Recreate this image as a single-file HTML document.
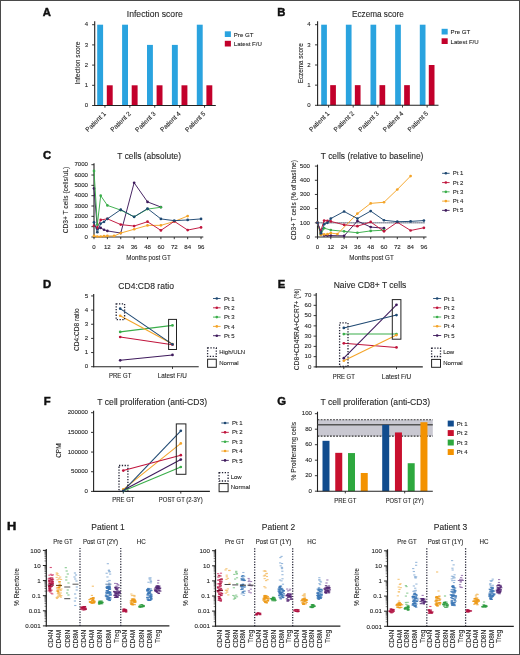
<!DOCTYPE html>
<html><head><meta charset="utf-8"><title>Figure</title>
<style>
html,body{margin:0;padding:0;background:#fff;}
svg{display:block;font-family:"Liberation Sans",sans-serif;will-change:transform;}
text{fill:#262626;stroke:#262626;stroke-width:0.1px;}
</style></head><body>
<svg width="520" height="655" viewBox="0 0 520 655">
<rect x="0" y="0" width="520" height="655" fill="#fff"/>
<text x="42.70" y="15.90" font-size="11.3" font-weight="bold" fill="#111" style="stroke:#111;stroke-width:0.45px;fill:#111">A</text>
<line x1="94.70" y1="21.20" x2="94.70" y2="106.00" stroke="#222" stroke-width="1.1"/>
<line x1="92.10" y1="105.50" x2="94.70" y2="105.50" stroke="#222" stroke-width="0.9"/>
<text x="88.20" y="107.18" font-size="6" text-anchor="end">0</text>
<line x1="92.10" y1="85.30" x2="94.70" y2="85.30" stroke="#222" stroke-width="0.9"/>
<text x="88.20" y="86.98" font-size="6" text-anchor="end">1</text>
<line x1="92.10" y1="65.10" x2="94.70" y2="65.10" stroke="#222" stroke-width="0.9"/>
<text x="88.20" y="66.78" font-size="6" text-anchor="end">2</text>
<line x1="92.10" y1="44.90" x2="94.70" y2="44.90" stroke="#222" stroke-width="0.9"/>
<text x="88.20" y="46.58" font-size="6" text-anchor="end">3</text>
<line x1="92.10" y1="24.70" x2="94.70" y2="24.70" stroke="#222" stroke-width="0.9"/>
<text x="88.20" y="26.38" font-size="6" text-anchor="end">4</text>
<rect x="97.20" y="24.70" width="5.90" height="80.80" fill="#2aa3df"/>
<rect x="106.80" y="85.30" width="5.90" height="20.20" fill="#c2002b"/>
<rect x="122.10" y="24.70" width="5.90" height="80.80" fill="#2aa3df"/>
<rect x="131.70" y="85.30" width="5.90" height="20.20" fill="#c2002b"/>
<rect x="147.00" y="44.90" width="5.90" height="60.60" fill="#2aa3df"/>
<rect x="156.60" y="85.30" width="5.90" height="20.20" fill="#c2002b"/>
<rect x="171.90" y="44.90" width="5.90" height="60.60" fill="#2aa3df"/>
<rect x="181.50" y="85.30" width="5.90" height="20.20" fill="#c2002b"/>
<rect x="196.80" y="24.70" width="5.90" height="80.80" fill="#2aa3df"/>
<rect x="206.40" y="85.30" width="5.90" height="20.20" fill="#c2002b"/>
<line x1="94.20" y1="105.50" x2="215.80" y2="105.50" stroke="#222" stroke-width="1.1"/>
<line x1="104.95" y1="105.50" x2="104.95" y2="107.70" stroke="#222" stroke-width="0.9"/>
<line x1="129.85" y1="105.50" x2="129.85" y2="107.70" stroke="#222" stroke-width="0.9"/>
<line x1="154.75" y1="105.50" x2="154.75" y2="107.70" stroke="#222" stroke-width="0.9"/>
<line x1="179.65" y1="105.50" x2="179.65" y2="107.70" stroke="#222" stroke-width="0.9"/>
<line x1="204.55" y1="105.50" x2="204.55" y2="107.70" stroke="#222" stroke-width="0.9"/>
<text x="106.35" y="114.10" font-size="6.55" text-anchor="end" transform="rotate(-45 106.35 114.10)">Patient 1</text>
<text x="131.25" y="114.10" font-size="6.55" text-anchor="end" transform="rotate(-45 131.25 114.10)">Patient 2</text>
<text x="156.15" y="114.10" font-size="6.55" text-anchor="end" transform="rotate(-45 156.15 114.10)">Patient 3</text>
<text x="181.05" y="114.10" font-size="6.55" text-anchor="end" transform="rotate(-45 181.05 114.10)">Patient 4</text>
<text x="205.95" y="114.10" font-size="6.55" text-anchor="end" transform="rotate(-45 205.95 114.10)">Patient 5</text>
<text x="154.80" y="16.60" font-size="8.2" text-anchor="middle" textLength="56" lengthAdjust="spacingAndGlyphs">Infection score</text>
<text x="79.60" y="63.00" font-size="7.6" text-anchor="middle" transform="rotate(-90 79.60 63.00)" textLength="43" lengthAdjust="spacingAndGlyphs">Infection score</text>
<rect x="224.80" y="31.30" width="6.10" height="5.70" fill="#2aa3df"/>
<rect x="224.80" y="40.80" width="6.10" height="5.70" fill="#c2002b"/>
<text x="233.80" y="36.60" font-size="6.1">Pre GT</text>
<text x="233.80" y="46.10" font-size="6.1">Latest F/U</text>
<text x="277.30" y="16.40" font-size="11.3" font-weight="bold" fill="#111" style="stroke:#111;stroke-width:0.45px;fill:#111">B</text>
<line x1="317.60" y1="21.20" x2="317.60" y2="105.80" stroke="#222" stroke-width="1.1"/>
<line x1="315.00" y1="105.30" x2="317.60" y2="105.30" stroke="#222" stroke-width="0.9"/>
<text x="310.60" y="106.98" font-size="6" text-anchor="end">0</text>
<line x1="315.00" y1="85.15" x2="317.60" y2="85.15" stroke="#222" stroke-width="0.9"/>
<text x="310.60" y="86.83" font-size="6" text-anchor="end">1</text>
<line x1="315.00" y1="65.00" x2="317.60" y2="65.00" stroke="#222" stroke-width="0.9"/>
<text x="310.60" y="66.68" font-size="6" text-anchor="end">2</text>
<line x1="315.00" y1="44.85" x2="317.60" y2="44.85" stroke="#222" stroke-width="0.9"/>
<text x="310.60" y="46.53" font-size="6" text-anchor="end">3</text>
<line x1="315.00" y1="24.70" x2="317.60" y2="24.70" stroke="#222" stroke-width="0.9"/>
<text x="310.60" y="26.38" font-size="6" text-anchor="end">4</text>
<rect x="321.20" y="24.70" width="5.70" height="80.60" fill="#2aa3df"/>
<rect x="330.20" y="85.15" width="5.70" height="20.15" fill="#c2002b"/>
<rect x="345.85" y="24.70" width="5.70" height="80.60" fill="#2aa3df"/>
<rect x="354.85" y="85.15" width="5.70" height="20.15" fill="#c2002b"/>
<rect x="370.50" y="24.70" width="5.70" height="80.60" fill="#2aa3df"/>
<rect x="379.50" y="85.15" width="5.70" height="20.15" fill="#c2002b"/>
<rect x="395.15" y="24.70" width="5.70" height="80.60" fill="#2aa3df"/>
<rect x="404.15" y="85.15" width="5.70" height="20.15" fill="#c2002b"/>
<rect x="419.80" y="24.70" width="5.70" height="80.60" fill="#2aa3df"/>
<rect x="428.80" y="65.00" width="5.70" height="40.30" fill="#c2002b"/>
<line x1="317.10" y1="105.30" x2="438.50" y2="105.30" stroke="#222" stroke-width="1.1"/>
<line x1="328.55" y1="105.30" x2="328.55" y2="107.50" stroke="#222" stroke-width="0.9"/>
<line x1="353.20" y1="105.30" x2="353.20" y2="107.50" stroke="#222" stroke-width="0.9"/>
<line x1="377.85" y1="105.30" x2="377.85" y2="107.50" stroke="#222" stroke-width="0.9"/>
<line x1="402.50" y1="105.30" x2="402.50" y2="107.50" stroke="#222" stroke-width="0.9"/>
<line x1="427.15" y1="105.30" x2="427.15" y2="107.50" stroke="#222" stroke-width="0.9"/>
<text x="329.95" y="113.90" font-size="6.55" text-anchor="end" transform="rotate(-45 329.95 113.90)">Patient 1</text>
<text x="354.60" y="113.90" font-size="6.55" text-anchor="end" transform="rotate(-45 354.60 113.90)">Patient 2</text>
<text x="379.25" y="113.90" font-size="6.55" text-anchor="end" transform="rotate(-45 379.25 113.90)">Patient 3</text>
<text x="403.90" y="113.90" font-size="6.55" text-anchor="end" transform="rotate(-45 403.90 113.90)">Patient 4</text>
<text x="428.55" y="113.90" font-size="6.55" text-anchor="end" transform="rotate(-45 428.55 113.90)">Patient 5</text>
<text x="377.90" y="16.60" font-size="8.2" text-anchor="middle" textLength="51.8" lengthAdjust="spacingAndGlyphs">Eczema score</text>
<text x="302.80" y="63.30" font-size="7.6" text-anchor="middle" transform="rotate(-90 302.80 63.30)" textLength="40" lengthAdjust="spacingAndGlyphs">Eczema score</text>
<rect x="441.60" y="28.80" width="6.10" height="5.70" fill="#2aa3df"/>
<rect x="441.60" y="38.30" width="6.10" height="5.70" fill="#c2002b"/>
<text x="450.60" y="34.10" font-size="6.1">Pre GT</text>
<text x="450.60" y="43.60" font-size="6.1">Latest F/U</text>
<text x="43.10" y="158.60" font-size="11.3" font-weight="bold" fill="#111" style="stroke:#111;stroke-width:0.45px;fill:#111">C</text>
<line x1="94.00" y1="163.19" x2="94.00" y2="237.50" stroke="#222" stroke-width="1.1"/>
<line x1="91.40" y1="237.00" x2="94.00" y2="237.00" stroke="#222" stroke-width="0.9"/>
<text x="88.00" y="238.71" font-size="6.1" text-anchor="end">0</text>
<line x1="91.40" y1="226.67" x2="94.00" y2="226.67" stroke="#222" stroke-width="0.9"/>
<text x="88.00" y="228.38" font-size="6.1" text-anchor="end">1000</text>
<line x1="91.40" y1="216.34" x2="94.00" y2="216.34" stroke="#222" stroke-width="0.9"/>
<text x="88.00" y="218.05" font-size="6.1" text-anchor="end">2000</text>
<line x1="91.40" y1="206.01" x2="94.00" y2="206.01" stroke="#222" stroke-width="0.9"/>
<text x="88.00" y="207.72" font-size="6.1" text-anchor="end">3000</text>
<line x1="91.40" y1="195.68" x2="94.00" y2="195.68" stroke="#222" stroke-width="0.9"/>
<text x="88.00" y="197.39" font-size="6.1" text-anchor="end">4000</text>
<line x1="91.40" y1="185.35" x2="94.00" y2="185.35" stroke="#222" stroke-width="0.9"/>
<text x="88.00" y="187.06" font-size="6.1" text-anchor="end">5000</text>
<line x1="91.40" y1="175.02" x2="94.00" y2="175.02" stroke="#222" stroke-width="0.9"/>
<text x="88.00" y="176.73" font-size="6.1" text-anchor="end">6000</text>
<line x1="91.40" y1="164.69" x2="94.00" y2="164.69" stroke="#222" stroke-width="0.9"/>
<text x="88.00" y="166.40" font-size="6.1" text-anchor="end">7000</text>
<line x1="93.50" y1="237.00" x2="203.30" y2="237.00" stroke="#222" stroke-width="1.1"/>
<line x1="94.00" y1="237.00" x2="94.00" y2="239.20" stroke="#222" stroke-width="0.9"/>
<line x1="107.38" y1="237.00" x2="107.38" y2="239.20" stroke="#222" stroke-width="0.9"/>
<line x1="120.76" y1="237.00" x2="120.76" y2="239.20" stroke="#222" stroke-width="0.9"/>
<line x1="134.14" y1="237.00" x2="134.14" y2="239.20" stroke="#222" stroke-width="0.9"/>
<line x1="147.52" y1="237.00" x2="147.52" y2="239.20" stroke="#222" stroke-width="0.9"/>
<line x1="160.90" y1="237.00" x2="160.90" y2="239.20" stroke="#222" stroke-width="0.9"/>
<line x1="174.28" y1="237.00" x2="174.28" y2="239.20" stroke="#222" stroke-width="0.9"/>
<line x1="187.66" y1="237.00" x2="187.66" y2="239.20" stroke="#222" stroke-width="0.9"/>
<line x1="201.04" y1="237.00" x2="201.04" y2="239.20" stroke="#222" stroke-width="0.9"/>
<text x="94.00" y="248.80" font-size="6.1" text-anchor="middle">0</text>
<text x="107.38" y="248.80" font-size="6.1" text-anchor="middle">12</text>
<text x="120.76" y="248.80" font-size="6.1" text-anchor="middle">24</text>
<text x="134.14" y="248.80" font-size="6.1" text-anchor="middle">36</text>
<text x="147.52" y="248.80" font-size="6.1" text-anchor="middle">48</text>
<text x="160.90" y="248.80" font-size="6.1" text-anchor="middle">60</text>
<text x="174.28" y="248.80" font-size="6.1" text-anchor="middle">72</text>
<text x="187.66" y="248.80" font-size="6.1" text-anchor="middle">84</text>
<text x="201.04" y="248.80" font-size="6.1" text-anchor="middle">96</text>
<polyline points="94.00,188.45 97.34,228.53 100.69,227.91 104.03,229.77 107.38,230.91 120.76,233.07 134.14,182.77 147.52,201.88 160.90,207.04" fill="none" stroke="#3e1a5c" stroke-width="0.95" stroke-linejoin="round"/>
<circle cx="94.00" cy="188.45" r="1.35" fill="#3e1a5c"/>
<circle cx="97.34" cy="228.53" r="1.35" fill="#3e1a5c"/>
<circle cx="100.69" cy="227.91" r="1.35" fill="#3e1a5c"/>
<circle cx="104.03" cy="229.77" r="1.35" fill="#3e1a5c"/>
<circle cx="107.38" cy="230.91" r="1.35" fill="#3e1a5c"/>
<circle cx="120.76" cy="233.07" r="1.35" fill="#3e1a5c"/>
<circle cx="134.14" cy="182.77" r="1.35" fill="#3e1a5c"/>
<circle cx="147.52" cy="201.88" r="1.35" fill="#3e1a5c"/>
<circle cx="160.90" cy="207.04" r="1.35" fill="#3e1a5c"/>
<polyline points="94.00,235.97 97.34,236.48 100.69,236.48 104.03,236.17 107.38,235.97 114.07,235.97 120.76,233.07 134.14,229.25 147.52,225.43 160.90,225.33 174.28,221.50 187.66,216.03" fill="none" stroke="#f4a428" stroke-width="0.95" stroke-linejoin="round"/>
<circle cx="94.00" cy="235.97" r="1.35" fill="#f4a428"/>
<circle cx="97.34" cy="236.48" r="1.35" fill="#f4a428"/>
<circle cx="100.69" cy="236.48" r="1.35" fill="#f4a428"/>
<circle cx="104.03" cy="236.17" r="1.35" fill="#f4a428"/>
<circle cx="107.38" cy="235.97" r="1.35" fill="#f4a428"/>
<circle cx="114.07" cy="235.97" r="1.35" fill="#f4a428"/>
<circle cx="120.76" cy="233.07" r="1.35" fill="#f4a428"/>
<circle cx="134.14" cy="229.25" r="1.35" fill="#f4a428"/>
<circle cx="147.52" cy="225.43" r="1.35" fill="#f4a428"/>
<circle cx="160.90" cy="225.33" r="1.35" fill="#f4a428"/>
<circle cx="174.28" cy="221.50" r="1.35" fill="#f4a428"/>
<circle cx="187.66" cy="216.03" r="1.35" fill="#f4a428"/>
<polyline points="94.00,225.64 97.34,227.70 100.69,219.96 107.38,218.82 120.76,224.60 134.14,226.05 147.52,221.71 160.90,230.39 174.28,221.30 187.66,230.08 201.04,227.39" fill="none" stroke="#c0143c" stroke-width="0.95" stroke-linejoin="round"/>
<circle cx="94.00" cy="225.64" r="1.35" fill="#c0143c"/>
<circle cx="97.34" cy="227.70" r="1.35" fill="#c0143c"/>
<circle cx="100.69" cy="219.96" r="1.35" fill="#c0143c"/>
<circle cx="107.38" cy="218.82" r="1.35" fill="#c0143c"/>
<circle cx="120.76" cy="224.60" r="1.35" fill="#c0143c"/>
<circle cx="134.14" cy="226.05" r="1.35" fill="#c0143c"/>
<circle cx="147.52" cy="221.71" r="1.35" fill="#c0143c"/>
<circle cx="160.90" cy="230.39" r="1.35" fill="#c0143c"/>
<circle cx="174.28" cy="221.30" r="1.35" fill="#c0143c"/>
<circle cx="187.66" cy="230.08" r="1.35" fill="#c0143c"/>
<circle cx="201.04" cy="227.39" r="1.35" fill="#c0143c"/>
<polyline points="94.00,170.89 97.34,224.60 100.69,195.68 107.38,205.39 120.76,210.14 134.14,216.86 147.52,209.11 160.90,207.25" fill="none" stroke="#3aae4a" stroke-width="0.95" stroke-linejoin="round"/>
<circle cx="94.00" cy="170.89" r="1.35" fill="#3aae4a"/>
<circle cx="97.34" cy="224.60" r="1.35" fill="#3aae4a"/>
<circle cx="100.69" cy="195.68" r="1.35" fill="#3aae4a"/>
<circle cx="107.38" cy="205.39" r="1.35" fill="#3aae4a"/>
<circle cx="120.76" cy="210.14" r="1.35" fill="#3aae4a"/>
<circle cx="134.14" cy="216.86" r="1.35" fill="#3aae4a"/>
<circle cx="147.52" cy="209.11" r="1.35" fill="#3aae4a"/>
<circle cx="160.90" cy="207.25" r="1.35" fill="#3aae4a"/>
<polyline points="94.00,222.33 97.34,232.14 100.69,223.57 104.03,221.81 107.38,218.82 120.76,209.63 134.14,216.86 147.52,208.59 160.90,218.92 174.28,220.68 187.66,219.96 201.04,218.92" fill="none" stroke="#1e4872" stroke-width="0.95" stroke-linejoin="round"/>
<circle cx="94.00" cy="222.33" r="1.35" fill="#1e4872"/>
<circle cx="97.34" cy="232.14" r="1.35" fill="#1e4872"/>
<circle cx="100.69" cy="223.57" r="1.35" fill="#1e4872"/>
<circle cx="104.03" cy="221.81" r="1.35" fill="#1e4872"/>
<circle cx="107.38" cy="218.82" r="1.35" fill="#1e4872"/>
<circle cx="120.76" cy="209.63" r="1.35" fill="#1e4872"/>
<circle cx="134.14" cy="216.86" r="1.35" fill="#1e4872"/>
<circle cx="147.52" cy="208.59" r="1.35" fill="#1e4872"/>
<circle cx="160.90" cy="218.92" r="1.35" fill="#1e4872"/>
<circle cx="174.28" cy="220.68" r="1.35" fill="#1e4872"/>
<circle cx="187.66" cy="219.96" r="1.35" fill="#1e4872"/>
<circle cx="201.04" cy="218.92" r="1.35" fill="#1e4872"/>
<text x="149.20" y="158.50" font-size="8.3" text-anchor="middle" textLength="63.7" lengthAdjust="spacingAndGlyphs">T cells (absolute)</text>
<text x="148.50" y="259.70" font-size="8" text-anchor="middle" textLength="44.5" lengthAdjust="spacingAndGlyphs">Months post GT</text>
<text x="68.00" y="200.00" font-size="7.4" text-anchor="middle" transform="rotate(-90 68.00 200.00)" textLength="66.4" lengthAdjust="spacingAndGlyphs">CD3+ T cells (cells/uL)</text>
<line x1="317.50" y1="164.60" x2="317.50" y2="237.50" stroke="#222" stroke-width="1.1"/>
<line x1="314.90" y1="237.00" x2="317.50" y2="237.00" stroke="#222" stroke-width="0.9"/>
<text x="310.00" y="238.71" font-size="6.1" text-anchor="end">0</text>
<line x1="314.90" y1="222.82" x2="317.50" y2="222.82" stroke="#222" stroke-width="0.9"/>
<text x="310.00" y="224.53" font-size="6.1" text-anchor="end">100</text>
<line x1="314.90" y1="208.64" x2="317.50" y2="208.64" stroke="#222" stroke-width="0.9"/>
<text x="310.00" y="210.35" font-size="6.1" text-anchor="end">200</text>
<line x1="314.90" y1="194.46" x2="317.50" y2="194.46" stroke="#222" stroke-width="0.9"/>
<text x="310.00" y="196.17" font-size="6.1" text-anchor="end">300</text>
<line x1="314.90" y1="180.28" x2="317.50" y2="180.28" stroke="#222" stroke-width="0.9"/>
<text x="310.00" y="181.99" font-size="6.1" text-anchor="end">400</text>
<line x1="314.90" y1="166.10" x2="317.50" y2="166.10" stroke="#222" stroke-width="0.9"/>
<text x="310.00" y="167.81" font-size="6.1" text-anchor="end">500</text>
<line x1="317.00" y1="237.00" x2="426.50" y2="237.00" stroke="#222" stroke-width="1.1"/>
<line x1="317.50" y1="237.00" x2="317.50" y2="239.20" stroke="#222" stroke-width="0.9"/>
<line x1="330.80" y1="237.00" x2="330.80" y2="239.20" stroke="#222" stroke-width="0.9"/>
<line x1="344.10" y1="237.00" x2="344.10" y2="239.20" stroke="#222" stroke-width="0.9"/>
<line x1="357.40" y1="237.00" x2="357.40" y2="239.20" stroke="#222" stroke-width="0.9"/>
<line x1="370.70" y1="237.00" x2="370.70" y2="239.20" stroke="#222" stroke-width="0.9"/>
<line x1="384.00" y1="237.00" x2="384.00" y2="239.20" stroke="#222" stroke-width="0.9"/>
<line x1="397.30" y1="237.00" x2="397.30" y2="239.20" stroke="#222" stroke-width="0.9"/>
<line x1="410.60" y1="237.00" x2="410.60" y2="239.20" stroke="#222" stroke-width="0.9"/>
<line x1="423.90" y1="237.00" x2="423.90" y2="239.20" stroke="#222" stroke-width="0.9"/>
<text x="317.50" y="248.80" font-size="6.1" text-anchor="middle">0</text>
<text x="330.80" y="248.80" font-size="6.1" text-anchor="middle">12</text>
<text x="344.10" y="248.80" font-size="6.1" text-anchor="middle">24</text>
<text x="357.40" y="248.80" font-size="6.1" text-anchor="middle">36</text>
<text x="370.70" y="248.80" font-size="6.1" text-anchor="middle">48</text>
<text x="384.00" y="248.80" font-size="6.1" text-anchor="middle">60</text>
<text x="397.30" y="248.80" font-size="6.1" text-anchor="middle">72</text>
<text x="410.60" y="248.80" font-size="6.1" text-anchor="middle">84</text>
<text x="423.90" y="248.80" font-size="6.1" text-anchor="middle">96</text>
<line x1="317.50" y1="222.82" x2="425.50" y2="222.82" stroke="#2a3550" stroke-width="1.5" stroke-dasharray="0.9,1.1"/>
<polyline points="317.50,222.82 320.82,232.46 324.15,235.44 327.48,235.58 330.80,235.58 344.10,235.87 357.40,220.98 370.70,227.07 384.00,228.21" fill="none" stroke="#3e1a5c" stroke-width="0.95" stroke-linejoin="round"/>
<circle cx="317.50" cy="222.82" r="1.35" fill="#3e1a5c"/>
<circle cx="320.82" cy="232.46" r="1.35" fill="#3e1a5c"/>
<circle cx="324.15" cy="235.44" r="1.35" fill="#3e1a5c"/>
<circle cx="327.48" cy="235.58" r="1.35" fill="#3e1a5c"/>
<circle cx="330.80" cy="235.58" r="1.35" fill="#3e1a5c"/>
<circle cx="344.10" cy="235.87" r="1.35" fill="#3e1a5c"/>
<circle cx="357.40" cy="220.98" r="1.35" fill="#3e1a5c"/>
<circle cx="370.70" cy="227.07" r="1.35" fill="#3e1a5c"/>
<circle cx="384.00" cy="228.21" r="1.35" fill="#3e1a5c"/>
<polyline points="317.50,222.82 320.82,234.45 324.15,228.21 330.80,230.05 344.10,231.33 357.40,232.75 370.70,230.90 384.00,230.19" fill="none" stroke="#3aae4a" stroke-width="0.95" stroke-linejoin="round"/>
<circle cx="317.50" cy="222.82" r="1.35" fill="#3aae4a"/>
<circle cx="320.82" cy="234.45" r="1.35" fill="#3aae4a"/>
<circle cx="324.15" cy="228.21" r="1.35" fill="#3aae4a"/>
<circle cx="330.80" cy="230.05" r="1.35" fill="#3aae4a"/>
<circle cx="344.10" cy="231.33" r="1.35" fill="#3aae4a"/>
<circle cx="357.40" cy="232.75" r="1.35" fill="#3aae4a"/>
<circle cx="370.70" cy="230.90" r="1.35" fill="#3aae4a"/>
<circle cx="384.00" cy="230.19" r="1.35" fill="#3aae4a"/>
<polyline points="317.50,222.82 320.82,234.87 324.15,234.45 327.48,234.16 330.80,233.03 337.45,234.02 357.40,213.60 370.70,203.39 384.00,202.26 397.30,189.50 410.60,176.03" fill="none" stroke="#f4a428" stroke-width="0.95" stroke-linejoin="round"/>
<circle cx="317.50" cy="222.82" r="1.35" fill="#f4a428"/>
<circle cx="320.82" cy="234.87" r="1.35" fill="#f4a428"/>
<circle cx="324.15" cy="234.45" r="1.35" fill="#f4a428"/>
<circle cx="327.48" cy="234.16" r="1.35" fill="#f4a428"/>
<circle cx="330.80" cy="233.03" r="1.35" fill="#f4a428"/>
<circle cx="337.45" cy="234.02" r="1.35" fill="#f4a428"/>
<circle cx="357.40" cy="213.60" r="1.35" fill="#f4a428"/>
<circle cx="370.70" cy="203.39" r="1.35" fill="#f4a428"/>
<circle cx="384.00" cy="202.26" r="1.35" fill="#f4a428"/>
<circle cx="397.30" cy="189.50" r="1.35" fill="#f4a428"/>
<circle cx="410.60" cy="176.03" r="1.35" fill="#f4a428"/>
<polyline points="317.50,222.82 320.82,230.62 324.15,220.55 327.48,220.83 330.80,221.40 344.10,224.81 357.40,226.22 370.70,221.97 384.00,231.33 397.30,222.25 410.60,230.48 423.90,227.78" fill="none" stroke="#c0143c" stroke-width="0.95" stroke-linejoin="round"/>
<circle cx="317.50" cy="222.82" r="1.35" fill="#c0143c"/>
<circle cx="320.82" cy="230.62" r="1.35" fill="#c0143c"/>
<circle cx="324.15" cy="220.55" r="1.35" fill="#c0143c"/>
<circle cx="327.48" cy="220.83" r="1.35" fill="#c0143c"/>
<circle cx="330.80" cy="221.40" r="1.35" fill="#c0143c"/>
<circle cx="344.10" cy="224.81" r="1.35" fill="#c0143c"/>
<circle cx="357.40" cy="226.22" r="1.35" fill="#c0143c"/>
<circle cx="370.70" cy="221.97" r="1.35" fill="#c0143c"/>
<circle cx="384.00" cy="231.33" r="1.35" fill="#c0143c"/>
<circle cx="397.30" cy="222.25" r="1.35" fill="#c0143c"/>
<circle cx="410.60" cy="230.48" r="1.35" fill="#c0143c"/>
<circle cx="423.90" cy="227.78" r="1.35" fill="#c0143c"/>
<polyline points="317.50,222.82 320.82,233.46 324.15,224.24 327.48,222.82 330.80,218.57 344.10,211.48 357.40,218.57 370.70,211.05 384.00,220.27 397.30,221.69 410.60,221.40 423.90,220.55" fill="none" stroke="#1e4872" stroke-width="0.95" stroke-linejoin="round"/>
<circle cx="317.50" cy="222.82" r="1.35" fill="#1e4872"/>
<circle cx="320.82" cy="233.46" r="1.35" fill="#1e4872"/>
<circle cx="324.15" cy="224.24" r="1.35" fill="#1e4872"/>
<circle cx="327.48" cy="222.82" r="1.35" fill="#1e4872"/>
<circle cx="330.80" cy="218.57" r="1.35" fill="#1e4872"/>
<circle cx="344.10" cy="211.48" r="1.35" fill="#1e4872"/>
<circle cx="357.40" cy="218.57" r="1.35" fill="#1e4872"/>
<circle cx="370.70" cy="211.05" r="1.35" fill="#1e4872"/>
<circle cx="384.00" cy="220.27" r="1.35" fill="#1e4872"/>
<circle cx="397.30" cy="221.69" r="1.35" fill="#1e4872"/>
<circle cx="410.60" cy="221.40" r="1.35" fill="#1e4872"/>
<circle cx="423.90" cy="220.55" r="1.35" fill="#1e4872"/>
<text x="372.10" y="158.50" font-size="8.3" text-anchor="middle" textLength="102.6" lengthAdjust="spacingAndGlyphs">T cells (relative to baseline)</text>
<text x="371.50" y="259.70" font-size="8" text-anchor="middle" textLength="44.5" lengthAdjust="spacingAndGlyphs">Months post GT</text>
<text x="295.80" y="200.00" font-size="7.4" text-anchor="middle" transform="rotate(-90 295.80 200.00)" textLength="80" lengthAdjust="spacingAndGlyphs">CD3+ T cells (% of basline)</text>
<line x1="442.10" y1="173.30" x2="449.60" y2="173.30" stroke="#1e4872" stroke-width="0.9"/>
<circle cx="445.85" cy="173.30" r="1.3" fill="#1e4872"/>
<text x="452.70" y="175.40" font-size="6.0">Pt 1</text>
<line x1="442.10" y1="182.57" x2="449.60" y2="182.57" stroke="#c0143c" stroke-width="0.9"/>
<circle cx="445.85" cy="182.57" r="1.3" fill="#c0143c"/>
<text x="452.70" y="184.67" font-size="6.0">Pt 2</text>
<line x1="442.10" y1="191.84" x2="449.60" y2="191.84" stroke="#3aae4a" stroke-width="0.9"/>
<circle cx="445.85" cy="191.84" r="1.3" fill="#3aae4a"/>
<text x="452.70" y="193.94" font-size="6.0">Pt 3</text>
<line x1="442.10" y1="201.11" x2="449.60" y2="201.11" stroke="#f4a428" stroke-width="0.9"/>
<circle cx="445.85" cy="201.11" r="1.3" fill="#f4a428"/>
<text x="452.70" y="203.21" font-size="6.0">Pt 4</text>
<line x1="442.10" y1="210.38" x2="449.60" y2="210.38" stroke="#3e1a5c" stroke-width="0.9"/>
<circle cx="445.85" cy="210.38" r="1.3" fill="#3e1a5c"/>
<text x="452.70" y="212.48" font-size="6.0">Pt 5</text>
<text x="43.10" y="287.50" font-size="11.3" font-weight="bold" fill="#111" style="stroke:#111;stroke-width:0.45px;fill:#111">D</text>
<line x1="93.70" y1="293.95" x2="93.70" y2="367.20" stroke="#222" stroke-width="1.1"/>
<line x1="91.10" y1="366.70" x2="93.70" y2="366.70" stroke="#222" stroke-width="0.9"/>
<text x="88.20" y="368.41" font-size="6.1" text-anchor="end">0</text>
<line x1="91.10" y1="352.55" x2="93.70" y2="352.55" stroke="#222" stroke-width="0.9"/>
<text x="88.20" y="354.26" font-size="6.1" text-anchor="end">1</text>
<line x1="91.10" y1="338.40" x2="93.70" y2="338.40" stroke="#222" stroke-width="0.9"/>
<text x="88.20" y="340.11" font-size="6.1" text-anchor="end">2</text>
<line x1="91.10" y1="324.25" x2="93.70" y2="324.25" stroke="#222" stroke-width="0.9"/>
<text x="88.20" y="325.96" font-size="6.1" text-anchor="end">3</text>
<line x1="91.10" y1="310.10" x2="93.70" y2="310.10" stroke="#222" stroke-width="0.9"/>
<text x="88.20" y="311.81" font-size="6.1" text-anchor="end">4</text>
<line x1="91.10" y1="295.95" x2="93.70" y2="295.95" stroke="#222" stroke-width="0.9"/>
<text x="88.20" y="297.66" font-size="6.1" text-anchor="end">5</text>
<line x1="93.20" y1="366.70" x2="198.70" y2="366.70" stroke="#222" stroke-width="1.1"/>
<line x1="120.20" y1="366.70" x2="120.20" y2="368.90" stroke="#222" stroke-width="0.9"/>
<line x1="172.50" y1="366.70" x2="172.50" y2="368.90" stroke="#222" stroke-width="0.9"/>
<polyline points="120.20,360.33 172.50,354.96" fill="none" stroke="#3e1a5c" stroke-width="1.05" stroke-linejoin="round"/>
<circle cx="120.20" cy="360.33" r="1.35" fill="#3e1a5c"/>
<circle cx="172.50" cy="354.96" r="1.35" fill="#3e1a5c"/>
<polyline points="120.20,336.99 172.50,344.77" fill="none" stroke="#c0143c" stroke-width="1.05" stroke-linejoin="round"/>
<circle cx="120.20" cy="336.99" r="1.35" fill="#c0143c"/>
<circle cx="172.50" cy="344.77" r="1.35" fill="#c0143c"/>
<polyline points="120.20,331.89 172.50,325.38" fill="none" stroke="#3aae4a" stroke-width="1.05" stroke-linejoin="round"/>
<circle cx="120.20" cy="331.89" r="1.35" fill="#3aae4a"/>
<circle cx="172.50" cy="325.38" r="1.35" fill="#3aae4a"/>
<polyline points="120.20,315.76 172.50,344.06" fill="none" stroke="#f4a428" stroke-width="1.05" stroke-linejoin="round"/>
<circle cx="120.20" cy="315.76" r="1.35" fill="#f4a428"/>
<circle cx="172.50" cy="344.06" r="1.35" fill="#f4a428"/>
<polyline points="120.20,308.69 172.50,344.34" fill="none" stroke="#1e4872" stroke-width="1.05" stroke-linejoin="round"/>
<circle cx="120.20" cy="308.69" r="1.35" fill="#1e4872"/>
<circle cx="172.50" cy="344.34" r="1.35" fill="#1e4872"/>
<rect x="116.20" y="303.90" width="8.40" height="15.80" fill="none" stroke="#222233" stroke-width="1.3" stroke-dasharray="1.3,1.5"/>
<rect x="168.60" y="319.40" width="7.90" height="30.10" fill="none" stroke="#222" stroke-width="1.0"/>
<text x="146.20" y="289.00" font-size="8.2" text-anchor="middle" textLength="55.7" lengthAdjust="spacingAndGlyphs">CD4:CD8 ratio</text>
<text x="79.20" y="329.60" font-size="7.4" text-anchor="middle" transform="rotate(-90 79.20 329.60)" textLength="42.7" lengthAdjust="spacingAndGlyphs">CD4:CD8 ratio</text>
<text x="120.20" y="378.30" font-size="6.3" text-anchor="middle" textLength="22.2" lengthAdjust="spacingAndGlyphs">PRE GT</text>
<text x="172.30" y="378.30" font-size="6.3" text-anchor="middle" textLength="29.3" lengthAdjust="spacingAndGlyphs">Latest F/U</text>
<line x1="213.00" y1="298.50" x2="220.60" y2="298.50" stroke="#1e4872" stroke-width="0.9"/>
<circle cx="216.80" cy="298.50" r="1.3" fill="#1e4872"/>
<text x="224.00" y="300.60" font-size="6.0">Pt 1</text>
<line x1="213.00" y1="307.80" x2="220.60" y2="307.80" stroke="#c0143c" stroke-width="0.9"/>
<circle cx="216.80" cy="307.80" r="1.3" fill="#c0143c"/>
<text x="224.00" y="309.90" font-size="6.0">Pt 2</text>
<line x1="213.00" y1="317.10" x2="220.60" y2="317.10" stroke="#3aae4a" stroke-width="0.9"/>
<circle cx="216.80" cy="317.10" r="1.3" fill="#3aae4a"/>
<text x="224.00" y="319.20" font-size="6.0">Pt 3</text>
<line x1="213.00" y1="326.40" x2="220.60" y2="326.40" stroke="#f4a428" stroke-width="0.9"/>
<circle cx="216.80" cy="326.40" r="1.3" fill="#f4a428"/>
<text x="224.00" y="328.50" font-size="6.0">Pt 4</text>
<line x1="213.00" y1="335.70" x2="220.60" y2="335.70" stroke="#3e1a5c" stroke-width="0.9"/>
<circle cx="216.80" cy="335.70" r="1.3" fill="#3e1a5c"/>
<text x="224.00" y="337.80" font-size="6.0">Pt 5</text>
<rect x="207.60" y="347.90" width="8.70" height="8.50" fill="none" stroke="#222233" stroke-width="1.3" stroke-dasharray="1.3,1.5"/>
<rect x="207.60" y="359.20" width="8.70" height="8.10" fill="none" stroke="#222" stroke-width="1.0"/>
<text x="219.20" y="354.30" font-size="6.0" textLength="26" lengthAdjust="spacingAndGlyphs">High/ULN</text>
<text x="219.20" y="364.60" font-size="6.0" textLength="19.4" lengthAdjust="spacingAndGlyphs">Normal</text>
<text x="277.80" y="287.50" font-size="11.3" font-weight="bold" fill="#111" style="stroke:#111;stroke-width:0.45px;fill:#111">E</text>
<line x1="316.20" y1="293.08" x2="316.20" y2="367.40" stroke="#222" stroke-width="1.1"/>
<line x1="313.60" y1="366.90" x2="316.20" y2="366.90" stroke="#222" stroke-width="0.9"/>
<text x="311.30" y="368.61" font-size="6.1" text-anchor="end">0</text>
<line x1="313.60" y1="356.64" x2="316.20" y2="356.64" stroke="#222" stroke-width="0.9"/>
<text x="311.30" y="358.35" font-size="6.1" text-anchor="end">10</text>
<line x1="313.60" y1="346.38" x2="316.20" y2="346.38" stroke="#222" stroke-width="0.9"/>
<text x="311.30" y="348.09" font-size="6.1" text-anchor="end">20</text>
<line x1="313.60" y1="336.12" x2="316.20" y2="336.12" stroke="#222" stroke-width="0.9"/>
<text x="311.30" y="337.83" font-size="6.1" text-anchor="end">30</text>
<line x1="313.60" y1="325.86" x2="316.20" y2="325.86" stroke="#222" stroke-width="0.9"/>
<text x="311.30" y="327.57" font-size="6.1" text-anchor="end">40</text>
<line x1="313.60" y1="315.60" x2="316.20" y2="315.60" stroke="#222" stroke-width="0.9"/>
<text x="311.30" y="317.31" font-size="6.1" text-anchor="end">50</text>
<line x1="313.60" y1="305.34" x2="316.20" y2="305.34" stroke="#222" stroke-width="0.9"/>
<text x="311.30" y="307.05" font-size="6.1" text-anchor="end">60</text>
<line x1="313.60" y1="295.08" x2="316.20" y2="295.08" stroke="#222" stroke-width="0.9"/>
<text x="311.30" y="296.79" font-size="6.1" text-anchor="end">70</text>
<line x1="315.70" y1="366.90" x2="422.80" y2="366.90" stroke="#222" stroke-width="1.1"/>
<line x1="343.80" y1="366.90" x2="343.80" y2="369.10" stroke="#222" stroke-width="0.9"/>
<line x1="396.50" y1="366.90" x2="396.50" y2="369.10" stroke="#222" stroke-width="0.9"/>
<polyline points="343.80,343.30 396.50,347.41" fill="none" stroke="#c0143c" stroke-width="1.05" stroke-linejoin="round"/>
<circle cx="343.80" cy="343.30" r="1.35" fill="#c0143c"/>
<circle cx="396.50" cy="347.41" r="1.35" fill="#c0143c"/>
<polyline points="343.80,334.07 396.50,334.07" fill="none" stroke="#3aae4a" stroke-width="1.05" stroke-linejoin="round"/>
<circle cx="343.80" cy="334.07" r="1.35" fill="#3aae4a"/>
<circle cx="396.50" cy="334.07" r="1.35" fill="#3aae4a"/>
<polyline points="343.80,360.74 396.50,335.09" fill="none" stroke="#f4a428" stroke-width="1.05" stroke-linejoin="round"/>
<circle cx="343.80" cy="360.74" r="1.35" fill="#f4a428"/>
<circle cx="396.50" cy="335.09" r="1.35" fill="#f4a428"/>
<polyline points="343.80,358.18 396.50,304.83" fill="none" stroke="#3e1a5c" stroke-width="1.05" stroke-linejoin="round"/>
<circle cx="343.80" cy="358.18" r="1.35" fill="#3e1a5c"/>
<circle cx="396.50" cy="304.83" r="1.35" fill="#3e1a5c"/>
<polyline points="343.80,327.91 396.50,315.09" fill="none" stroke="#1e4872" stroke-width="1.05" stroke-linejoin="round"/>
<circle cx="343.80" cy="327.91" r="1.35" fill="#1e4872"/>
<circle cx="396.50" cy="315.09" r="1.35" fill="#1e4872"/>
<rect x="339.60" y="322.90" width="8.40" height="43.40" fill="none" stroke="#222233" stroke-width="1.3" stroke-dasharray="1.3,1.5"/>
<rect x="392.30" y="299.60" width="8.60" height="39.60" fill="none" stroke="#222" stroke-width="1.0"/>
<text x="370.00" y="287.70" font-size="8.2" text-anchor="middle" textLength="72.7" lengthAdjust="spacingAndGlyphs">Naive CD8+ T cells</text>
<text x="299.50" y="329.30" font-size="7.2" text-anchor="middle" transform="rotate(-90 299.50 329.30)" textLength="81.8" lengthAdjust="spacingAndGlyphs">CD8+CD45RA+CCR7+ (%)</text>
<text x="343.80" y="378.50" font-size="6.3" text-anchor="middle" textLength="22.2" lengthAdjust="spacingAndGlyphs">PRE GT</text>
<text x="396.50" y="378.50" font-size="6.3" text-anchor="middle" textLength="29.3" lengthAdjust="spacingAndGlyphs">Latest F/U</text>
<line x1="433.10" y1="298.50" x2="441.20" y2="298.50" stroke="#1e4872" stroke-width="0.9"/>
<circle cx="437.15" cy="298.50" r="1.3" fill="#1e4872"/>
<text x="443.80" y="300.60" font-size="6.0">Pt 1</text>
<line x1="433.10" y1="307.75" x2="441.20" y2="307.75" stroke="#c0143c" stroke-width="0.9"/>
<circle cx="437.15" cy="307.75" r="1.3" fill="#c0143c"/>
<text x="443.80" y="309.85" font-size="6.0">Pt 2</text>
<line x1="433.10" y1="317.00" x2="441.20" y2="317.00" stroke="#3aae4a" stroke-width="0.9"/>
<circle cx="437.15" cy="317.00" r="1.3" fill="#3aae4a"/>
<text x="443.80" y="319.10" font-size="6.0">Pt 3</text>
<line x1="433.10" y1="326.25" x2="441.20" y2="326.25" stroke="#f4a428" stroke-width="0.9"/>
<circle cx="437.15" cy="326.25" r="1.3" fill="#f4a428"/>
<text x="443.80" y="328.35" font-size="6.0">Pt 4</text>
<line x1="433.10" y1="335.50" x2="441.20" y2="335.50" stroke="#3e1a5c" stroke-width="0.9"/>
<circle cx="437.15" cy="335.50" r="1.3" fill="#3e1a5c"/>
<text x="443.80" y="337.60" font-size="6.0">Pt 5</text>
<rect x="431.60" y="348.20" width="8.90" height="8.30" fill="none" stroke="#222233" stroke-width="1.3" stroke-dasharray="1.3,1.5"/>
<rect x="431.60" y="359.40" width="8.90" height="7.90" fill="none" stroke="#222" stroke-width="1.0"/>
<text x="443.20" y="354.00" font-size="6.0">Low</text>
<text x="443.20" y="364.70" font-size="6.0" textLength="19.4" lengthAdjust="spacingAndGlyphs">Normal</text>
<text x="43.80" y="405.00" font-size="11.3" font-weight="bold" fill="#111" style="stroke:#111;stroke-width:0.45px;fill:#111">F</text>
<line x1="93.60" y1="410.72" x2="93.60" y2="491.90" stroke="#222" stroke-width="1.1"/>
<line x1="91.00" y1="491.40" x2="93.60" y2="491.40" stroke="#222" stroke-width="0.9"/>
<text x="88.00" y="493.11" font-size="6.1" text-anchor="end">0</text>
<line x1="91.00" y1="471.73" x2="93.60" y2="471.73" stroke="#222" stroke-width="0.9"/>
<text x="88.00" y="473.44" font-size="6.1" text-anchor="end">50000</text>
<line x1="91.00" y1="452.06" x2="93.60" y2="452.06" stroke="#222" stroke-width="0.9"/>
<text x="88.00" y="453.77" font-size="6.1" text-anchor="end">100000</text>
<line x1="91.00" y1="432.39" x2="93.60" y2="432.39" stroke="#222" stroke-width="0.9"/>
<text x="88.00" y="434.10" font-size="6.1" text-anchor="end">150000</text>
<line x1="91.00" y1="412.72" x2="93.60" y2="412.72" stroke="#222" stroke-width="0.9"/>
<text x="88.00" y="414.43" font-size="6.1" text-anchor="end">200000</text>
<line x1="93.10" y1="491.40" x2="209.90" y2="491.40" stroke="#222" stroke-width="1.1"/>
<line x1="123.30" y1="491.40" x2="123.30" y2="493.60" stroke="#222" stroke-width="0.9"/>
<line x1="180.80" y1="491.40" x2="180.80" y2="493.60" stroke="#222" stroke-width="0.9"/>
<polyline points="123.30,491.01 180.80,467.01" fill="none" stroke="#3aae4a" stroke-width="1.05" stroke-linejoin="round"/>
<circle cx="123.30" cy="491.01" r="1.35" fill="#3aae4a"/>
<circle cx="180.80" cy="467.01" r="1.35" fill="#3aae4a"/>
<polyline points="123.30,490.22 180.80,459.53" fill="none" stroke="#3e1a5c" stroke-width="1.05" stroke-linejoin="round"/>
<circle cx="123.30" cy="490.22" r="1.35" fill="#3e1a5c"/>
<circle cx="180.80" cy="459.53" r="1.35" fill="#3e1a5c"/>
<polyline points="123.30,489.43 180.80,443.41" fill="none" stroke="#f4a428" stroke-width="1.05" stroke-linejoin="round"/>
<circle cx="123.30" cy="489.43" r="1.35" fill="#f4a428"/>
<circle cx="180.80" cy="443.41" r="1.35" fill="#f4a428"/>
<polyline points="123.30,490.81 180.80,430.82" fill="none" stroke="#1e4872" stroke-width="1.05" stroke-linejoin="round"/>
<circle cx="123.30" cy="490.81" r="1.35" fill="#1e4872"/>
<circle cx="180.80" cy="430.82" r="1.35" fill="#1e4872"/>
<polyline points="123.30,470.55 180.80,455.21" fill="none" stroke="#c0143c" stroke-width="1.05" stroke-linejoin="round"/>
<circle cx="123.30" cy="470.55" r="1.35" fill="#c0143c"/>
<circle cx="180.80" cy="455.21" r="1.35" fill="#c0143c"/>
<rect x="119.00" y="465.50" width="8.90" height="25.90" fill="none" stroke="#222233" stroke-width="1.3" stroke-dasharray="1.3,1.5"/>
<rect x="176.30" y="423.90" width="9.60" height="50.40" fill="none" stroke="#222" stroke-width="1.0"/>
<text x="152.20" y="404.80" font-size="8.2" text-anchor="middle" textLength="109.7" lengthAdjust="spacingAndGlyphs">T cell proliferation (anti-CD3)</text>
<text x="61.00" y="450.60" font-size="7.4" text-anchor="middle" transform="rotate(-90 61.00 450.60)" textLength="14.5" lengthAdjust="spacingAndGlyphs">CPM</text>
<text x="123.40" y="502.30" font-size="6.3" text-anchor="middle" textLength="22.2" lengthAdjust="spacingAndGlyphs">PRE GT</text>
<text x="180.80" y="502.30" font-size="6.3" text-anchor="middle" textLength="44" lengthAdjust="spacingAndGlyphs">POST GT (2-3Y)</text>
<line x1="221.30" y1="423.00" x2="228.80" y2="423.00" stroke="#1e4872" stroke-width="0.9"/>
<circle cx="225.05" cy="423.00" r="1.3" fill="#1e4872"/>
<text x="231.90" y="425.10" font-size="6.0">Pt 1</text>
<line x1="221.30" y1="432.35" x2="228.80" y2="432.35" stroke="#c0143c" stroke-width="0.9"/>
<circle cx="225.05" cy="432.35" r="1.3" fill="#c0143c"/>
<text x="231.90" y="434.45" font-size="6.0">Pt 2</text>
<line x1="221.30" y1="441.70" x2="228.80" y2="441.70" stroke="#3aae4a" stroke-width="0.9"/>
<circle cx="225.05" cy="441.70" r="1.3" fill="#3aae4a"/>
<text x="231.90" y="443.80" font-size="6.0">Pt 3</text>
<line x1="221.30" y1="451.05" x2="228.80" y2="451.05" stroke="#f4a428" stroke-width="0.9"/>
<circle cx="225.05" cy="451.05" r="1.3" fill="#f4a428"/>
<text x="231.90" y="453.15" font-size="6.0">Pt 4</text>
<line x1="221.30" y1="460.40" x2="228.80" y2="460.40" stroke="#3e1a5c" stroke-width="0.9"/>
<circle cx="225.05" cy="460.40" r="1.3" fill="#3e1a5c"/>
<text x="231.90" y="462.50" font-size="6.0">Pt 5</text>
<rect x="219.10" y="472.60" width="9.00" height="8.40" fill="none" stroke="#222233" stroke-width="1.3" stroke-dasharray="1.3,1.5"/>
<rect x="219.10" y="483.60" width="9.00" height="8.10" fill="none" stroke="#222" stroke-width="1.0"/>
<text x="230.70" y="478.50" font-size="6.0">Low</text>
<text x="230.70" y="489.10" font-size="6.0" textLength="19.4" lengthAdjust="spacingAndGlyphs">Normal</text>
<text x="277.30" y="405.00" font-size="11.3" font-weight="bold" fill="#111" style="stroke:#111;stroke-width:0.45px;fill:#111">G</text>
<rect x="317.60" y="419.75" width="115.20" height="16.43" fill="#c9c8d1"/>
<line x1="317.50" y1="411.70" x2="317.50" y2="491.70" stroke="#222" stroke-width="1.1"/>
<line x1="314.90" y1="491.20" x2="317.50" y2="491.20" stroke="#222" stroke-width="0.9"/>
<text x="312.00" y="492.91" font-size="6.1" text-anchor="end">0</text>
<line x1="314.90" y1="475.70" x2="317.50" y2="475.70" stroke="#222" stroke-width="0.9"/>
<text x="312.00" y="477.41" font-size="6.1" text-anchor="end">20</text>
<line x1="314.90" y1="460.20" x2="317.50" y2="460.20" stroke="#222" stroke-width="0.9"/>
<text x="312.00" y="461.91" font-size="6.1" text-anchor="end">40</text>
<line x1="314.90" y1="444.70" x2="317.50" y2="444.70" stroke="#222" stroke-width="0.9"/>
<text x="312.00" y="446.41" font-size="6.1" text-anchor="end">60</text>
<line x1="314.90" y1="429.20" x2="317.50" y2="429.20" stroke="#222" stroke-width="0.9"/>
<text x="312.00" y="430.91" font-size="6.1" text-anchor="end">80</text>
<line x1="314.90" y1="413.70" x2="317.50" y2="413.70" stroke="#222" stroke-width="0.9"/>
<text x="312.00" y="415.41" font-size="6.1" text-anchor="end">100</text>
<line x1="317.60" y1="419.75" x2="432.80" y2="419.75" stroke="#333" stroke-width="1.2" stroke-dasharray="1.8,1.3"/>
<line x1="317.60" y1="436.18" x2="432.80" y2="436.18" stroke="#333" stroke-width="1.2" stroke-dasharray="1.8,1.3"/>
<line x1="317.60" y1="424.78" x2="432.80" y2="424.78" stroke="#555" stroke-width="1.4"/>
<rect x="322.50" y="440.82" width="7.00" height="50.38" fill="#114c8e"/>
<rect x="382.20" y="424.86" width="7.00" height="66.34" fill="#114c8e"/>
<rect x="335.25" y="452.84" width="7.00" height="38.36" fill="#c8102e"/>
<rect x="394.95" y="432.45" width="7.00" height="58.74" fill="#c8102e"/>
<rect x="348.00" y="453.07" width="7.00" height="38.13" fill="#2ea83e"/>
<rect x="407.70" y="463.22" width="7.00" height="27.98" fill="#2ea83e"/>
<rect x="360.75" y="472.99" width="7.00" height="18.21" fill="#f39200"/>
<rect x="420.45" y="422.22" width="7.00" height="68.98" fill="#f39200"/>
<line x1="317.00" y1="491.20" x2="432.80" y2="491.20" stroke="#222" stroke-width="1.1"/>
<line x1="345.30" y1="491.20" x2="345.30" y2="493.40" stroke="#222" stroke-width="0.9"/>
<line x1="404.70" y1="491.20" x2="404.70" y2="493.40" stroke="#222" stroke-width="0.9"/>
<text x="345.30" y="502.60" font-size="6.3" text-anchor="middle" textLength="22.2" lengthAdjust="spacingAndGlyphs">PRE GT</text>
<text x="404.70" y="502.60" font-size="6.3" text-anchor="middle" textLength="38" lengthAdjust="spacingAndGlyphs">POST GT (2Y)</text>
<text x="375.30" y="404.80" font-size="8.2" text-anchor="middle" textLength="109.7" lengthAdjust="spacingAndGlyphs">T cell proliferation (anti-CD3)</text>
<text x="295.60" y="451.20" font-size="7.4" text-anchor="middle" transform="rotate(-90 295.60 451.20)" textLength="58.8" lengthAdjust="spacingAndGlyphs">% Proliferating cells</text>
<rect x="447.70" y="420.60" width="6.10" height="5.90" fill="#114c8e"/>
<text x="456.80" y="425.80" font-size="6.0">Pt 1</text>
<rect x="447.70" y="430.10" width="6.10" height="5.90" fill="#c8102e"/>
<text x="456.80" y="435.30" font-size="6.0">Pt 2</text>
<rect x="447.70" y="439.60" width="6.10" height="5.90" fill="#2ea83e"/>
<text x="456.80" y="444.80" font-size="6.0">Pt 3</text>
<rect x="447.70" y="449.10" width="6.10" height="5.90" fill="#f39200"/>
<text x="456.80" y="454.30" font-size="6.0">Pt 4</text>
<text x="6.90" y="529.50" font-size="11.3" font-weight="bold" textLength="9.3" lengthAdjust="spacingAndGlyphs" style="stroke:#111;stroke-width:0.45px;fill:#111">H</text>
<line x1="46.30" y1="548.90" x2="46.30" y2="626.40" stroke="#222" stroke-width="1.2"/>
<line x1="42.90" y1="625.90" x2="46.30" y2="625.90" stroke="#222" stroke-width="1.0"/>
<text x="40.70" y="628.10" font-size="6.2" text-anchor="end">0.001</text>
<line x1="44.50" y1="621.35" x2="46.30" y2="621.35" stroke="#222" stroke-width="0.6"/>
<line x1="44.50" y1="618.70" x2="46.30" y2="618.70" stroke="#222" stroke-width="0.6"/>
<line x1="44.50" y1="616.81" x2="46.30" y2="616.81" stroke="#222" stroke-width="0.6"/>
<line x1="44.50" y1="615.35" x2="46.30" y2="615.35" stroke="#222" stroke-width="0.6"/>
<line x1="44.50" y1="614.15" x2="46.30" y2="614.15" stroke="#222" stroke-width="0.6"/>
<line x1="44.50" y1="613.14" x2="46.30" y2="613.14" stroke="#222" stroke-width="0.6"/>
<line x1="44.50" y1="612.26" x2="46.30" y2="612.26" stroke="#222" stroke-width="0.6"/>
<line x1="44.50" y1="611.49" x2="46.30" y2="611.49" stroke="#222" stroke-width="0.6"/>
<line x1="42.90" y1="610.80" x2="46.30" y2="610.80" stroke="#222" stroke-width="1.0"/>
<text x="40.70" y="613.00" font-size="6.2" text-anchor="end">0.01</text>
<line x1="44.50" y1="606.25" x2="46.30" y2="606.25" stroke="#222" stroke-width="0.6"/>
<line x1="44.50" y1="603.60" x2="46.30" y2="603.60" stroke="#222" stroke-width="0.6"/>
<line x1="44.50" y1="601.71" x2="46.30" y2="601.71" stroke="#222" stroke-width="0.6"/>
<line x1="44.50" y1="600.25" x2="46.30" y2="600.25" stroke="#222" stroke-width="0.6"/>
<line x1="44.50" y1="599.05" x2="46.30" y2="599.05" stroke="#222" stroke-width="0.6"/>
<line x1="44.50" y1="598.04" x2="46.30" y2="598.04" stroke="#222" stroke-width="0.6"/>
<line x1="44.50" y1="597.16" x2="46.30" y2="597.16" stroke="#222" stroke-width="0.6"/>
<line x1="44.50" y1="596.39" x2="46.30" y2="596.39" stroke="#222" stroke-width="0.6"/>
<line x1="42.90" y1="595.70" x2="46.30" y2="595.70" stroke="#222" stroke-width="1.0"/>
<text x="40.70" y="597.90" font-size="6.2" text-anchor="end">0.1</text>
<line x1="44.50" y1="591.15" x2="46.30" y2="591.15" stroke="#222" stroke-width="0.6"/>
<line x1="44.50" y1="588.50" x2="46.30" y2="588.50" stroke="#222" stroke-width="0.6"/>
<line x1="44.50" y1="586.61" x2="46.30" y2="586.61" stroke="#222" stroke-width="0.6"/>
<line x1="44.50" y1="585.15" x2="46.30" y2="585.15" stroke="#222" stroke-width="0.6"/>
<line x1="44.50" y1="583.95" x2="46.30" y2="583.95" stroke="#222" stroke-width="0.6"/>
<line x1="44.50" y1="582.94" x2="46.30" y2="582.94" stroke="#222" stroke-width="0.6"/>
<line x1="44.50" y1="582.06" x2="46.30" y2="582.06" stroke="#222" stroke-width="0.6"/>
<line x1="44.50" y1="581.29" x2="46.30" y2="581.29" stroke="#222" stroke-width="0.6"/>
<line x1="42.90" y1="580.60" x2="46.30" y2="580.60" stroke="#222" stroke-width="1.0"/>
<text x="40.70" y="582.80" font-size="6.2" text-anchor="end">1</text>
<line x1="44.50" y1="576.05" x2="46.30" y2="576.05" stroke="#222" stroke-width="0.6"/>
<line x1="44.50" y1="573.40" x2="46.30" y2="573.40" stroke="#222" stroke-width="0.6"/>
<line x1="44.50" y1="571.51" x2="46.30" y2="571.51" stroke="#222" stroke-width="0.6"/>
<line x1="44.50" y1="570.05" x2="46.30" y2="570.05" stroke="#222" stroke-width="0.6"/>
<line x1="44.50" y1="568.85" x2="46.30" y2="568.85" stroke="#222" stroke-width="0.6"/>
<line x1="44.50" y1="567.84" x2="46.30" y2="567.84" stroke="#222" stroke-width="0.6"/>
<line x1="44.50" y1="566.96" x2="46.30" y2="566.96" stroke="#222" stroke-width="0.6"/>
<line x1="44.50" y1="566.19" x2="46.30" y2="566.19" stroke="#222" stroke-width="0.6"/>
<line x1="42.90" y1="565.50" x2="46.30" y2="565.50" stroke="#222" stroke-width="1.0"/>
<text x="40.70" y="567.70" font-size="6.2" text-anchor="end">10</text>
<line x1="44.50" y1="560.95" x2="46.30" y2="560.95" stroke="#222" stroke-width="0.6"/>
<line x1="44.50" y1="558.30" x2="46.30" y2="558.30" stroke="#222" stroke-width="0.6"/>
<line x1="44.50" y1="556.41" x2="46.30" y2="556.41" stroke="#222" stroke-width="0.6"/>
<line x1="44.50" y1="554.95" x2="46.30" y2="554.95" stroke="#222" stroke-width="0.6"/>
<line x1="44.50" y1="553.75" x2="46.30" y2="553.75" stroke="#222" stroke-width="0.6"/>
<line x1="44.50" y1="552.74" x2="46.30" y2="552.74" stroke="#222" stroke-width="0.6"/>
<line x1="44.50" y1="551.86" x2="46.30" y2="551.86" stroke="#222" stroke-width="0.6"/>
<line x1="44.50" y1="551.09" x2="46.30" y2="551.09" stroke="#222" stroke-width="0.6"/>
<line x1="42.90" y1="550.40" x2="46.30" y2="550.40" stroke="#222" stroke-width="1.0"/>
<text x="40.70" y="552.60" font-size="6.2" text-anchor="end">100</text>
<line x1="45.80" y1="625.90" x2="169.40" y2="625.90" stroke="#222" stroke-width="1.2"/>
<line x1="80.00" y1="547.90" x2="80.00" y2="625.90" stroke="#222233" stroke-width="1.25" stroke-dasharray="1.2,1.45"/>
<line x1="120.75" y1="547.90" x2="120.75" y2="625.90" stroke="#222233" stroke-width="1.25" stroke-dasharray="1.2,1.45"/>
<rect x="49.65" y="566.95" width="2.2" height="1.1" fill="#d8507a"/>
<rect x="51.57" y="584.65" width="2.2" height="1.1" fill="#d8507a" opacity="0.9"/>
<rect x="49.73" y="582.76" width="2.2" height="1.1" fill="#d8507a" opacity="0.9"/>
<rect x="48.31" y="585.20" width="2.2" height="1.1" fill="#d8507a" opacity="0.9"/>
<rect x="50.27" y="583.69" width="2.2" height="1.1" fill="#d8507a" opacity="0.9"/>
<rect x="47.91" y="589.31" width="2.2" height="1.1" fill="#d8507a" opacity="0.9"/>
<rect x="47.90" y="579.52" width="2.2" height="1.1" fill="#d8507a" opacity="0.9"/>
<rect x="50.55" y="589.64" width="2.2" height="1.1" fill="#d8507a" opacity="0.9"/>
<rect x="51.82" y="574.29" width="2.2" height="1.1" fill="#d8507a" opacity="0.9"/>
<rect x="50.38" y="592.75" width="2.2" height="1.1" fill="#d8507a" opacity="0.9"/>
<rect x="48.19" y="585.76" width="2.2" height="1.1" fill="#d8507a" opacity="0.9"/>
<rect x="49.82" y="573.75" width="2.2" height="1.1" fill="#d8507a" opacity="0.9"/>
<rect x="48.34" y="574.64" width="2.2" height="1.1" fill="#d8507a" opacity="0.9"/>
<rect x="47.63" y="578.29" width="2.2" height="1.1" fill="#d8507a" opacity="0.9"/>
<rect x="49.44" y="582.73" width="2.2" height="1.1" fill="#d8507a" opacity="0.9"/>
<rect x="49.78" y="590.30" width="2.2" height="1.1" fill="#d8507a" opacity="0.9"/>
<rect x="49.70" y="586.26" width="2.2" height="1.1" fill="#d8507a" opacity="0.9"/>
<rect x="49.51" y="586.70" width="2.2" height="1.1" fill="#d8507a" opacity="0.9"/>
<rect x="51.89" y="579.01" width="2.2" height="1.1" fill="#d8507a" opacity="0.9"/>
<rect x="51.20" y="593.36" width="2.2" height="1.1" fill="#d8507a" opacity="0.9"/>
<rect x="48.89" y="587.61" width="2.2" height="1.1" fill="#d8507a" opacity="0.9"/>
<rect x="48.77" y="578.04" width="2.2" height="1.1" fill="#d8507a" opacity="0.9"/>
<rect x="50.87" y="574.85" width="2.2" height="1.1" fill="#d8507a" opacity="0.9"/>
<rect x="51.22" y="581.46" width="2.2" height="1.1" fill="#d8507a" opacity="0.9"/>
<rect x="51.72" y="581.18" width="2.2" height="1.1" fill="#d8507a" opacity="0.9"/>
<rect x="47.50" y="590.40" width="2.2" height="1.1" fill="#d8507a" opacity="0.9"/>
<rect x="51.51" y="577.64" width="2.2" height="1.1" fill="#d8507a" opacity="0.9"/>
<rect x="51.81" y="582.85" width="2.2" height="1.1" fill="#d8507a" opacity="0.9"/>
<rect x="47.82" y="581.40" width="2.2" height="1.1" fill="#d8507a" opacity="0.9"/>
<rect x="50.62" y="585.84" width="2.4" height="1.2" fill="#b01040" opacity="0.8"/>
<rect x="48.21" y="580.45" width="2.4" height="1.2" fill="#b01040" opacity="0.8"/>
<rect x="51.26" y="581.39" width="2.4" height="1.2" fill="#b01040" opacity="0.8"/>
<rect x="48.35" y="587.77" width="2.4" height="1.2" fill="#b01040" opacity="0.8"/>
<rect x="48.29" y="580.10" width="2.4" height="1.2" fill="#b01040" opacity="0.8"/>
<rect x="50.32" y="577.30" width="2.4" height="1.2" fill="#b01040" opacity="0.8"/>
<rect x="49.78" y="579.07" width="2.4" height="1.2" fill="#b01040" opacity="0.8"/>
<rect x="48.43" y="583.11" width="2.4" height="1.2" fill="#b01040" opacity="0.8"/>
<rect x="48.36" y="587.38" width="2.4" height="1.2" fill="#b01040" opacity="0.8"/>
<rect x="48.21" y="586.06" width="2.4" height="1.2" fill="#b01040" opacity="0.8"/>
<rect x="48.52" y="582.71" width="2.4" height="1.2" fill="#b01040" opacity="0.8"/>
<rect x="51.19" y="580.45" width="2.4" height="1.2" fill="#b01040" opacity="0.8"/>
<rect x="49.00" y="588.45" width="2.4" height="1.2" fill="#b01040" opacity="0.8"/>
<rect x="48.82" y="589.67" width="2.4" height="1.2" fill="#b01040" opacity="0.8"/>
<rect x="50.91" y="582.31" width="2.4" height="1.2" fill="#b01040" opacity="0.8"/>
<rect x="48.15" y="586.03" width="2.4" height="1.2" fill="#b01040" opacity="0.8"/>
<rect x="48.98" y="591.24" width="2.4" height="1.2" fill="#b01040" opacity="0.8"/>
<rect x="50.51" y="580.27" width="2.4" height="1.2" fill="#b01040" opacity="0.8"/>
<rect x="48.88" y="581.33" width="2.4" height="1.2" fill="#b01040" opacity="0.8"/>
<rect x="48.58" y="577.50" width="2.4" height="1.2" fill="#b01040" opacity="0.8"/>
<rect x="48.64" y="585.14" width="2.4" height="1.2" fill="#b01040" opacity="0.8"/>
<rect x="49.12" y="585.42" width="2.4" height="1.2" fill="#b01040" opacity="0.8"/>
<rect x="51.34" y="583.20" width="2.4" height="1.2" fill="#b01040" opacity="0.8"/>
<rect x="49.88" y="583.66" width="2.4" height="1.2" fill="#b01040" opacity="0.8"/>
<rect x="48.72" y="589.40" width="2.4" height="1.2" fill="#b01040" opacity="0.8"/>
<rect x="50.78" y="578.71" width="2.4" height="1.2" fill="#b01040" opacity="0.8"/>
<line x1="47.80" y1="585.00" x2="53.80" y2="585.00" stroke="#5a0820" stroke-width="1.0"/>
<rect x="56.73" y="593.12" width="2.2" height="1.1" fill="#f5c270" opacity="0.9"/>
<rect x="59.08" y="576.48" width="2.2" height="1.1" fill="#f5c270" opacity="0.9"/>
<rect x="56.47" y="596.37" width="2.2" height="1.1" fill="#f5c270" opacity="0.9"/>
<rect x="59.76" y="596.63" width="2.2" height="1.1" fill="#f5c270" opacity="0.9"/>
<rect x="57.55" y="587.44" width="2.2" height="1.1" fill="#f5c270" opacity="0.9"/>
<rect x="55.72" y="574.20" width="2.2" height="1.1" fill="#f5c270" opacity="0.9"/>
<rect x="56.67" y="596.96" width="2.2" height="1.1" fill="#f5c270" opacity="0.9"/>
<rect x="56.76" y="590.12" width="2.2" height="1.1" fill="#f5c270" opacity="0.9"/>
<rect x="58.39" y="593.28" width="2.2" height="1.1" fill="#f5c270" opacity="0.9"/>
<rect x="56.37" y="579.23" width="2.2" height="1.1" fill="#f5c270" opacity="0.9"/>
<rect x="55.86" y="590.54" width="2.2" height="1.1" fill="#f5c270" opacity="0.9"/>
<rect x="58.21" y="577.50" width="2.2" height="1.1" fill="#f5c270" opacity="0.9"/>
<rect x="58.48" y="594.04" width="2.2" height="1.1" fill="#f5c270" opacity="0.9"/>
<rect x="59.93" y="578.88" width="2.2" height="1.1" fill="#f5c270" opacity="0.9"/>
<rect x="55.61" y="576.86" width="2.2" height="1.1" fill="#f5c270" opacity="0.9"/>
<rect x="57.67" y="578.58" width="2.2" height="1.1" fill="#f5c270" opacity="0.9"/>
<rect x="56.38" y="573.05" width="2.2" height="1.1" fill="#f5c270" opacity="0.9"/>
<rect x="58.28" y="581.22" width="2.2" height="1.1" fill="#f5c270" opacity="0.9"/>
<rect x="57.27" y="574.94" width="2.2" height="1.1" fill="#f5c270" opacity="0.9"/>
<rect x="60.24" y="595.06" width="2.2" height="1.1" fill="#f5c270" opacity="0.9"/>
<rect x="58.85" y="588.86" width="2.2" height="1.1" fill="#f5c270" opacity="0.9"/>
<rect x="56.20" y="586.94" width="2.2" height="1.1" fill="#f5c270" opacity="0.9"/>
<rect x="55.62" y="572.38" width="2.2" height="1.1" fill="#f5c270" opacity="0.9"/>
<rect x="58.89" y="595.57" width="2.2" height="1.1" fill="#f5c270" opacity="0.9"/>
<rect x="55.63" y="596.96" width="2.2" height="1.1" fill="#f5c270" opacity="0.9"/>
<rect x="57.84" y="588.31" width="2.2" height="1.1" fill="#f5c270" opacity="0.9"/>
<rect x="57.06" y="590.81" width="2.2" height="1.1" fill="#f5c270" opacity="0.9"/>
<rect x="55.89" y="597.93" width="2.2" height="1.1" fill="#f5c270" opacity="0.9"/>
<rect x="59.07" y="585.92" width="2.2" height="1.1" fill="#f5c270" opacity="0.9"/>
<rect x="59.07" y="595.31" width="2.2" height="1.1" fill="#f5c270" opacity="0.9"/>
<rect x="59.34" y="590.10" width="2.2" height="1.1" fill="#f5c270" opacity="0.9"/>
<rect x="57.22" y="595.70" width="2.2" height="1.1" fill="#f5c270" opacity="0.9"/>
<rect x="59.85" y="589.61" width="2.2" height="1.1" fill="#f5c270" opacity="0.9"/>
<rect x="57.53" y="594.53" width="2.2" height="1.1" fill="#f5c270" opacity="0.9"/>
<rect x="59.67" y="592.40" width="2.2" height="1.1" fill="#f5c270" opacity="0.9"/>
<rect x="58.53" y="586.63" width="2.2" height="1.1" fill="#f5c270" opacity="0.9"/>
<rect x="58.33" y="581.58" width="2.2" height="1.1" fill="#f5c270" opacity="0.9"/>
<rect x="55.91" y="587.58" width="2.2" height="1.1" fill="#f5c270" opacity="0.9"/>
<rect x="60.30" y="588.39" width="2.2" height="1.1" fill="#f5c270" opacity="0.9"/>
<rect x="59.03" y="594.76" width="2.2" height="1.1" fill="#f5c270" opacity="0.9"/>
<rect x="58.56" y="583.61" width="2.4" height="1.2" fill="#ee9a18" opacity="0.8"/>
<rect x="57.64" y="586.70" width="2.4" height="1.2" fill="#ee9a18" opacity="0.8"/>
<rect x="56.81" y="590.81" width="2.4" height="1.2" fill="#ee9a18" opacity="0.8"/>
<rect x="56.52" y="589.40" width="2.4" height="1.2" fill="#ee9a18" opacity="0.8"/>
<rect x="57.77" y="587.02" width="2.4" height="1.2" fill="#ee9a18" opacity="0.8"/>
<rect x="58.37" y="581.08" width="2.4" height="1.2" fill="#ee9a18" opacity="0.8"/>
<rect x="58.20" y="585.36" width="2.4" height="1.2" fill="#ee9a18" opacity="0.8"/>
<rect x="57.31" y="592.13" width="2.4" height="1.2" fill="#ee9a18" opacity="0.8"/>
<line x1="56.03" y1="585.40" x2="62.03" y2="585.40" stroke="#6a4000" stroke-width="1.0"/>
<rect x="64.69" y="567.15" width="2.2" height="1.1" fill="#86c98e"/>
<rect x="65.56" y="570.45" width="2.2" height="1.1" fill="#86c98e"/>
<rect x="66.69" y="573.45" width="2.2" height="1.1" fill="#86c98e"/>
<rect x="65.27" y="576.45" width="2.2" height="1.1" fill="#86c98e"/>
<rect x="65.17" y="579.45" width="2.2" height="1.1" fill="#86c98e"/>
<rect x="67.38" y="582.45" width="2.2" height="1.1" fill="#86c98e"/>
<rect x="66.64" y="589.45" width="2.2" height="1.1" fill="#86c98e"/>
<rect x="65.99" y="592.45" width="2.2" height="1.1" fill="#86c98e"/>
<rect x="67.34" y="594.45" width="2.2" height="1.1" fill="#86c98e"/>
<line x1="64.26" y1="587.00" x2="70.26" y2="587.00" stroke="#555" stroke-width="1.0"/>
<line x1="64.26" y1="598.70" x2="70.26" y2="598.70" stroke="#444" stroke-width="1.0"/>
<rect x="73.84" y="572.45" width="2.2" height="1.1" fill="#8fb3d8"/>
<rect x="74.92" y="574.45" width="2.2" height="1.1" fill="#8fb3d8"/>
<rect x="73.43" y="576.45" width="2.2" height="1.1" fill="#8fb3d8"/>
<rect x="74.17" y="578.45" width="2.2" height="1.1" fill="#8fb3d8"/>
<rect x="75.37" y="580.45" width="2.2" height="1.1" fill="#8fb3d8"/>
<rect x="75.72" y="586.45" width="2.2" height="1.1" fill="#8fb3d8"/>
<rect x="75.61" y="589.45" width="2.2" height="1.1" fill="#8fb3d8"/>
<rect x="74.02" y="593.45" width="2.2" height="1.1" fill="#8fb3d8"/>
<rect x="74.66" y="597.45" width="2.2" height="1.1" fill="#8fb3d8"/>
<rect x="73.80" y="600.45" width="2.2" height="1.1" fill="#8fb3d8"/>
<line x1="72.49" y1="584.20" x2="78.49" y2="584.20" stroke="#555" stroke-width="1.0"/>
<rect x="74.17" y="604.95" width="2.2" height="1.1" fill="#8fb3d8"/>
<rect x="84.41" y="607.64" width="2.4" height="1.2" fill="#b01040" opacity="0.8"/>
<rect x="83.41" y="608.87" width="2.4" height="1.2" fill="#b01040" opacity="0.8"/>
<rect x="81.74" y="609.23" width="2.4" height="1.2" fill="#b01040" opacity="0.8"/>
<rect x="82.30" y="606.49" width="2.4" height="1.2" fill="#b01040" opacity="0.8"/>
<rect x="81.09" y="606.86" width="2.4" height="1.2" fill="#b01040" opacity="0.8"/>
<rect x="83.21" y="607.35" width="2.4" height="1.2" fill="#b01040" opacity="0.8"/>
<rect x="81.49" y="607.63" width="2.4" height="1.2" fill="#b01040" opacity="0.8"/>
<rect x="84.59" y="608.84" width="2.4" height="1.2" fill="#b01040" opacity="0.8"/>
<rect x="80.15" y="607.48" width="2.4" height="1.2" fill="#b01040" opacity="0.8"/>
<rect x="83.76" y="606.01" width="2.4" height="1.2" fill="#b01040" opacity="0.8"/>
<rect x="83.23" y="606.05" width="2.4" height="1.2" fill="#b01040" opacity="0.8"/>
<rect x="81.46" y="607.90" width="2.4" height="1.2" fill="#b01040" opacity="0.8"/>
<rect x="80.30" y="608.67" width="2.4" height="1.2" fill="#b01040" opacity="0.8"/>
<rect x="82.33" y="606.38" width="2.4" height="1.2" fill="#b01040" opacity="0.8"/>
<rect x="83.60" y="605.99" width="2.4" height="1.2" fill="#b01040" opacity="0.8"/>
<rect x="80.80" y="606.73" width="2.4" height="1.2" fill="#b01040" opacity="0.8"/>
<rect x="82.97" y="606.06" width="2.4" height="1.2" fill="#b01040" opacity="0.8"/>
<rect x="83.24" y="607.46" width="2.4" height="1.2" fill="#b01040" opacity="0.8"/>
<rect x="84.15" y="608.19" width="2.4" height="1.2" fill="#b01040" opacity="0.8"/>
<rect x="83.15" y="609.25" width="2.4" height="1.2" fill="#b01040" opacity="0.8"/>
<rect x="82.41" y="606.60" width="2.4" height="1.2" fill="#b01040" opacity="0.8"/>
<rect x="80.36" y="606.53" width="2.4" height="1.2" fill="#b01040" opacity="0.8"/>
<rect x="92.03" y="599.73" width="2.4" height="1.2" fill="#ee9a18" opacity="0.8"/>
<rect x="89.67" y="597.97" width="2.4" height="1.2" fill="#ee9a18" opacity="0.8"/>
<rect x="91.87" y="598.97" width="2.4" height="1.2" fill="#ee9a18" opacity="0.8"/>
<rect x="91.44" y="600.02" width="2.4" height="1.2" fill="#ee9a18" opacity="0.8"/>
<rect x="90.20" y="601.44" width="2.4" height="1.2" fill="#ee9a18" opacity="0.8"/>
<rect x="92.76" y="601.65" width="2.4" height="1.2" fill="#ee9a18" opacity="0.8"/>
<rect x="92.49" y="597.42" width="2.4" height="1.2" fill="#ee9a18" opacity="0.8"/>
<rect x="88.76" y="601.23" width="2.4" height="1.2" fill="#ee9a18" opacity="0.8"/>
<rect x="91.50" y="599.62" width="2.4" height="1.2" fill="#ee9a18" opacity="0.8"/>
<rect x="90.25" y="602.36" width="2.4" height="1.2" fill="#ee9a18" opacity="0.8"/>
<rect x="93.00" y="600.31" width="2.4" height="1.2" fill="#ee9a18" opacity="0.8"/>
<rect x="92.93" y="601.68" width="2.4" height="1.2" fill="#ee9a18" opacity="0.8"/>
<rect x="91.66" y="599.68" width="2.4" height="1.2" fill="#ee9a18" opacity="0.8"/>
<rect x="91.84" y="598.13" width="2.4" height="1.2" fill="#ee9a18" opacity="0.8"/>
<rect x="91.42" y="601.81" width="2.4" height="1.2" fill="#ee9a18" opacity="0.8"/>
<rect x="89.20" y="601.21" width="2.4" height="1.2" fill="#ee9a18" opacity="0.8"/>
<rect x="92.74" y="602.30" width="2.4" height="1.2" fill="#ee9a18" opacity="0.8"/>
<rect x="90.88" y="602.76" width="2.4" height="1.2" fill="#ee9a18" opacity="0.8"/>
<rect x="89.86" y="601.64" width="2.4" height="1.2" fill="#ee9a18" opacity="0.8"/>
<rect x="92.19" y="602.36" width="2.4" height="1.2" fill="#ee9a18" opacity="0.8"/>
<rect x="88.37" y="598.99" width="2.4" height="1.2" fill="#ee9a18" opacity="0.8"/>
<rect x="91.05" y="599.55" width="2.4" height="1.2" fill="#ee9a18" opacity="0.8"/>
<rect x="90.69" y="601.51" width="2.4" height="1.2" fill="#ee9a18" opacity="0.8"/>
<rect x="91.84" y="597.07" width="2.4" height="1.2" fill="#ee9a18" opacity="0.8"/>
<rect x="91.90" y="597.28" width="2.4" height="1.2" fill="#ee9a18" opacity="0.8"/>
<rect x="89.98" y="597.94" width="2.4" height="1.2" fill="#ee9a18" opacity="0.8"/>
<rect x="88.96" y="601.63" width="2.4" height="1.2" fill="#ee9a18" opacity="0.8"/>
<rect x="90.82" y="597.79" width="2.4" height="1.2" fill="#ee9a18" opacity="0.8"/>
<rect x="92.57" y="601.24" width="2.4" height="1.2" fill="#ee9a18" opacity="0.8"/>
<rect x="93.22" y="601.04" width="2.4" height="1.2" fill="#ee9a18" opacity="0.8"/>
<rect x="90.84" y="594.85" width="2.2" height="1.1" fill="#f5c270"/>
<rect x="91.75" y="585.65" width="2.2" height="1.1" fill="#f5c270"/>
<rect x="98.01" y="600.68" width="2.4" height="1.2" fill="#2e9c40" opacity="0.8"/>
<rect x="97.89" y="602.09" width="2.4" height="1.2" fill="#2e9c40" opacity="0.8"/>
<rect x="99.62" y="602.73" width="2.4" height="1.2" fill="#2e9c40" opacity="0.8"/>
<rect x="100.76" y="602.07" width="2.4" height="1.2" fill="#2e9c40" opacity="0.8"/>
<rect x="98.01" y="602.19" width="2.4" height="1.2" fill="#2e9c40" opacity="0.8"/>
<rect x="100.72" y="601.62" width="2.4" height="1.2" fill="#2e9c40" opacity="0.8"/>
<rect x="97.94" y="603.28" width="2.4" height="1.2" fill="#2e9c40" opacity="0.8"/>
<rect x="100.82" y="603.12" width="2.4" height="1.2" fill="#2e9c40" opacity="0.8"/>
<rect x="99.36" y="602.08" width="2.4" height="1.2" fill="#2e9c40" opacity="0.8"/>
<rect x="99.13" y="601.04" width="2.4" height="1.2" fill="#2e9c40" opacity="0.8"/>
<rect x="99.53" y="602.01" width="2.4" height="1.2" fill="#2e9c40" opacity="0.8"/>
<rect x="100.42" y="600.49" width="2.4" height="1.2" fill="#2e9c40" opacity="0.8"/>
<rect x="98.46" y="602.05" width="2.4" height="1.2" fill="#2e9c40" opacity="0.8"/>
<rect x="99.25" y="602.96" width="2.4" height="1.2" fill="#2e9c40" opacity="0.8"/>
<rect x="99.97" y="601.97" width="2.4" height="1.2" fill="#2e9c40" opacity="0.8"/>
<rect x="99.11" y="600.61" width="2.4" height="1.2" fill="#2e9c40" opacity="0.8"/>
<rect x="101.32" y="601.72" width="2.4" height="1.2" fill="#2e9c40" opacity="0.8"/>
<rect x="98.19" y="603.35" width="2.4" height="1.2" fill="#2e9c40" opacity="0.8"/>
<rect x="105.12" y="592.26" width="2.4" height="1.2" fill="#3a76b5" opacity="0.8"/>
<rect x="108.96" y="591.69" width="2.4" height="1.2" fill="#3a76b5" opacity="0.8"/>
<rect x="107.12" y="598.46" width="2.4" height="1.2" fill="#3a76b5" opacity="0.8"/>
<rect x="105.61" y="590.00" width="2.4" height="1.2" fill="#3a76b5" opacity="0.8"/>
<rect x="109.52" y="594.36" width="2.4" height="1.2" fill="#3a76b5" opacity="0.8"/>
<rect x="108.35" y="587.28" width="2.4" height="1.2" fill="#3a76b5" opacity="0.8"/>
<rect x="106.21" y="585.73" width="2.4" height="1.2" fill="#3a76b5" opacity="0.8"/>
<rect x="108.09" y="588.70" width="2.4" height="1.2" fill="#3a76b5" opacity="0.8"/>
<rect x="106.46" y="590.07" width="2.4" height="1.2" fill="#3a76b5" opacity="0.8"/>
<rect x="105.07" y="594.39" width="2.4" height="1.2" fill="#3a76b5" opacity="0.8"/>
<rect x="105.34" y="596.00" width="2.4" height="1.2" fill="#3a76b5" opacity="0.8"/>
<rect x="105.81" y="592.80" width="2.4" height="1.2" fill="#3a76b5" opacity="0.8"/>
<rect x="107.35" y="588.27" width="2.4" height="1.2" fill="#3a76b5" opacity="0.8"/>
<rect x="106.52" y="591.73" width="2.4" height="1.2" fill="#3a76b5" opacity="0.8"/>
<rect x="107.37" y="591.39" width="2.4" height="1.2" fill="#3a76b5" opacity="0.8"/>
<rect x="105.94" y="587.72" width="2.4" height="1.2" fill="#3a76b5" opacity="0.8"/>
<rect x="107.96" y="594.55" width="2.4" height="1.2" fill="#3a76b5" opacity="0.8"/>
<rect x="109.17" y="593.08" width="2.4" height="1.2" fill="#3a76b5" opacity="0.8"/>
<rect x="109.15" y="594.27" width="2.4" height="1.2" fill="#3a76b5" opacity="0.8"/>
<rect x="108.36" y="588.77" width="2.4" height="1.2" fill="#3a76b5" opacity="0.8"/>
<rect x="109.02" y="597.15" width="2.4" height="1.2" fill="#3a76b5" opacity="0.8"/>
<rect x="106.25" y="589.98" width="2.4" height="1.2" fill="#3a76b5" opacity="0.8"/>
<rect x="106.17" y="598.78" width="2.4" height="1.2" fill="#3a76b5" opacity="0.8"/>
<rect x="108.41" y="599.88" width="2.4" height="1.2" fill="#3a76b5" opacity="0.8"/>
<rect x="106.14" y="587.34" width="2.4" height="1.2" fill="#3a76b5" opacity="0.8"/>
<rect x="106.01" y="595.94" width="2.4" height="1.2" fill="#3a76b5" opacity="0.8"/>
<rect x="108.48" y="586.81" width="2.4" height="1.2" fill="#3a76b5" opacity="0.8"/>
<rect x="108.81" y="591.51" width="2.4" height="1.2" fill="#3a76b5" opacity="0.8"/>
<rect x="106.82" y="587.23" width="2.4" height="1.2" fill="#3a76b5" opacity="0.8"/>
<rect x="104.71" y="595.34" width="2.4" height="1.2" fill="#3a76b5" opacity="0.8"/>
<rect x="108.04" y="588.31" width="2.4" height="1.2" fill="#3a76b5" opacity="0.8"/>
<rect x="108.98" y="598.61" width="2.4" height="1.2" fill="#3a76b5" opacity="0.8"/>
<rect x="107.23" y="587.07" width="2.4" height="1.2" fill="#3a76b5" opacity="0.8"/>
<rect x="107.22" y="596.39" width="2.4" height="1.2" fill="#3a76b5" opacity="0.8"/>
<rect x="105.60" y="595.34" width="2.4" height="1.2" fill="#3a76b5" opacity="0.8"/>
<rect x="105.78" y="586.42" width="2.4" height="1.2" fill="#3a76b5" opacity="0.8"/>
<rect x="107.38" y="585.94" width="2.4" height="1.2" fill="#3a76b5" opacity="0.8"/>
<rect x="107.59" y="592.86" width="2.4" height="1.2" fill="#3a76b5" opacity="0.8"/>
<rect x="105.89" y="587.53" width="2.4" height="1.2" fill="#3a76b5" opacity="0.8"/>
<rect x="108.77" y="588.36" width="2.4" height="1.2" fill="#3a76b5" opacity="0.8"/>
<rect x="108.56" y="599.76" width="2.4" height="1.2" fill="#3a76b5" opacity="0.8"/>
<rect x="105.54" y="586.78" width="2.4" height="1.2" fill="#3a76b5" opacity="0.8"/>
<rect x="107.08" y="599.20" width="2.4" height="1.2" fill="#3a76b5" opacity="0.8"/>
<rect x="106.38" y="596.49" width="2.4" height="1.2" fill="#3a76b5" opacity="0.8"/>
<rect x="107.30" y="592.17" width="2.4" height="1.2" fill="#3a76b5" opacity="0.8"/>
<rect x="107.77" y="591.64" width="2.4" height="1.2" fill="#3a76b5" opacity="0.8"/>
<rect x="107.85" y="585.59" width="2.4" height="1.2" fill="#3a76b5" opacity="0.8"/>
<rect x="105.85" y="597.64" width="2.4" height="1.2" fill="#3a76b5" opacity="0.8"/>
<rect x="108.54" y="591.98" width="2.4" height="1.2" fill="#3a76b5" opacity="0.8"/>
<rect x="105.54" y="591.28" width="2.4" height="1.2" fill="#3a76b5" opacity="0.8"/>
<rect x="107.26" y="587.79" width="2.4" height="1.2" fill="#3a76b5" opacity="0.8"/>
<rect x="108.47" y="585.62" width="2.4" height="1.2" fill="#3a76b5" opacity="0.8"/>
<rect x="108.14" y="597.02" width="2.4" height="1.2" fill="#3a76b5" opacity="0.8"/>
<rect x="107.75" y="597.88" width="2.4" height="1.2" fill="#3a76b5" opacity="0.8"/>
<rect x="107.76" y="591.27" width="2.4" height="1.2" fill="#3a76b5" opacity="0.8"/>
<rect x="109.05" y="573.55" width="2.2" height="1.1" fill="#8fb3d8" opacity="0.9"/>
<rect x="106.44" y="580.77" width="2.2" height="1.1" fill="#8fb3d8" opacity="0.9"/>
<rect x="108.19" y="583.32" width="2.2" height="1.1" fill="#8fb3d8" opacity="0.9"/>
<rect x="108.44" y="580.12" width="2.2" height="1.1" fill="#8fb3d8" opacity="0.9"/>
<rect x="108.74" y="571.19" width="2.2" height="1.1" fill="#8fb3d8" opacity="0.9"/>
<rect x="108.01" y="582.57" width="2.2" height="1.1" fill="#8fb3d8" opacity="0.9"/>
<rect x="108.26" y="579.86" width="2.2" height="1.1" fill="#8fb3d8" opacity="0.9"/>
<rect x="108.11" y="571.19" width="2.2" height="1.1" fill="#8fb3d8" opacity="0.9"/>
<rect x="106.74" y="563.14" width="2.2" height="1.1" fill="#8fb3d8" opacity="0.9"/>
<rect x="105.55" y="572.70" width="2.2" height="1.1" fill="#8fb3d8" opacity="0.9"/>
<rect x="107.81" y="569.99" width="2.2" height="1.1" fill="#8fb3d8" opacity="0.9"/>
<rect x="106.35" y="576.43" width="2.2" height="1.1" fill="#8fb3d8" opacity="0.9"/>
<rect x="107.91" y="584.12" width="2.2" height="1.1" fill="#8fb3d8" opacity="0.9"/>
<rect x="107.89" y="569.56" width="2.2" height="1.1" fill="#8fb3d8" opacity="0.9"/>
<line x1="105.41" y1="584.20" x2="111.41" y2="584.20" stroke="#5a7fa8" stroke-width="1.0"/>
<rect x="115.62" y="592.67" width="2.4" height="1.2" fill="#532673" opacity="0.8"/>
<rect x="118.16" y="590.69" width="2.4" height="1.2" fill="#532673" opacity="0.8"/>
<rect x="116.52" y="593.46" width="2.4" height="1.2" fill="#532673" opacity="0.8"/>
<rect x="117.74" y="594.78" width="2.4" height="1.2" fill="#532673" opacity="0.8"/>
<rect x="115.82" y="586.65" width="2.4" height="1.2" fill="#532673" opacity="0.8"/>
<rect x="114.24" y="594.53" width="2.4" height="1.2" fill="#532673" opacity="0.8"/>
<rect x="112.98" y="590.82" width="2.4" height="1.2" fill="#532673" opacity="0.8"/>
<rect x="114.88" y="588.55" width="2.4" height="1.2" fill="#532673" opacity="0.8"/>
<rect x="114.48" y="587.48" width="2.4" height="1.2" fill="#532673" opacity="0.8"/>
<rect x="115.63" y="596.36" width="2.4" height="1.2" fill="#532673" opacity="0.8"/>
<rect x="118.06" y="591.99" width="2.4" height="1.2" fill="#532673" opacity="0.8"/>
<rect x="118.18" y="592.65" width="2.4" height="1.2" fill="#532673" opacity="0.8"/>
<rect x="117.10" y="593.42" width="2.4" height="1.2" fill="#532673" opacity="0.8"/>
<rect x="115.80" y="587.24" width="2.4" height="1.2" fill="#532673" opacity="0.8"/>
<rect x="113.25" y="594.75" width="2.4" height="1.2" fill="#532673" opacity="0.8"/>
<rect x="114.21" y="596.63" width="2.4" height="1.2" fill="#532673" opacity="0.8"/>
<rect x="113.59" y="591.59" width="2.4" height="1.2" fill="#532673" opacity="0.8"/>
<rect x="116.06" y="591.85" width="2.4" height="1.2" fill="#532673" opacity="0.8"/>
<rect x="117.02" y="587.04" width="2.4" height="1.2" fill="#532673" opacity="0.8"/>
<rect x="115.59" y="591.03" width="2.4" height="1.2" fill="#532673" opacity="0.8"/>
<rect x="114.70" y="592.98" width="2.4" height="1.2" fill="#532673" opacity="0.8"/>
<rect x="116.22" y="589.54" width="2.4" height="1.2" fill="#532673" opacity="0.8"/>
<rect x="114.24" y="592.57" width="2.4" height="1.2" fill="#532673" opacity="0.8"/>
<rect x="114.41" y="594.28" width="2.4" height="1.2" fill="#532673" opacity="0.8"/>
<rect x="114.63" y="586.55" width="2.4" height="1.2" fill="#532673" opacity="0.8"/>
<rect x="114.27" y="586.87" width="2.4" height="1.2" fill="#532673" opacity="0.8"/>
<rect x="114.91" y="594.70" width="2.4" height="1.2" fill="#532673" opacity="0.8"/>
<rect x="116.40" y="596.27" width="2.4" height="1.2" fill="#532673" opacity="0.8"/>
<rect x="117.14" y="586.95" width="2.4" height="1.2" fill="#532673" opacity="0.8"/>
<rect x="113.94" y="596.79" width="2.4" height="1.2" fill="#532673" opacity="0.8"/>
<rect x="115.17" y="596.36" width="2.4" height="1.2" fill="#532673" opacity="0.8"/>
<rect x="118.09" y="591.65" width="2.4" height="1.2" fill="#532673" opacity="0.8"/>
<rect x="115.55" y="589.08" width="2.4" height="1.2" fill="#532673" opacity="0.8"/>
<rect x="116.24" y="596.71" width="2.4" height="1.2" fill="#532673" opacity="0.8"/>
<rect x="118.12" y="591.55" width="2.4" height="1.2" fill="#532673" opacity="0.8"/>
<rect x="115.90" y="595.38" width="2.4" height="1.2" fill="#532673" opacity="0.8"/>
<rect x="115.93" y="587.67" width="2.4" height="1.2" fill="#532673" opacity="0.8"/>
<rect x="113.79" y="591.41" width="2.4" height="1.2" fill="#532673" opacity="0.8"/>
<rect x="115.54" y="586.97" width="2.4" height="1.2" fill="#532673" opacity="0.8"/>
<rect x="115.21" y="587.77" width="2.4" height="1.2" fill="#532673" opacity="0.8"/>
<rect x="115.36" y="585.46" width="2.2" height="1.1" fill="#9b7bb3" opacity="0.9"/>
<rect x="115.87" y="583.02" width="2.2" height="1.1" fill="#9b7bb3" opacity="0.9"/>
<rect x="116.65" y="583.97" width="2.2" height="1.1" fill="#9b7bb3" opacity="0.9"/>
<rect x="117.53" y="584.63" width="2.2" height="1.1" fill="#9b7bb3" opacity="0.9"/>
<rect x="116.48" y="587.17" width="2.2" height="1.1" fill="#9b7bb3" opacity="0.9"/>
<rect x="114.00" y="582.88" width="2.2" height="1.1" fill="#9b7bb3" opacity="0.9"/>
<rect x="124.70" y="611.08" width="2.4" height="1.2" fill="#b01040" opacity="0.8"/>
<rect x="122.96" y="610.27" width="2.4" height="1.2" fill="#b01040" opacity="0.8"/>
<rect x="124.53" y="609.21" width="2.4" height="1.2" fill="#b01040" opacity="0.8"/>
<rect x="124.14" y="610.09" width="2.4" height="1.2" fill="#b01040" opacity="0.8"/>
<rect x="124.94" y="610.30" width="2.4" height="1.2" fill="#b01040" opacity="0.8"/>
<rect x="122.62" y="608.97" width="2.4" height="1.2" fill="#b01040" opacity="0.8"/>
<rect x="124.92" y="611.34" width="2.4" height="1.2" fill="#b01040" opacity="0.8"/>
<rect x="121.95" y="611.04" width="2.4" height="1.2" fill="#b01040" opacity="0.8"/>
<rect x="122.91" y="608.58" width="2.4" height="1.2" fill="#b01040" opacity="0.8"/>
<rect x="124.30" y="609.68" width="2.4" height="1.2" fill="#b01040" opacity="0.8"/>
<rect x="123.82" y="608.71" width="2.4" height="1.2" fill="#b01040" opacity="0.8"/>
<rect x="122.27" y="608.62" width="2.4" height="1.2" fill="#b01040" opacity="0.8"/>
<rect x="123.92" y="610.43" width="2.4" height="1.2" fill="#b01040" opacity="0.8"/>
<rect x="123.04" y="610.29" width="2.4" height="1.2" fill="#b01040" opacity="0.8"/>
<rect x="122.17" y="609.84" width="2.4" height="1.2" fill="#b01040" opacity="0.8"/>
<rect x="124.88" y="609.43" width="2.4" height="1.2" fill="#b01040" opacity="0.8"/>
<rect x="130.07" y="603.35" width="2.4" height="1.2" fill="#ee9a18" opacity="0.8"/>
<rect x="133.14" y="598.68" width="2.4" height="1.2" fill="#ee9a18" opacity="0.8"/>
<rect x="133.35" y="601.95" width="2.4" height="1.2" fill="#ee9a18" opacity="0.8"/>
<rect x="131.55" y="599.29" width="2.4" height="1.2" fill="#ee9a18" opacity="0.8"/>
<rect x="133.42" y="599.58" width="2.4" height="1.2" fill="#ee9a18" opacity="0.8"/>
<rect x="132.73" y="600.30" width="2.4" height="1.2" fill="#ee9a18" opacity="0.8"/>
<rect x="131.35" y="604.33" width="2.4" height="1.2" fill="#ee9a18" opacity="0.8"/>
<rect x="133.27" y="601.47" width="2.4" height="1.2" fill="#ee9a18" opacity="0.8"/>
<rect x="131.63" y="603.89" width="2.4" height="1.2" fill="#ee9a18" opacity="0.8"/>
<rect x="129.73" y="600.30" width="2.4" height="1.2" fill="#ee9a18" opacity="0.8"/>
<rect x="130.20" y="603.59" width="2.4" height="1.2" fill="#ee9a18" opacity="0.8"/>
<rect x="132.14" y="598.44" width="2.4" height="1.2" fill="#ee9a18" opacity="0.8"/>
<rect x="132.94" y="601.05" width="2.4" height="1.2" fill="#ee9a18" opacity="0.8"/>
<rect x="133.31" y="599.84" width="2.4" height="1.2" fill="#ee9a18" opacity="0.8"/>
<rect x="130.85" y="598.39" width="2.4" height="1.2" fill="#ee9a18" opacity="0.8"/>
<rect x="129.69" y="602.20" width="2.4" height="1.2" fill="#ee9a18" opacity="0.8"/>
<rect x="133.06" y="599.87" width="2.4" height="1.2" fill="#ee9a18" opacity="0.8"/>
<rect x="130.78" y="602.41" width="2.4" height="1.2" fill="#ee9a18" opacity="0.8"/>
<rect x="131.31" y="598.83" width="2.4" height="1.2" fill="#ee9a18" opacity="0.8"/>
<rect x="131.23" y="602.62" width="2.4" height="1.2" fill="#ee9a18" opacity="0.8"/>
<rect x="132.73" y="598.66" width="2.4" height="1.2" fill="#ee9a18" opacity="0.8"/>
<rect x="134.22" y="601.60" width="2.4" height="1.2" fill="#ee9a18" opacity="0.8"/>
<rect x="133.37" y="604.01" width="2.4" height="1.2" fill="#ee9a18" opacity="0.8"/>
<rect x="133.58" y="600.75" width="2.4" height="1.2" fill="#ee9a18" opacity="0.8"/>
<rect x="130.96" y="599.88" width="2.4" height="1.2" fill="#ee9a18" opacity="0.8"/>
<rect x="134.28" y="600.50" width="2.4" height="1.2" fill="#ee9a18" opacity="0.8"/>
<rect x="130.92" y="603.72" width="2.4" height="1.2" fill="#ee9a18" opacity="0.8"/>
<rect x="131.18" y="600.25" width="2.4" height="1.2" fill="#ee9a18" opacity="0.8"/>
<rect x="131.34" y="600.26" width="2.4" height="1.2" fill="#ee9a18" opacity="0.8"/>
<rect x="130.24" y="600.42" width="2.4" height="1.2" fill="#ee9a18" opacity="0.8"/>
<rect x="133.07" y="595.05" width="2.2" height="1.1" fill="#f5c270" opacity="0.9"/>
<rect x="133.21" y="594.92" width="2.2" height="1.1" fill="#f5c270" opacity="0.9"/>
<rect x="130.84" y="595.05" width="2.2" height="1.1" fill="#f5c270" opacity="0.9"/>
<rect x="133.37" y="596.12" width="2.2" height="1.1" fill="#f5c270" opacity="0.9"/>
<rect x="130.28" y="593.50" width="2.2" height="1.1" fill="#f5c270" opacity="0.9"/>
<rect x="132.16" y="594.79" width="2.2" height="1.1" fill="#f5c270" opacity="0.9"/>
<rect x="142.53" y="605.60" width="2.4" height="1.2" fill="#2e9c40" opacity="0.8"/>
<rect x="141.63" y="605.85" width="2.4" height="1.2" fill="#2e9c40" opacity="0.8"/>
<rect x="140.29" y="604.09" width="2.4" height="1.2" fill="#2e9c40" opacity="0.8"/>
<rect x="138.34" y="606.26" width="2.4" height="1.2" fill="#2e9c40" opacity="0.8"/>
<rect x="140.95" y="604.15" width="2.4" height="1.2" fill="#2e9c40" opacity="0.8"/>
<rect x="138.64" y="606.60" width="2.4" height="1.2" fill="#2e9c40" opacity="0.8"/>
<rect x="138.35" y="605.80" width="2.4" height="1.2" fill="#2e9c40" opacity="0.8"/>
<rect x="140.81" y="606.14" width="2.4" height="1.2" fill="#2e9c40" opacity="0.8"/>
<rect x="138.87" y="604.64" width="2.4" height="1.2" fill="#2e9c40" opacity="0.8"/>
<rect x="140.23" y="606.20" width="2.4" height="1.2" fill="#2e9c40" opacity="0.8"/>
<rect x="139.66" y="606.19" width="2.4" height="1.2" fill="#2e9c40" opacity="0.8"/>
<rect x="142.43" y="604.91" width="2.4" height="1.2" fill="#2e9c40" opacity="0.8"/>
<rect x="140.10" y="605.92" width="2.4" height="1.2" fill="#2e9c40" opacity="0.8"/>
<rect x="141.28" y="605.51" width="2.4" height="1.2" fill="#2e9c40" opacity="0.8"/>
<rect x="142.09" y="606.02" width="2.4" height="1.2" fill="#2e9c40" opacity="0.8"/>
<rect x="141.80" y="605.13" width="2.4" height="1.2" fill="#2e9c40" opacity="0.8"/>
<rect x="150.22" y="595.40" width="2.4" height="1.2" fill="#3a76b5" opacity="0.8"/>
<rect x="149.87" y="597.28" width="2.4" height="1.2" fill="#3a76b5" opacity="0.8"/>
<rect x="150.17" y="598.40" width="2.4" height="1.2" fill="#3a76b5" opacity="0.8"/>
<rect x="148.49" y="595.04" width="2.4" height="1.2" fill="#3a76b5" opacity="0.8"/>
<rect x="149.89" y="595.99" width="2.4" height="1.2" fill="#3a76b5" opacity="0.8"/>
<rect x="147.92" y="592.09" width="2.4" height="1.2" fill="#3a76b5" opacity="0.8"/>
<rect x="149.37" y="588.37" width="2.4" height="1.2" fill="#3a76b5" opacity="0.8"/>
<rect x="147.97" y="599.78" width="2.4" height="1.2" fill="#3a76b5" opacity="0.8"/>
<rect x="147.07" y="588.66" width="2.4" height="1.2" fill="#3a76b5" opacity="0.8"/>
<rect x="147.21" y="592.14" width="2.4" height="1.2" fill="#3a76b5" opacity="0.8"/>
<rect x="146.90" y="599.49" width="2.4" height="1.2" fill="#3a76b5" opacity="0.8"/>
<rect x="146.37" y="590.56" width="2.4" height="1.2" fill="#3a76b5" opacity="0.8"/>
<rect x="149.83" y="595.15" width="2.4" height="1.2" fill="#3a76b5" opacity="0.8"/>
<rect x="146.42" y="588.82" width="2.4" height="1.2" fill="#3a76b5" opacity="0.8"/>
<rect x="148.83" y="592.59" width="2.4" height="1.2" fill="#3a76b5" opacity="0.8"/>
<rect x="146.60" y="598.68" width="2.4" height="1.2" fill="#3a76b5" opacity="0.8"/>
<rect x="147.12" y="587.87" width="2.4" height="1.2" fill="#3a76b5" opacity="0.8"/>
<rect x="147.12" y="589.33" width="2.4" height="1.2" fill="#3a76b5" opacity="0.8"/>
<rect x="148.84" y="596.08" width="2.4" height="1.2" fill="#3a76b5" opacity="0.8"/>
<rect x="146.88" y="589.42" width="2.4" height="1.2" fill="#3a76b5" opacity="0.8"/>
<rect x="146.71" y="590.19" width="2.4" height="1.2" fill="#3a76b5" opacity="0.8"/>
<rect x="147.45" y="596.63" width="2.4" height="1.2" fill="#3a76b5" opacity="0.8"/>
<rect x="150.13" y="593.80" width="2.4" height="1.2" fill="#3a76b5" opacity="0.8"/>
<rect x="147.02" y="592.87" width="2.4" height="1.2" fill="#3a76b5" opacity="0.8"/>
<rect x="150.00" y="598.38" width="2.4" height="1.2" fill="#3a76b5" opacity="0.8"/>
<rect x="148.61" y="591.02" width="2.4" height="1.2" fill="#3a76b5" opacity="0.8"/>
<rect x="148.30" y="599.32" width="2.4" height="1.2" fill="#3a76b5" opacity="0.8"/>
<rect x="146.25" y="589.38" width="2.4" height="1.2" fill="#3a76b5" opacity="0.8"/>
<rect x="149.41" y="599.19" width="2.4" height="1.2" fill="#3a76b5" opacity="0.8"/>
<rect x="148.51" y="591.60" width="2.4" height="1.2" fill="#3a76b5" opacity="0.8"/>
<rect x="147.10" y="593.36" width="2.4" height="1.2" fill="#3a76b5" opacity="0.8"/>
<rect x="148.86" y="599.77" width="2.4" height="1.2" fill="#3a76b5" opacity="0.8"/>
<rect x="146.02" y="589.61" width="2.4" height="1.2" fill="#3a76b5" opacity="0.8"/>
<rect x="147.64" y="592.78" width="2.4" height="1.2" fill="#3a76b5" opacity="0.8"/>
<rect x="149.34" y="597.16" width="2.4" height="1.2" fill="#3a76b5" opacity="0.8"/>
<rect x="146.49" y="594.58" width="2.4" height="1.2" fill="#3a76b5" opacity="0.8"/>
<rect x="147.60" y="588.52" width="2.4" height="1.2" fill="#3a76b5" opacity="0.8"/>
<rect x="150.17" y="589.90" width="2.4" height="1.2" fill="#3a76b5" opacity="0.8"/>
<rect x="149.13" y="593.37" width="2.4" height="1.2" fill="#3a76b5" opacity="0.8"/>
<rect x="147.63" y="599.81" width="2.4" height="1.2" fill="#3a76b5" opacity="0.8"/>
<rect x="146.41" y="593.62" width="2.4" height="1.2" fill="#3a76b5" opacity="0.8"/>
<rect x="145.99" y="596.80" width="2.4" height="1.2" fill="#3a76b5" opacity="0.8"/>
<rect x="149.89" y="597.49" width="2.4" height="1.2" fill="#3a76b5" opacity="0.8"/>
<rect x="146.52" y="597.50" width="2.4" height="1.2" fill="#3a76b5" opacity="0.8"/>
<rect x="149.44" y="590.04" width="2.4" height="1.2" fill="#3a76b5" opacity="0.8"/>
<rect x="148.40" y="577.42" width="2.2" height="1.1" fill="#8fb3d8" opacity="0.9"/>
<rect x="149.92" y="581.14" width="2.2" height="1.1" fill="#8fb3d8" opacity="0.9"/>
<rect x="149.60" y="582.32" width="2.2" height="1.1" fill="#8fb3d8" opacity="0.9"/>
<rect x="149.39" y="579.49" width="2.2" height="1.1" fill="#8fb3d8" opacity="0.9"/>
<rect x="149.79" y="580.62" width="2.2" height="1.1" fill="#8fb3d8" opacity="0.9"/>
<rect x="149.50" y="577.36" width="2.2" height="1.1" fill="#8fb3d8" opacity="0.9"/>
<rect x="148.60" y="578.53" width="2.2" height="1.1" fill="#8fb3d8" opacity="0.9"/>
<rect x="147.36" y="581.71" width="2.2" height="1.1" fill="#8fb3d8" opacity="0.9"/>
<rect x="155.77" y="591.56" width="2.4" height="1.2" fill="#532673" opacity="0.8"/>
<rect x="154.40" y="587.39" width="2.4" height="1.2" fill="#532673" opacity="0.8"/>
<rect x="156.42" y="587.35" width="2.4" height="1.2" fill="#532673" opacity="0.8"/>
<rect x="155.88" y="590.62" width="2.4" height="1.2" fill="#532673" opacity="0.8"/>
<rect x="154.55" y="590.40" width="2.4" height="1.2" fill="#532673" opacity="0.8"/>
<rect x="156.38" y="588.05" width="2.4" height="1.2" fill="#532673" opacity="0.8"/>
<rect x="157.69" y="592.64" width="2.4" height="1.2" fill="#532673" opacity="0.8"/>
<rect x="154.00" y="590.13" width="2.4" height="1.2" fill="#532673" opacity="0.8"/>
<rect x="157.73" y="587.92" width="2.4" height="1.2" fill="#532673" opacity="0.8"/>
<rect x="156.90" y="586.80" width="2.4" height="1.2" fill="#532673" opacity="0.8"/>
<rect x="153.86" y="588.56" width="2.4" height="1.2" fill="#532673" opacity="0.8"/>
<rect x="157.53" y="592.83" width="2.4" height="1.2" fill="#532673" opacity="0.8"/>
<rect x="157.12" y="586.55" width="2.4" height="1.2" fill="#532673" opacity="0.8"/>
<rect x="155.96" y="587.22" width="2.4" height="1.2" fill="#532673" opacity="0.8"/>
<rect x="155.46" y="589.22" width="2.4" height="1.2" fill="#532673" opacity="0.8"/>
<rect x="156.02" y="587.60" width="2.4" height="1.2" fill="#532673" opacity="0.8"/>
<rect x="155.31" y="590.23" width="2.4" height="1.2" fill="#532673" opacity="0.8"/>
<rect x="157.65" y="586.50" width="2.4" height="1.2" fill="#532673" opacity="0.8"/>
<rect x="158.92" y="587.54" width="2.4" height="1.2" fill="#532673" opacity="0.8"/>
<rect x="157.83" y="589.40" width="2.4" height="1.2" fill="#532673" opacity="0.8"/>
<rect x="158.31" y="587.55" width="2.4" height="1.2" fill="#532673" opacity="0.8"/>
<rect x="155.23" y="585.64" width="2.4" height="1.2" fill="#532673" opacity="0.8"/>
<rect x="157.27" y="585.66" width="2.4" height="1.2" fill="#532673" opacity="0.8"/>
<rect x="154.96" y="590.57" width="2.4" height="1.2" fill="#532673" opacity="0.8"/>
<rect x="158.44" y="588.12" width="2.4" height="1.2" fill="#532673" opacity="0.8"/>
<rect x="154.34" y="589.64" width="2.4" height="1.2" fill="#532673" opacity="0.8"/>
<rect x="154.97" y="586.71" width="2.4" height="1.2" fill="#532673" opacity="0.8"/>
<rect x="156.21" y="585.89" width="2.4" height="1.2" fill="#532673" opacity="0.8"/>
<rect x="158.13" y="585.48" width="2.4" height="1.2" fill="#532673" opacity="0.8"/>
<rect x="156.65" y="588.32" width="2.4" height="1.2" fill="#532673" opacity="0.8"/>
<rect x="158.01" y="590.08" width="2.4" height="1.2" fill="#532673" opacity="0.8"/>
<rect x="156.09" y="591.47" width="2.4" height="1.2" fill="#532673" opacity="0.8"/>
<rect x="156.13" y="587.55" width="2.4" height="1.2" fill="#532673" opacity="0.8"/>
<rect x="156.27" y="585.02" width="2.4" height="1.2" fill="#532673" opacity="0.8"/>
<rect x="159.06" y="590.50" width="2.4" height="1.2" fill="#532673" opacity="0.8"/>
<rect x="157.27" y="579.85" width="2.2" height="1.1" fill="#9b7bb3"/>
<rect x="157.01" y="582.45" width="2.2" height="1.1" fill="#9b7bb3"/>
<text x="53.10" y="629.80" font-size="6.5" text-anchor="end" transform="rotate(-90 53.10 629.80)">CD4N</text>
<text x="61.33" y="629.80" font-size="6.5" text-anchor="end" transform="rotate(-90 61.33 629.80)">CD4M</text>
<text x="69.56" y="629.80" font-size="6.5" text-anchor="end" transform="rotate(-90 69.56 629.80)">CD8N</text>
<text x="77.79" y="629.80" font-size="6.5" text-anchor="end" transform="rotate(-90 77.79 629.80)">CD8M</text>
<text x="86.02" y="629.80" font-size="6.5" text-anchor="end" transform="rotate(-90 86.02 629.80)">CD4N</text>
<text x="94.25" y="629.80" font-size="6.5" text-anchor="end" transform="rotate(-90 94.25 629.80)">CD4M</text>
<text x="102.48" y="629.80" font-size="6.5" text-anchor="end" transform="rotate(-90 102.48 629.80)">CD8N</text>
<text x="110.71" y="629.80" font-size="6.5" text-anchor="end" transform="rotate(-90 110.71 629.80)">CD8M</text>
<text x="118.94" y="629.80" font-size="6.5" text-anchor="end" transform="rotate(-90 118.94 629.80)">Treg</text>
<text x="127.17" y="629.80" font-size="6.5" text-anchor="end" transform="rotate(-90 127.17 629.80)">CD4N</text>
<text x="135.40" y="629.80" font-size="6.5" text-anchor="end" transform="rotate(-90 135.40 629.80)">CD4M</text>
<text x="143.63" y="629.80" font-size="6.5" text-anchor="end" transform="rotate(-90 143.63 629.80)">CD8N</text>
<text x="151.86" y="629.80" font-size="6.5" text-anchor="end" transform="rotate(-90 151.86 629.80)">CD8M</text>
<text x="160.09" y="629.80" font-size="6.5" text-anchor="end" transform="rotate(-90 160.09 629.80)">Treg</text>
<text x="63.00" y="544.20" font-size="6.5" text-anchor="middle" textLength="19.4" lengthAdjust="spacingAndGlyphs">Pre GT</text>
<text x="100.50" y="544.20" font-size="6.5" text-anchor="middle" textLength="35.2" lengthAdjust="spacingAndGlyphs">Post GT (2Y)</text>
<text x="141.20" y="544.20" font-size="6.5" text-anchor="middle" textLength="9" lengthAdjust="spacingAndGlyphs">HC</text>
<text x="108.00" y="530.30" font-size="8.4" text-anchor="middle" textLength="33.4" lengthAdjust="spacingAndGlyphs">Patient 1</text>
<text x="19.20" y="587.00" font-size="7.4" text-anchor="middle" transform="rotate(-90 19.20 587.00)" textLength="37.8" lengthAdjust="spacingAndGlyphs">% Repertoire</text>
<line x1="215.50" y1="549.20" x2="215.50" y2="626.70" stroke="#222" stroke-width="1.2"/>
<line x1="212.10" y1="626.20" x2="215.50" y2="626.20" stroke="#222" stroke-width="1.0"/>
<text x="209.90" y="628.40" font-size="6.2" text-anchor="end">0.001</text>
<line x1="213.70" y1="621.65" x2="215.50" y2="621.65" stroke="#222" stroke-width="0.6"/>
<line x1="213.70" y1="619.00" x2="215.50" y2="619.00" stroke="#222" stroke-width="0.6"/>
<line x1="213.70" y1="617.11" x2="215.50" y2="617.11" stroke="#222" stroke-width="0.6"/>
<line x1="213.70" y1="615.65" x2="215.50" y2="615.65" stroke="#222" stroke-width="0.6"/>
<line x1="213.70" y1="614.45" x2="215.50" y2="614.45" stroke="#222" stroke-width="0.6"/>
<line x1="213.70" y1="613.44" x2="215.50" y2="613.44" stroke="#222" stroke-width="0.6"/>
<line x1="213.70" y1="612.56" x2="215.50" y2="612.56" stroke="#222" stroke-width="0.6"/>
<line x1="213.70" y1="611.79" x2="215.50" y2="611.79" stroke="#222" stroke-width="0.6"/>
<line x1="212.10" y1="611.10" x2="215.50" y2="611.10" stroke="#222" stroke-width="1.0"/>
<text x="209.90" y="613.30" font-size="6.2" text-anchor="end">0.01</text>
<line x1="213.70" y1="606.55" x2="215.50" y2="606.55" stroke="#222" stroke-width="0.6"/>
<line x1="213.70" y1="603.90" x2="215.50" y2="603.90" stroke="#222" stroke-width="0.6"/>
<line x1="213.70" y1="602.01" x2="215.50" y2="602.01" stroke="#222" stroke-width="0.6"/>
<line x1="213.70" y1="600.55" x2="215.50" y2="600.55" stroke="#222" stroke-width="0.6"/>
<line x1="213.70" y1="599.35" x2="215.50" y2="599.35" stroke="#222" stroke-width="0.6"/>
<line x1="213.70" y1="598.34" x2="215.50" y2="598.34" stroke="#222" stroke-width="0.6"/>
<line x1="213.70" y1="597.46" x2="215.50" y2="597.46" stroke="#222" stroke-width="0.6"/>
<line x1="213.70" y1="596.69" x2="215.50" y2="596.69" stroke="#222" stroke-width="0.6"/>
<line x1="212.10" y1="596.00" x2="215.50" y2="596.00" stroke="#222" stroke-width="1.0"/>
<text x="209.90" y="598.20" font-size="6.2" text-anchor="end">0.1</text>
<line x1="213.70" y1="591.45" x2="215.50" y2="591.45" stroke="#222" stroke-width="0.6"/>
<line x1="213.70" y1="588.80" x2="215.50" y2="588.80" stroke="#222" stroke-width="0.6"/>
<line x1="213.70" y1="586.91" x2="215.50" y2="586.91" stroke="#222" stroke-width="0.6"/>
<line x1="213.70" y1="585.45" x2="215.50" y2="585.45" stroke="#222" stroke-width="0.6"/>
<line x1="213.70" y1="584.25" x2="215.50" y2="584.25" stroke="#222" stroke-width="0.6"/>
<line x1="213.70" y1="583.24" x2="215.50" y2="583.24" stroke="#222" stroke-width="0.6"/>
<line x1="213.70" y1="582.36" x2="215.50" y2="582.36" stroke="#222" stroke-width="0.6"/>
<line x1="213.70" y1="581.59" x2="215.50" y2="581.59" stroke="#222" stroke-width="0.6"/>
<line x1="212.10" y1="580.90" x2="215.50" y2="580.90" stroke="#222" stroke-width="1.0"/>
<text x="209.90" y="583.10" font-size="6.2" text-anchor="end">1</text>
<line x1="213.70" y1="576.35" x2="215.50" y2="576.35" stroke="#222" stroke-width="0.6"/>
<line x1="213.70" y1="573.70" x2="215.50" y2="573.70" stroke="#222" stroke-width="0.6"/>
<line x1="213.70" y1="571.81" x2="215.50" y2="571.81" stroke="#222" stroke-width="0.6"/>
<line x1="213.70" y1="570.35" x2="215.50" y2="570.35" stroke="#222" stroke-width="0.6"/>
<line x1="213.70" y1="569.15" x2="215.50" y2="569.15" stroke="#222" stroke-width="0.6"/>
<line x1="213.70" y1="568.14" x2="215.50" y2="568.14" stroke="#222" stroke-width="0.6"/>
<line x1="213.70" y1="567.26" x2="215.50" y2="567.26" stroke="#222" stroke-width="0.6"/>
<line x1="213.70" y1="566.49" x2="215.50" y2="566.49" stroke="#222" stroke-width="0.6"/>
<line x1="212.10" y1="565.80" x2="215.50" y2="565.80" stroke="#222" stroke-width="1.0"/>
<text x="209.90" y="568.00" font-size="6.2" text-anchor="end">10</text>
<line x1="213.70" y1="561.25" x2="215.50" y2="561.25" stroke="#222" stroke-width="0.6"/>
<line x1="213.70" y1="558.60" x2="215.50" y2="558.60" stroke="#222" stroke-width="0.6"/>
<line x1="213.70" y1="556.71" x2="215.50" y2="556.71" stroke="#222" stroke-width="0.6"/>
<line x1="213.70" y1="555.25" x2="215.50" y2="555.25" stroke="#222" stroke-width="0.6"/>
<line x1="213.70" y1="554.05" x2="215.50" y2="554.05" stroke="#222" stroke-width="0.6"/>
<line x1="213.70" y1="553.04" x2="215.50" y2="553.04" stroke="#222" stroke-width="0.6"/>
<line x1="213.70" y1="552.16" x2="215.50" y2="552.16" stroke="#222" stroke-width="0.6"/>
<line x1="213.70" y1="551.39" x2="215.50" y2="551.39" stroke="#222" stroke-width="0.6"/>
<line x1="212.10" y1="550.70" x2="215.50" y2="550.70" stroke="#222" stroke-width="1.0"/>
<text x="209.90" y="552.90" font-size="6.2" text-anchor="end">100</text>
<line x1="215.00" y1="626.20" x2="340.40" y2="626.20" stroke="#222" stroke-width="1.2"/>
<line x1="254.70" y1="548.20" x2="254.70" y2="626.20" stroke="#222233" stroke-width="1.25" stroke-dasharray="1.2,1.45"/>
<line x1="292.70" y1="548.20" x2="292.70" y2="626.20" stroke="#222233" stroke-width="1.25" stroke-dasharray="1.2,1.45"/>
<rect x="216.45" y="590.22" width="2.4" height="1.2" fill="#b01040" opacity="0.8"/>
<rect x="217.99" y="583.01" width="2.4" height="1.2" fill="#b01040" opacity="0.8"/>
<rect x="216.90" y="591.32" width="2.4" height="1.2" fill="#b01040" opacity="0.8"/>
<rect x="218.74" y="584.22" width="2.4" height="1.2" fill="#b01040" opacity="0.8"/>
<rect x="219.99" y="594.90" width="2.4" height="1.2" fill="#b01040" opacity="0.8"/>
<rect x="217.10" y="590.30" width="2.4" height="1.2" fill="#b01040" opacity="0.8"/>
<rect x="220.35" y="594.33" width="2.4" height="1.2" fill="#b01040" opacity="0.8"/>
<rect x="218.00" y="588.65" width="2.4" height="1.2" fill="#b01040" opacity="0.8"/>
<rect x="216.98" y="587.41" width="2.4" height="1.2" fill="#b01040" opacity="0.8"/>
<rect x="220.81" y="592.95" width="2.4" height="1.2" fill="#b01040" opacity="0.8"/>
<rect x="219.73" y="587.82" width="2.4" height="1.2" fill="#b01040" opacity="0.8"/>
<rect x="217.58" y="596.12" width="2.4" height="1.2" fill="#b01040" opacity="0.8"/>
<rect x="219.08" y="598.97" width="2.4" height="1.2" fill="#b01040" opacity="0.8"/>
<rect x="217.08" y="579.55" width="2.4" height="1.2" fill="#b01040" opacity="0.8"/>
<rect x="219.02" y="580.76" width="2.4" height="1.2" fill="#b01040" opacity="0.8"/>
<rect x="217.95" y="592.52" width="2.4" height="1.2" fill="#b01040" opacity="0.8"/>
<rect x="218.27" y="598.56" width="2.4" height="1.2" fill="#b01040" opacity="0.8"/>
<rect x="216.90" y="586.44" width="2.4" height="1.2" fill="#b01040" opacity="0.8"/>
<rect x="217.67" y="599.71" width="2.4" height="1.2" fill="#b01040" opacity="0.8"/>
<rect x="218.84" y="597.91" width="2.4" height="1.2" fill="#b01040" opacity="0.8"/>
<rect x="218.99" y="588.98" width="2.4" height="1.2" fill="#b01040" opacity="0.8"/>
<rect x="220.43" y="581.27" width="2.4" height="1.2" fill="#b01040" opacity="0.8"/>
<rect x="219.56" y="600.20" width="2.4" height="1.2" fill="#b01040" opacity="0.8"/>
<rect x="216.93" y="590.04" width="2.4" height="1.2" fill="#b01040" opacity="0.8"/>
<rect x="217.90" y="595.84" width="2.4" height="1.2" fill="#b01040" opacity="0.8"/>
<rect x="217.84" y="597.72" width="2.4" height="1.2" fill="#b01040" opacity="0.8"/>
<rect x="220.27" y="589.31" width="2.4" height="1.2" fill="#b01040" opacity="0.8"/>
<rect x="218.88" y="579.22" width="2.4" height="1.2" fill="#b01040" opacity="0.8"/>
<rect x="217.22" y="576.38" width="2.4" height="1.2" fill="#b01040" opacity="0.8"/>
<rect x="220.55" y="579.08" width="2.4" height="1.2" fill="#b01040" opacity="0.8"/>
<rect x="219.18" y="598.83" width="2.4" height="1.2" fill="#b01040" opacity="0.8"/>
<rect x="219.46" y="582.40" width="2.4" height="1.2" fill="#b01040" opacity="0.8"/>
<rect x="218.20" y="593.58" width="2.4" height="1.2" fill="#b01040" opacity="0.8"/>
<rect x="220.13" y="589.79" width="2.4" height="1.2" fill="#b01040" opacity="0.8"/>
<rect x="217.87" y="574.83" width="2.4" height="1.2" fill="#b01040" opacity="0.8"/>
<rect x="216.99" y="586.57" width="2.4" height="1.2" fill="#b01040" opacity="0.8"/>
<rect x="219.02" y="584.45" width="2.4" height="1.2" fill="#b01040" opacity="0.8"/>
<rect x="218.77" y="578.92" width="2.4" height="1.2" fill="#b01040" opacity="0.8"/>
<rect x="218.99" y="581.26" width="2.4" height="1.2" fill="#b01040" opacity="0.8"/>
<rect x="219.34" y="583.03" width="2.4" height="1.2" fill="#b01040" opacity="0.8"/>
<rect x="219.20" y="575.38" width="2.4" height="1.2" fill="#b01040" opacity="0.8"/>
<rect x="220.35" y="578.16" width="2.4" height="1.2" fill="#b01040" opacity="0.8"/>
<rect x="218.56" y="590.00" width="2.4" height="1.2" fill="#b01040" opacity="0.8"/>
<rect x="219.28" y="585.10" width="2.4" height="1.2" fill="#b01040" opacity="0.8"/>
<rect x="219.84" y="592.32" width="2.4" height="1.2" fill="#b01040" opacity="0.8"/>
<rect x="218.64" y="593.94" width="2.4" height="1.2" fill="#b01040" opacity="0.8"/>
<rect x="219.61" y="600.26" width="2.4" height="1.2" fill="#b01040" opacity="0.8"/>
<rect x="218.37" y="596.63" width="2.4" height="1.2" fill="#b01040" opacity="0.8"/>
<rect x="219.01" y="585.68" width="2.4" height="1.2" fill="#b01040" opacity="0.8"/>
<rect x="218.79" y="597.94" width="2.4" height="1.2" fill="#b01040" opacity="0.8"/>
<rect x="218.47" y="587.33" width="2.2" height="1.1" fill="#d8507a" opacity="0.9"/>
<rect x="217.94" y="599.16" width="2.2" height="1.1" fill="#d8507a" opacity="0.9"/>
<rect x="219.88" y="572.66" width="2.2" height="1.1" fill="#d8507a" opacity="0.9"/>
<rect x="219.91" y="599.03" width="2.2" height="1.1" fill="#d8507a" opacity="0.9"/>
<rect x="220.01" y="589.59" width="2.2" height="1.1" fill="#d8507a" opacity="0.9"/>
<rect x="219.25" y="580.46" width="2.2" height="1.1" fill="#d8507a" opacity="0.9"/>
<rect x="217.00" y="573.13" width="2.2" height="1.1" fill="#d8507a" opacity="0.9"/>
<rect x="218.81" y="584.90" width="2.2" height="1.1" fill="#d8507a" opacity="0.9"/>
<rect x="216.65" y="583.33" width="2.2" height="1.1" fill="#d8507a" opacity="0.9"/>
<rect x="218.93" y="592.63" width="2.2" height="1.1" fill="#d8507a" opacity="0.9"/>
<line x1="216.90" y1="590.60" x2="222.90" y2="590.60" stroke="#6a0a25" stroke-width="1.0"/>
<rect x="225.62" y="574.63" width="2.2" height="1.1" fill="#f5c270" opacity="0.9"/>
<rect x="225.31" y="578.87" width="2.2" height="1.1" fill="#f5c270" opacity="0.9"/>
<rect x="228.28" y="570.00" width="2.2" height="1.1" fill="#f5c270" opacity="0.9"/>
<rect x="227.20" y="594.34" width="2.2" height="1.1" fill="#f5c270" opacity="0.9"/>
<rect x="226.12" y="591.63" width="2.2" height="1.1" fill="#f5c270" opacity="0.9"/>
<rect x="225.25" y="589.97" width="2.2" height="1.1" fill="#f5c270" opacity="0.9"/>
<rect x="226.76" y="588.38" width="2.2" height="1.1" fill="#f5c270" opacity="0.9"/>
<rect x="224.70" y="592.63" width="2.2" height="1.1" fill="#f5c270" opacity="0.9"/>
<rect x="224.81" y="589.62" width="2.2" height="1.1" fill="#f5c270" opacity="0.9"/>
<rect x="228.45" y="582.72" width="2.2" height="1.1" fill="#f5c270" opacity="0.9"/>
<rect x="225.34" y="568.17" width="2.2" height="1.1" fill="#f5c270" opacity="0.9"/>
<rect x="225.70" y="576.26" width="2.2" height="1.1" fill="#f5c270" opacity="0.9"/>
<rect x="228.21" y="569.85" width="2.2" height="1.1" fill="#f5c270" opacity="0.9"/>
<rect x="226.02" y="590.25" width="2.2" height="1.1" fill="#f5c270" opacity="0.9"/>
<rect x="226.85" y="577.81" width="2.2" height="1.1" fill="#f5c270" opacity="0.9"/>
<rect x="224.41" y="569.39" width="2.2" height="1.1" fill="#f5c270" opacity="0.9"/>
<line x1="224.57" y1="584.50" x2="230.57" y2="584.50" stroke="#444" stroke-width="1.0"/>
<rect x="233.29" y="595.48" width="2.2" height="1.1" fill="#86c98e" opacity="0.9"/>
<rect x="236.05" y="583.00" width="2.2" height="1.1" fill="#86c98e" opacity="0.9"/>
<rect x="234.02" y="597.94" width="2.2" height="1.1" fill="#86c98e" opacity="0.9"/>
<rect x="233.24" y="573.89" width="2.2" height="1.1" fill="#86c98e" opacity="0.9"/>
<rect x="235.89" y="596.24" width="2.2" height="1.1" fill="#86c98e" opacity="0.9"/>
<rect x="235.63" y="573.55" width="2.2" height="1.1" fill="#86c98e" opacity="0.9"/>
<rect x="234.02" y="578.50" width="2.2" height="1.1" fill="#86c98e" opacity="0.9"/>
<rect x="235.81" y="572.81" width="2.2" height="1.1" fill="#86c98e" opacity="0.9"/>
<rect x="232.83" y="598.51" width="2.2" height="1.1" fill="#86c98e" opacity="0.9"/>
<rect x="232.78" y="587.18" width="2.2" height="1.1" fill="#86c98e" opacity="0.9"/>
<rect x="232.16" y="594.91" width="2.2" height="1.1" fill="#86c98e" opacity="0.9"/>
<rect x="235.13" y="570.76" width="2.2" height="1.1" fill="#86c98e" opacity="0.9"/>
<rect x="235.90" y="577.22" width="2.2" height="1.1" fill="#86c98e" opacity="0.9"/>
<rect x="235.08" y="594.58" width="2.2" height="1.1" fill="#86c98e" opacity="0.9"/>
<rect x="235.00" y="571.66" width="2.2" height="1.1" fill="#86c98e" opacity="0.9"/>
<rect x="233.90" y="596.71" width="2.2" height="1.1" fill="#86c98e" opacity="0.9"/>
<line x1="232.24" y1="584.90" x2="238.24" y2="584.90" stroke="#444" stroke-width="1.0"/>
<rect x="240.87" y="575.82" width="2.4" height="1.2" fill="#3a76b5" opacity="0.8"/>
<rect x="242.60" y="579.93" width="2.4" height="1.2" fill="#3a76b5" opacity="0.8"/>
<rect x="240.52" y="577.94" width="2.4" height="1.2" fill="#3a76b5" opacity="0.8"/>
<rect x="242.36" y="578.64" width="2.4" height="1.2" fill="#3a76b5" opacity="0.8"/>
<rect x="241.23" y="588.63" width="2.4" height="1.2" fill="#3a76b5" opacity="0.8"/>
<rect x="243.38" y="586.32" width="2.4" height="1.2" fill="#3a76b5" opacity="0.8"/>
<rect x="240.49" y="585.02" width="2.4" height="1.2" fill="#3a76b5" opacity="0.8"/>
<rect x="243.51" y="579.82" width="2.4" height="1.2" fill="#3a76b5" opacity="0.8"/>
<rect x="240.75" y="586.41" width="2.4" height="1.2" fill="#3a76b5" opacity="0.8"/>
<rect x="239.90" y="585.92" width="2.4" height="1.2" fill="#3a76b5" opacity="0.8"/>
<rect x="241.55" y="592.09" width="2.4" height="1.2" fill="#3a76b5" opacity="0.8"/>
<rect x="241.85" y="583.91" width="2.4" height="1.2" fill="#3a76b5" opacity="0.8"/>
<rect x="241.99" y="575.22" width="2.4" height="1.2" fill="#3a76b5" opacity="0.8"/>
<rect x="240.68" y="579.52" width="2.4" height="1.2" fill="#3a76b5" opacity="0.8"/>
<rect x="240.17" y="588.86" width="2.4" height="1.2" fill="#3a76b5" opacity="0.8"/>
<rect x="242.77" y="579.53" width="2.4" height="1.2" fill="#3a76b5" opacity="0.8"/>
<rect x="240.83" y="578.83" width="2.4" height="1.2" fill="#3a76b5" opacity="0.8"/>
<rect x="240.27" y="584.27" width="2.4" height="1.2" fill="#3a76b5" opacity="0.8"/>
<rect x="243.26" y="590.55" width="2.4" height="1.2" fill="#3a76b5" opacity="0.8"/>
<rect x="241.60" y="575.01" width="2.4" height="1.2" fill="#3a76b5" opacity="0.8"/>
<rect x="241.25" y="587.91" width="2.4" height="1.2" fill="#3a76b5" opacity="0.8"/>
<rect x="241.71" y="591.13" width="2.4" height="1.2" fill="#3a76b5" opacity="0.8"/>
<rect x="241.91" y="577.64" width="2.4" height="1.2" fill="#3a76b5" opacity="0.8"/>
<rect x="241.09" y="586.01" width="2.4" height="1.2" fill="#3a76b5" opacity="0.8"/>
<rect x="242.94" y="586.25" width="2.4" height="1.2" fill="#3a76b5" opacity="0.8"/>
<rect x="241.74" y="583.70" width="2.4" height="1.2" fill="#3a76b5" opacity="0.8"/>
<rect x="242.66" y="594.87" width="2.2" height="1.1" fill="#8fb3d8" opacity="0.9"/>
<rect x="243.89" y="585.68" width="2.2" height="1.1" fill="#8fb3d8" opacity="0.9"/>
<rect x="243.10" y="575.87" width="2.2" height="1.1" fill="#8fb3d8" opacity="0.9"/>
<rect x="242.31" y="575.62" width="2.2" height="1.1" fill="#8fb3d8" opacity="0.9"/>
<rect x="241.54" y="577.61" width="2.2" height="1.1" fill="#8fb3d8" opacity="0.9"/>
<rect x="243.13" y="592.83" width="2.2" height="1.1" fill="#8fb3d8" opacity="0.9"/>
<rect x="240.60" y="593.34" width="2.2" height="1.1" fill="#8fb3d8" opacity="0.9"/>
<rect x="240.53" y="584.79" width="2.2" height="1.1" fill="#8fb3d8" opacity="0.9"/>
<rect x="241.81" y="587.37" width="2.2" height="1.1" fill="#8fb3d8" opacity="0.9"/>
<rect x="242.26" y="571.95" width="2.2" height="1.1" fill="#8fb3d8" opacity="0.9"/>
<line x1="239.91" y1="585.20" x2="245.91" y2="585.20" stroke="#333" stroke-width="1.0"/>
<rect x="249.77" y="588.63" width="2.2" height="1.1" fill="#9b7bb3" opacity="0.9"/>
<rect x="248.20" y="591.63" width="2.2" height="1.1" fill="#9b7bb3" opacity="0.9"/>
<rect x="247.55" y="577.93" width="2.2" height="1.1" fill="#9b7bb3" opacity="0.9"/>
<rect x="249.22" y="584.48" width="2.2" height="1.1" fill="#9b7bb3" opacity="0.9"/>
<rect x="248.53" y="583.44" width="2.2" height="1.1" fill="#9b7bb3" opacity="0.9"/>
<rect x="247.77" y="590.22" width="2.2" height="1.1" fill="#9b7bb3" opacity="0.9"/>
<rect x="249.76" y="592.29" width="2.2" height="1.1" fill="#9b7bb3" opacity="0.9"/>
<rect x="250.65" y="585.37" width="2.2" height="1.1" fill="#9b7bb3" opacity="0.9"/>
<rect x="248.06" y="579.57" width="2.2" height="1.1" fill="#9b7bb3" opacity="0.9"/>
<rect x="247.65" y="580.96" width="2.2" height="1.1" fill="#9b7bb3" opacity="0.9"/>
<rect x="249.96" y="581.02" width="2.2" height="1.1" fill="#9b7bb3" opacity="0.9"/>
<rect x="248.54" y="585.03" width="2.2" height="1.1" fill="#9b7bb3" opacity="0.9"/>
<line x1="247.58" y1="585.20" x2="253.58" y2="585.20" stroke="#333" stroke-width="1.0"/>
<rect x="255.11" y="613.61" width="2.4" height="1.2" fill="#b01040" opacity="0.8"/>
<rect x="255.80" y="614.17" width="2.4" height="1.2" fill="#b01040" opacity="0.8"/>
<rect x="255.62" y="612.81" width="2.4" height="1.2" fill="#b01040" opacity="0.8"/>
<rect x="258.51" y="613.86" width="2.4" height="1.2" fill="#b01040" opacity="0.8"/>
<rect x="255.30" y="614.09" width="2.4" height="1.2" fill="#b01040" opacity="0.8"/>
<rect x="256.41" y="613.19" width="2.4" height="1.2" fill="#b01040" opacity="0.8"/>
<rect x="258.93" y="612.72" width="2.4" height="1.2" fill="#b01040" opacity="0.8"/>
<rect x="257.02" y="612.30" width="2.4" height="1.2" fill="#b01040" opacity="0.8"/>
<rect x="259.05" y="614.03" width="2.4" height="1.2" fill="#b01040" opacity="0.8"/>
<rect x="256.89" y="612.55" width="2.4" height="1.2" fill="#b01040" opacity="0.8"/>
<rect x="255.12" y="613.99" width="2.4" height="1.2" fill="#b01040" opacity="0.8"/>
<rect x="258.66" y="612.78" width="2.4" height="1.2" fill="#b01040" opacity="0.8"/>
<rect x="256.67" y="612.54" width="2.4" height="1.2" fill="#b01040" opacity="0.8"/>
<rect x="256.72" y="612.92" width="2.4" height="1.2" fill="#b01040" opacity="0.8"/>
<rect x="263.01" y="595.38" width="2.4" height="1.2" fill="#ee9a18" opacity="0.8"/>
<rect x="265.54" y="602.37" width="2.4" height="1.2" fill="#ee9a18" opacity="0.8"/>
<rect x="263.38" y="600.38" width="2.4" height="1.2" fill="#ee9a18" opacity="0.8"/>
<rect x="264.97" y="596.72" width="2.4" height="1.2" fill="#ee9a18" opacity="0.8"/>
<rect x="264.53" y="596.64" width="2.4" height="1.2" fill="#ee9a18" opacity="0.8"/>
<rect x="264.23" y="601.89" width="2.4" height="1.2" fill="#ee9a18" opacity="0.8"/>
<rect x="267.26" y="597.36" width="2.4" height="1.2" fill="#ee9a18" opacity="0.8"/>
<rect x="262.21" y="599.44" width="2.4" height="1.2" fill="#ee9a18" opacity="0.8"/>
<rect x="265.54" y="597.86" width="2.4" height="1.2" fill="#ee9a18" opacity="0.8"/>
<rect x="264.16" y="595.24" width="2.4" height="1.2" fill="#ee9a18" opacity="0.8"/>
<rect x="266.59" y="600.08" width="2.4" height="1.2" fill="#ee9a18" opacity="0.8"/>
<rect x="266.84" y="599.29" width="2.4" height="1.2" fill="#ee9a18" opacity="0.8"/>
<rect x="264.12" y="598.32" width="2.4" height="1.2" fill="#ee9a18" opacity="0.8"/>
<rect x="264.21" y="601.21" width="2.4" height="1.2" fill="#ee9a18" opacity="0.8"/>
<rect x="263.39" y="600.74" width="2.4" height="1.2" fill="#ee9a18" opacity="0.8"/>
<rect x="263.04" y="597.44" width="2.4" height="1.2" fill="#ee9a18" opacity="0.8"/>
<rect x="262.85" y="598.98" width="2.4" height="1.2" fill="#ee9a18" opacity="0.8"/>
<rect x="263.41" y="596.35" width="2.4" height="1.2" fill="#ee9a18" opacity="0.8"/>
<rect x="263.65" y="598.35" width="2.4" height="1.2" fill="#ee9a18" opacity="0.8"/>
<rect x="267.47" y="598.20" width="2.4" height="1.2" fill="#ee9a18" opacity="0.8"/>
<rect x="266.61" y="599.96" width="2.4" height="1.2" fill="#ee9a18" opacity="0.8"/>
<rect x="264.18" y="596.35" width="2.4" height="1.2" fill="#ee9a18" opacity="0.8"/>
<rect x="265.42" y="595.35" width="2.4" height="1.2" fill="#ee9a18" opacity="0.8"/>
<rect x="263.51" y="597.56" width="2.4" height="1.2" fill="#ee9a18" opacity="0.8"/>
<rect x="263.69" y="594.94" width="2.4" height="1.2" fill="#ee9a18" opacity="0.8"/>
<rect x="264.19" y="596.79" width="2.4" height="1.2" fill="#ee9a18" opacity="0.8"/>
<rect x="265.51" y="601.82" width="2.4" height="1.2" fill="#ee9a18" opacity="0.8"/>
<rect x="264.03" y="596.84" width="2.4" height="1.2" fill="#ee9a18" opacity="0.8"/>
<rect x="266.58" y="595.97" width="2.4" height="1.2" fill="#ee9a18" opacity="0.8"/>
<rect x="266.14" y="597.53" width="2.4" height="1.2" fill="#ee9a18" opacity="0.8"/>
<rect x="266.76" y="600.30" width="2.4" height="1.2" fill="#ee9a18" opacity="0.8"/>
<rect x="264.14" y="594.96" width="2.4" height="1.2" fill="#ee9a18" opacity="0.8"/>
<rect x="262.45" y="597.72" width="2.4" height="1.2" fill="#ee9a18" opacity="0.8"/>
<rect x="264.02" y="601.51" width="2.4" height="1.2" fill="#ee9a18" opacity="0.8"/>
<rect x="264.81" y="600.66" width="2.4" height="1.2" fill="#ee9a18" opacity="0.8"/>
<rect x="264.35" y="570.82" width="2.2" height="1.1" fill="#f5c270" opacity="0.9"/>
<rect x="262.80" y="575.41" width="2.2" height="1.1" fill="#f5c270" opacity="0.9"/>
<rect x="265.24" y="573.22" width="2.2" height="1.1" fill="#f5c270" opacity="0.9"/>
<rect x="263.99" y="570.24" width="2.2" height="1.1" fill="#f5c270" opacity="0.9"/>
<rect x="265.01" y="580.05" width="2.2" height="1.1" fill="#f5c270" opacity="0.9"/>
<rect x="265.73" y="572.85" width="2.2" height="1.1" fill="#f5c270" opacity="0.9"/>
<rect x="265.81" y="575.96" width="2.2" height="1.1" fill="#f5c270" opacity="0.9"/>
<rect x="263.27" y="586.10" width="2.2" height="1.1" fill="#f5c270" opacity="0.9"/>
<rect x="263.85" y="574.57" width="2.2" height="1.1" fill="#f5c270" opacity="0.9"/>
<rect x="264.40" y="587.27" width="2.2" height="1.1" fill="#f5c270" opacity="0.9"/>
<rect x="266.43" y="579.11" width="2.2" height="1.1" fill="#f5c270" opacity="0.9"/>
<rect x="263.91" y="575.10" width="2.2" height="1.1" fill="#f5c270" opacity="0.9"/>
<rect x="263.57" y="578.07" width="2.2" height="1.1" fill="#f5c270" opacity="0.9"/>
<rect x="262.73" y="570.47" width="2.2" height="1.1" fill="#f5c270" opacity="0.9"/>
<rect x="272.72" y="598.92" width="2.4" height="1.2" fill="#2e9c40" opacity="0.8"/>
<rect x="274.38" y="599.64" width="2.4" height="1.2" fill="#2e9c40" opacity="0.8"/>
<rect x="273.20" y="597.59" width="2.4" height="1.2" fill="#2e9c40" opacity="0.8"/>
<rect x="271.41" y="600.08" width="2.4" height="1.2" fill="#2e9c40" opacity="0.8"/>
<rect x="273.19" y="599.16" width="2.4" height="1.2" fill="#2e9c40" opacity="0.8"/>
<rect x="273.56" y="600.22" width="2.4" height="1.2" fill="#2e9c40" opacity="0.8"/>
<rect x="272.98" y="597.34" width="2.4" height="1.2" fill="#2e9c40" opacity="0.8"/>
<rect x="272.14" y="596.76" width="2.4" height="1.2" fill="#2e9c40" opacity="0.8"/>
<rect x="270.16" y="597.97" width="2.4" height="1.2" fill="#2e9c40" opacity="0.8"/>
<rect x="271.52" y="597.93" width="2.4" height="1.2" fill="#2e9c40" opacity="0.8"/>
<rect x="271.25" y="598.39" width="2.4" height="1.2" fill="#2e9c40" opacity="0.8"/>
<rect x="272.00" y="597.03" width="2.4" height="1.2" fill="#2e9c40" opacity="0.8"/>
<rect x="270.66" y="598.30" width="2.4" height="1.2" fill="#2e9c40" opacity="0.8"/>
<rect x="271.12" y="599.06" width="2.4" height="1.2" fill="#2e9c40" opacity="0.8"/>
<rect x="271.83" y="596.77" width="2.4" height="1.2" fill="#2e9c40" opacity="0.8"/>
<rect x="270.60" y="598.09" width="2.4" height="1.2" fill="#2e9c40" opacity="0.8"/>
<rect x="273.42" y="598.73" width="2.4" height="1.2" fill="#2e9c40" opacity="0.8"/>
<rect x="273.42" y="598.61" width="2.4" height="1.2" fill="#2e9c40" opacity="0.8"/>
<rect x="279.71" y="585.52" width="2.4" height="1.2" fill="#3a76b5" opacity="0.8"/>
<rect x="277.71" y="590.19" width="2.4" height="1.2" fill="#3a76b5" opacity="0.8"/>
<rect x="277.62" y="590.74" width="2.4" height="1.2" fill="#3a76b5" opacity="0.8"/>
<rect x="280.54" y="591.99" width="2.4" height="1.2" fill="#3a76b5" opacity="0.8"/>
<rect x="279.09" y="591.62" width="2.4" height="1.2" fill="#3a76b5" opacity="0.8"/>
<rect x="277.73" y="588.67" width="2.4" height="1.2" fill="#3a76b5" opacity="0.8"/>
<rect x="282.14" y="589.96" width="2.4" height="1.2" fill="#3a76b5" opacity="0.8"/>
<rect x="278.74" y="592.95" width="2.4" height="1.2" fill="#3a76b5" opacity="0.8"/>
<rect x="278.41" y="594.35" width="2.4" height="1.2" fill="#3a76b5" opacity="0.8"/>
<rect x="280.70" y="591.63" width="2.4" height="1.2" fill="#3a76b5" opacity="0.8"/>
<rect x="279.59" y="598.28" width="2.4" height="1.2" fill="#3a76b5" opacity="0.8"/>
<rect x="282.51" y="593.09" width="2.4" height="1.2" fill="#3a76b5" opacity="0.8"/>
<rect x="280.66" y="595.77" width="2.4" height="1.2" fill="#3a76b5" opacity="0.8"/>
<rect x="279.58" y="593.71" width="2.4" height="1.2" fill="#3a76b5" opacity="0.8"/>
<rect x="278.83" y="590.89" width="2.4" height="1.2" fill="#3a76b5" opacity="0.8"/>
<rect x="281.72" y="596.57" width="2.4" height="1.2" fill="#3a76b5" opacity="0.8"/>
<rect x="282.28" y="590.43" width="2.4" height="1.2" fill="#3a76b5" opacity="0.8"/>
<rect x="278.83" y="585.72" width="2.4" height="1.2" fill="#3a76b5" opacity="0.8"/>
<rect x="278.99" y="592.15" width="2.4" height="1.2" fill="#3a76b5" opacity="0.8"/>
<rect x="282.62" y="590.14" width="2.4" height="1.2" fill="#3a76b5" opacity="0.8"/>
<rect x="278.76" y="587.25" width="2.4" height="1.2" fill="#3a76b5" opacity="0.8"/>
<rect x="280.91" y="588.33" width="2.4" height="1.2" fill="#3a76b5" opacity="0.8"/>
<rect x="277.68" y="588.41" width="2.4" height="1.2" fill="#3a76b5" opacity="0.8"/>
<rect x="279.47" y="592.65" width="2.4" height="1.2" fill="#3a76b5" opacity="0.8"/>
<rect x="280.03" y="588.48" width="2.4" height="1.2" fill="#3a76b5" opacity="0.8"/>
<rect x="280.32" y="594.11" width="2.4" height="1.2" fill="#3a76b5" opacity="0.8"/>
<rect x="280.39" y="593.75" width="2.4" height="1.2" fill="#3a76b5" opacity="0.8"/>
<rect x="282.10" y="596.59" width="2.4" height="1.2" fill="#3a76b5" opacity="0.8"/>
<rect x="279.25" y="589.77" width="2.4" height="1.2" fill="#3a76b5" opacity="0.8"/>
<rect x="279.32" y="597.34" width="2.4" height="1.2" fill="#3a76b5" opacity="0.8"/>
<rect x="281.05" y="595.01" width="2.4" height="1.2" fill="#3a76b5" opacity="0.8"/>
<rect x="282.46" y="594.61" width="2.4" height="1.2" fill="#3a76b5" opacity="0.8"/>
<rect x="278.56" y="596.49" width="2.4" height="1.2" fill="#3a76b5" opacity="0.8"/>
<rect x="280.01" y="593.72" width="2.4" height="1.2" fill="#3a76b5" opacity="0.8"/>
<rect x="279.34" y="592.92" width="2.4" height="1.2" fill="#3a76b5" opacity="0.8"/>
<rect x="281.32" y="589.11" width="2.4" height="1.2" fill="#3a76b5" opacity="0.8"/>
<rect x="278.59" y="592.52" width="2.4" height="1.2" fill="#3a76b5" opacity="0.8"/>
<rect x="279.21" y="588.62" width="2.4" height="1.2" fill="#3a76b5" opacity="0.8"/>
<rect x="280.12" y="587.64" width="2.4" height="1.2" fill="#3a76b5" opacity="0.8"/>
<rect x="278.29" y="586.93" width="2.4" height="1.2" fill="#3a76b5" opacity="0.8"/>
<rect x="278.62" y="586.14" width="2.4" height="1.2" fill="#3a76b5" opacity="0.8"/>
<rect x="278.09" y="594.86" width="2.4" height="1.2" fill="#3a76b5" opacity="0.8"/>
<rect x="281.58" y="591.39" width="2.4" height="1.2" fill="#3a76b5" opacity="0.8"/>
<rect x="278.17" y="591.79" width="2.4" height="1.2" fill="#3a76b5" opacity="0.8"/>
<rect x="281.58" y="597.07" width="2.4" height="1.2" fill="#3a76b5" opacity="0.8"/>
<rect x="279.27" y="557.05" width="2.2" height="1.1" fill="#8fb3d8" opacity="0.9"/>
<rect x="281.23" y="570.67" width="2.2" height="1.1" fill="#8fb3d8" opacity="0.9"/>
<rect x="280.94" y="567.22" width="2.2" height="1.1" fill="#8fb3d8" opacity="0.9"/>
<rect x="280.94" y="563.00" width="2.2" height="1.1" fill="#8fb3d8" opacity="0.9"/>
<rect x="279.56" y="565.26" width="2.2" height="1.1" fill="#8fb3d8" opacity="0.9"/>
<rect x="281.39" y="578.23" width="2.2" height="1.1" fill="#8fb3d8" opacity="0.9"/>
<rect x="280.40" y="580.31" width="2.2" height="1.1" fill="#8fb3d8" opacity="0.9"/>
<rect x="280.90" y="568.07" width="2.2" height="1.1" fill="#8fb3d8" opacity="0.9"/>
<rect x="281.35" y="574.14" width="2.2" height="1.1" fill="#8fb3d8" opacity="0.9"/>
<rect x="278.81" y="579.49" width="2.2" height="1.1" fill="#8fb3d8" opacity="0.9"/>
<rect x="280.77" y="566.76" width="2.2" height="1.1" fill="#8fb3d8" opacity="0.9"/>
<rect x="279.02" y="562.38" width="2.2" height="1.1" fill="#8fb3d8" opacity="0.9"/>
<rect x="280.47" y="555.86" width="2.2" height="1.1" fill="#8fb3d8" opacity="0.9"/>
<rect x="281.85" y="583.68" width="2.2" height="1.1" fill="#8fb3d8" opacity="0.9"/>
<rect x="288.50" y="593.90" width="2.4" height="1.2" fill="#532673" opacity="0.8"/>
<rect x="288.46" y="596.04" width="2.4" height="1.2" fill="#532673" opacity="0.8"/>
<rect x="290.10" y="595.88" width="2.4" height="1.2" fill="#532673" opacity="0.8"/>
<rect x="286.30" y="600.32" width="2.4" height="1.2" fill="#532673" opacity="0.8"/>
<rect x="285.80" y="598.25" width="2.4" height="1.2" fill="#532673" opacity="0.8"/>
<rect x="287.00" y="593.22" width="2.4" height="1.2" fill="#532673" opacity="0.8"/>
<rect x="290.18" y="598.38" width="2.4" height="1.2" fill="#532673" opacity="0.8"/>
<rect x="287.05" y="593.80" width="2.4" height="1.2" fill="#532673" opacity="0.8"/>
<rect x="287.87" y="593.10" width="2.4" height="1.2" fill="#532673" opacity="0.8"/>
<rect x="287.02" y="596.52" width="2.4" height="1.2" fill="#532673" opacity="0.8"/>
<rect x="289.28" y="595.22" width="2.4" height="1.2" fill="#532673" opacity="0.8"/>
<rect x="286.80" y="599.19" width="2.4" height="1.2" fill="#532673" opacity="0.8"/>
<rect x="288.37" y="595.84" width="2.4" height="1.2" fill="#532673" opacity="0.8"/>
<rect x="290.03" y="598.64" width="2.4" height="1.2" fill="#532673" opacity="0.8"/>
<rect x="288.79" y="595.82" width="2.4" height="1.2" fill="#532673" opacity="0.8"/>
<rect x="289.40" y="596.99" width="2.4" height="1.2" fill="#532673" opacity="0.8"/>
<rect x="286.36" y="594.00" width="2.4" height="1.2" fill="#532673" opacity="0.8"/>
<rect x="289.43" y="593.70" width="2.4" height="1.2" fill="#532673" opacity="0.8"/>
<rect x="287.67" y="594.79" width="2.4" height="1.2" fill="#532673" opacity="0.8"/>
<rect x="287.02" y="593.80" width="2.4" height="1.2" fill="#532673" opacity="0.8"/>
<rect x="287.94" y="593.04" width="2.4" height="1.2" fill="#532673" opacity="0.8"/>
<rect x="288.25" y="593.98" width="2.4" height="1.2" fill="#532673" opacity="0.8"/>
<rect x="286.37" y="594.96" width="2.4" height="1.2" fill="#532673" opacity="0.8"/>
<rect x="286.98" y="596.52" width="2.4" height="1.2" fill="#532673" opacity="0.8"/>
<rect x="285.52" y="594.85" width="2.4" height="1.2" fill="#532673" opacity="0.8"/>
<rect x="289.14" y="593.38" width="2.4" height="1.2" fill="#532673" opacity="0.8"/>
<rect x="285.55" y="595.22" width="2.4" height="1.2" fill="#532673" opacity="0.8"/>
<rect x="287.66" y="594.27" width="2.4" height="1.2" fill="#532673" opacity="0.8"/>
<rect x="286.81" y="600.38" width="2.4" height="1.2" fill="#532673" opacity="0.8"/>
<rect x="287.67" y="599.40" width="2.4" height="1.2" fill="#532673" opacity="0.8"/>
<rect x="289.06" y="588.65" width="2.2" height="1.1" fill="#9b7bb3" opacity="0.9"/>
<rect x="286.06" y="588.50" width="2.2" height="1.1" fill="#9b7bb3" opacity="0.9"/>
<rect x="288.46" y="589.76" width="2.2" height="1.1" fill="#9b7bb3" opacity="0.9"/>
<rect x="286.94" y="590.36" width="2.2" height="1.1" fill="#9b7bb3" opacity="0.9"/>
<rect x="289.29" y="592.95" width="2.2" height="1.1" fill="#9b7bb3" opacity="0.9"/>
<rect x="287.60" y="593.40" width="2.2" height="1.1" fill="#9b7bb3" opacity="0.9"/>
<rect x="296.24" y="610.98" width="2.4" height="1.2" fill="#b01040" opacity="0.8"/>
<rect x="293.61" y="609.34" width="2.4" height="1.2" fill="#b01040" opacity="0.8"/>
<rect x="293.98" y="609.32" width="2.4" height="1.2" fill="#b01040" opacity="0.8"/>
<rect x="294.96" y="609.09" width="2.4" height="1.2" fill="#b01040" opacity="0.8"/>
<rect x="294.61" y="610.78" width="2.4" height="1.2" fill="#b01040" opacity="0.8"/>
<rect x="293.05" y="610.19" width="2.4" height="1.2" fill="#b01040" opacity="0.8"/>
<rect x="297.22" y="609.43" width="2.4" height="1.2" fill="#b01040" opacity="0.8"/>
<rect x="295.47" y="608.93" width="2.4" height="1.2" fill="#b01040" opacity="0.8"/>
<rect x="296.53" y="610.93" width="2.4" height="1.2" fill="#b01040" opacity="0.8"/>
<rect x="294.97" y="610.74" width="2.4" height="1.2" fill="#b01040" opacity="0.8"/>
<rect x="296.68" y="610.91" width="2.4" height="1.2" fill="#b01040" opacity="0.8"/>
<rect x="297.38" y="610.82" width="2.4" height="1.2" fill="#b01040" opacity="0.8"/>
<rect x="296.89" y="609.15" width="2.4" height="1.2" fill="#b01040" opacity="0.8"/>
<rect x="296.36" y="609.91" width="2.4" height="1.2" fill="#b01040" opacity="0.8"/>
<rect x="305.06" y="599.03" width="2.4" height="1.2" fill="#ee9a18" opacity="0.8"/>
<rect x="303.32" y="597.55" width="2.4" height="1.2" fill="#ee9a18" opacity="0.8"/>
<rect x="302.54" y="598.88" width="2.4" height="1.2" fill="#ee9a18" opacity="0.8"/>
<rect x="303.92" y="599.80" width="2.4" height="1.2" fill="#ee9a18" opacity="0.8"/>
<rect x="302.46" y="602.67" width="2.4" height="1.2" fill="#ee9a18" opacity="0.8"/>
<rect x="302.29" y="601.55" width="2.4" height="1.2" fill="#ee9a18" opacity="0.8"/>
<rect x="305.10" y="599.21" width="2.4" height="1.2" fill="#ee9a18" opacity="0.8"/>
<rect x="300.95" y="599.49" width="2.4" height="1.2" fill="#ee9a18" opacity="0.8"/>
<rect x="304.34" y="599.58" width="2.4" height="1.2" fill="#ee9a18" opacity="0.8"/>
<rect x="304.20" y="598.77" width="2.4" height="1.2" fill="#ee9a18" opacity="0.8"/>
<rect x="304.07" y="600.95" width="2.4" height="1.2" fill="#ee9a18" opacity="0.8"/>
<rect x="301.33" y="598.55" width="2.4" height="1.2" fill="#ee9a18" opacity="0.8"/>
<rect x="302.45" y="598.33" width="2.4" height="1.2" fill="#ee9a18" opacity="0.8"/>
<rect x="300.35" y="600.20" width="2.4" height="1.2" fill="#ee9a18" opacity="0.8"/>
<rect x="302.53" y="600.67" width="2.4" height="1.2" fill="#ee9a18" opacity="0.8"/>
<rect x="303.26" y="599.49" width="2.4" height="1.2" fill="#ee9a18" opacity="0.8"/>
<rect x="302.05" y="603.59" width="2.4" height="1.2" fill="#ee9a18" opacity="0.8"/>
<rect x="302.35" y="603.12" width="2.4" height="1.2" fill="#ee9a18" opacity="0.8"/>
<rect x="301.17" y="602.30" width="2.4" height="1.2" fill="#ee9a18" opacity="0.8"/>
<rect x="302.85" y="603.82" width="2.4" height="1.2" fill="#ee9a18" opacity="0.8"/>
<rect x="302.12" y="603.66" width="2.4" height="1.2" fill="#ee9a18" opacity="0.8"/>
<rect x="304.20" y="600.05" width="2.4" height="1.2" fill="#ee9a18" opacity="0.8"/>
<rect x="302.07" y="598.56" width="2.4" height="1.2" fill="#ee9a18" opacity="0.8"/>
<rect x="305.41" y="601.80" width="2.4" height="1.2" fill="#ee9a18" opacity="0.8"/>
<rect x="301.42" y="599.49" width="2.4" height="1.2" fill="#ee9a18" opacity="0.8"/>
<rect x="305.69" y="599.72" width="2.4" height="1.2" fill="#ee9a18" opacity="0.8"/>
<rect x="303.64" y="598.36" width="2.4" height="1.2" fill="#ee9a18" opacity="0.8"/>
<rect x="303.85" y="599.86" width="2.4" height="1.2" fill="#ee9a18" opacity="0.8"/>
<rect x="303.61" y="598.78" width="2.4" height="1.2" fill="#ee9a18" opacity="0.8"/>
<rect x="304.48" y="603.17" width="2.4" height="1.2" fill="#ee9a18" opacity="0.8"/>
<rect x="303.19" y="595.41" width="2.2" height="1.1" fill="#f5c270" opacity="0.9"/>
<rect x="301.78" y="595.07" width="2.2" height="1.1" fill="#f5c270" opacity="0.9"/>
<rect x="303.85" y="596.56" width="2.2" height="1.1" fill="#f5c270" opacity="0.9"/>
<rect x="303.77" y="594.44" width="2.2" height="1.1" fill="#f5c270" opacity="0.9"/>
<rect x="302.75" y="594.26" width="2.2" height="1.1" fill="#f5c270" opacity="0.9"/>
<rect x="303.53" y="593.22" width="2.2" height="1.1" fill="#f5c270" opacity="0.9"/>
<rect x="310.82" y="605.62" width="2.4" height="1.2" fill="#2e9c40" opacity="0.8"/>
<rect x="311.13" y="604.00" width="2.4" height="1.2" fill="#2e9c40" opacity="0.8"/>
<rect x="311.22" y="605.24" width="2.4" height="1.2" fill="#2e9c40" opacity="0.8"/>
<rect x="312.94" y="605.68" width="2.4" height="1.2" fill="#2e9c40" opacity="0.8"/>
<rect x="310.62" y="604.36" width="2.4" height="1.2" fill="#2e9c40" opacity="0.8"/>
<rect x="311.43" y="606.88" width="2.4" height="1.2" fill="#2e9c40" opacity="0.8"/>
<rect x="311.88" y="604.84" width="2.4" height="1.2" fill="#2e9c40" opacity="0.8"/>
<rect x="310.45" y="606.87" width="2.4" height="1.2" fill="#2e9c40" opacity="0.8"/>
<rect x="309.32" y="606.50" width="2.4" height="1.2" fill="#2e9c40" opacity="0.8"/>
<rect x="310.71" y="606.87" width="2.4" height="1.2" fill="#2e9c40" opacity="0.8"/>
<rect x="312.25" y="604.60" width="2.4" height="1.2" fill="#2e9c40" opacity="0.8"/>
<rect x="312.91" y="605.85" width="2.4" height="1.2" fill="#2e9c40" opacity="0.8"/>
<rect x="311.95" y="606.39" width="2.4" height="1.2" fill="#2e9c40" opacity="0.8"/>
<rect x="313.31" y="605.43" width="2.4" height="1.2" fill="#2e9c40" opacity="0.8"/>
<rect x="311.97" y="604.09" width="2.4" height="1.2" fill="#2e9c40" opacity="0.8"/>
<rect x="309.57" y="606.03" width="2.4" height="1.2" fill="#2e9c40" opacity="0.8"/>
<rect x="318.20" y="596.68" width="2.4" height="1.2" fill="#3a76b5" opacity="0.8"/>
<rect x="320.45" y="593.57" width="2.4" height="1.2" fill="#3a76b5" opacity="0.8"/>
<rect x="317.41" y="589.65" width="2.4" height="1.2" fill="#3a76b5" opacity="0.8"/>
<rect x="316.13" y="594.80" width="2.4" height="1.2" fill="#3a76b5" opacity="0.8"/>
<rect x="320.01" y="593.78" width="2.4" height="1.2" fill="#3a76b5" opacity="0.8"/>
<rect x="316.96" y="593.04" width="2.4" height="1.2" fill="#3a76b5" opacity="0.8"/>
<rect x="320.03" y="596.60" width="2.4" height="1.2" fill="#3a76b5" opacity="0.8"/>
<rect x="318.64" y="596.26" width="2.4" height="1.2" fill="#3a76b5" opacity="0.8"/>
<rect x="319.54" y="597.82" width="2.4" height="1.2" fill="#3a76b5" opacity="0.8"/>
<rect x="317.84" y="589.15" width="2.4" height="1.2" fill="#3a76b5" opacity="0.8"/>
<rect x="316.62" y="588.55" width="2.4" height="1.2" fill="#3a76b5" opacity="0.8"/>
<rect x="320.35" y="591.38" width="2.4" height="1.2" fill="#3a76b5" opacity="0.8"/>
<rect x="316.75" y="596.99" width="2.4" height="1.2" fill="#3a76b5" opacity="0.8"/>
<rect x="317.92" y="589.49" width="2.4" height="1.2" fill="#3a76b5" opacity="0.8"/>
<rect x="318.91" y="597.17" width="2.4" height="1.2" fill="#3a76b5" opacity="0.8"/>
<rect x="316.76" y="597.77" width="2.4" height="1.2" fill="#3a76b5" opacity="0.8"/>
<rect x="317.48" y="598.76" width="2.4" height="1.2" fill="#3a76b5" opacity="0.8"/>
<rect x="320.44" y="594.64" width="2.4" height="1.2" fill="#3a76b5" opacity="0.8"/>
<rect x="316.90" y="595.77" width="2.4" height="1.2" fill="#3a76b5" opacity="0.8"/>
<rect x="318.05" y="595.09" width="2.4" height="1.2" fill="#3a76b5" opacity="0.8"/>
<rect x="317.90" y="587.58" width="2.4" height="1.2" fill="#3a76b5" opacity="0.8"/>
<rect x="319.08" y="591.03" width="2.4" height="1.2" fill="#3a76b5" opacity="0.8"/>
<rect x="318.93" y="590.60" width="2.4" height="1.2" fill="#3a76b5" opacity="0.8"/>
<rect x="316.77" y="595.39" width="2.4" height="1.2" fill="#3a76b5" opacity="0.8"/>
<rect x="319.20" y="588.87" width="2.4" height="1.2" fill="#3a76b5" opacity="0.8"/>
<rect x="316.34" y="592.76" width="2.4" height="1.2" fill="#3a76b5" opacity="0.8"/>
<rect x="320.16" y="588.73" width="2.4" height="1.2" fill="#3a76b5" opacity="0.8"/>
<rect x="317.63" y="594.42" width="2.4" height="1.2" fill="#3a76b5" opacity="0.8"/>
<rect x="320.65" y="589.66" width="2.4" height="1.2" fill="#3a76b5" opacity="0.8"/>
<rect x="319.63" y="595.35" width="2.4" height="1.2" fill="#3a76b5" opacity="0.8"/>
<rect x="317.39" y="591.54" width="2.4" height="1.2" fill="#3a76b5" opacity="0.8"/>
<rect x="316.47" y="592.10" width="2.4" height="1.2" fill="#3a76b5" opacity="0.8"/>
<rect x="318.00" y="594.66" width="2.4" height="1.2" fill="#3a76b5" opacity="0.8"/>
<rect x="318.01" y="596.83" width="2.4" height="1.2" fill="#3a76b5" opacity="0.8"/>
<rect x="318.45" y="592.65" width="2.4" height="1.2" fill="#3a76b5" opacity="0.8"/>
<rect x="317.87" y="598.23" width="2.4" height="1.2" fill="#3a76b5" opacity="0.8"/>
<rect x="317.06" y="595.49" width="2.4" height="1.2" fill="#3a76b5" opacity="0.8"/>
<rect x="317.22" y="594.06" width="2.4" height="1.2" fill="#3a76b5" opacity="0.8"/>
<rect x="317.54" y="597.44" width="2.4" height="1.2" fill="#3a76b5" opacity="0.8"/>
<rect x="319.15" y="597.23" width="2.4" height="1.2" fill="#3a76b5" opacity="0.8"/>
<rect x="319.90" y="581.45" width="2.2" height="1.1" fill="#8fb3d8" opacity="0.9"/>
<rect x="319.29" y="580.71" width="2.2" height="1.1" fill="#8fb3d8" opacity="0.9"/>
<rect x="318.34" y="583.06" width="2.2" height="1.1" fill="#8fb3d8" opacity="0.9"/>
<rect x="318.25" y="577.16" width="2.2" height="1.1" fill="#8fb3d8" opacity="0.9"/>
<rect x="318.32" y="579.54" width="2.2" height="1.1" fill="#8fb3d8" opacity="0.9"/>
<rect x="317.85" y="586.95" width="2.2" height="1.1" fill="#8fb3d8" opacity="0.9"/>
<rect x="319.06" y="584.09" width="2.2" height="1.1" fill="#8fb3d8" opacity="0.9"/>
<rect x="318.23" y="579.14" width="2.2" height="1.1" fill="#8fb3d8" opacity="0.9"/>
<rect x="327.70" y="585.46" width="2.4" height="1.2" fill="#532673" opacity="0.8"/>
<rect x="325.69" y="586.41" width="2.4" height="1.2" fill="#532673" opacity="0.8"/>
<rect x="327.78" y="587.13" width="2.4" height="1.2" fill="#532673" opacity="0.8"/>
<rect x="326.46" y="591.20" width="2.4" height="1.2" fill="#532673" opacity="0.8"/>
<rect x="323.85" y="588.77" width="2.4" height="1.2" fill="#532673" opacity="0.8"/>
<rect x="324.48" y="591.57" width="2.4" height="1.2" fill="#532673" opacity="0.8"/>
<rect x="325.41" y="587.31" width="2.4" height="1.2" fill="#532673" opacity="0.8"/>
<rect x="326.93" y="590.18" width="2.4" height="1.2" fill="#532673" opacity="0.8"/>
<rect x="328.19" y="587.15" width="2.4" height="1.2" fill="#532673" opacity="0.8"/>
<rect x="324.42" y="592.00" width="2.4" height="1.2" fill="#532673" opacity="0.8"/>
<rect x="325.91" y="589.46" width="2.4" height="1.2" fill="#532673" opacity="0.8"/>
<rect x="325.89" y="587.29" width="2.4" height="1.2" fill="#532673" opacity="0.8"/>
<rect x="326.97" y="586.93" width="2.4" height="1.2" fill="#532673" opacity="0.8"/>
<rect x="328.65" y="589.24" width="2.4" height="1.2" fill="#532673" opacity="0.8"/>
<rect x="327.69" y="592.21" width="2.4" height="1.2" fill="#532673" opacity="0.8"/>
<rect x="327.88" y="587.56" width="2.4" height="1.2" fill="#532673" opacity="0.8"/>
<rect x="327.15" y="589.60" width="2.4" height="1.2" fill="#532673" opacity="0.8"/>
<rect x="324.74" y="592.38" width="2.4" height="1.2" fill="#532673" opacity="0.8"/>
<rect x="325.53" y="588.10" width="2.4" height="1.2" fill="#532673" opacity="0.8"/>
<rect x="324.58" y="589.65" width="2.4" height="1.2" fill="#532673" opacity="0.8"/>
<rect x="325.16" y="592.32" width="2.4" height="1.2" fill="#532673" opacity="0.8"/>
<rect x="324.15" y="587.36" width="2.4" height="1.2" fill="#532673" opacity="0.8"/>
<rect x="327.40" y="587.56" width="2.4" height="1.2" fill="#532673" opacity="0.8"/>
<rect x="324.84" y="585.07" width="2.4" height="1.2" fill="#532673" opacity="0.8"/>
<rect x="326.74" y="589.59" width="2.4" height="1.2" fill="#532673" opacity="0.8"/>
<rect x="324.87" y="590.34" width="2.4" height="1.2" fill="#532673" opacity="0.8"/>
<rect x="327.12" y="590.89" width="2.4" height="1.2" fill="#532673" opacity="0.8"/>
<rect x="324.29" y="590.61" width="2.4" height="1.2" fill="#532673" opacity="0.8"/>
<rect x="323.37" y="588.15" width="2.4" height="1.2" fill="#532673" opacity="0.8"/>
<rect x="327.93" y="591.28" width="2.4" height="1.2" fill="#532673" opacity="0.8"/>
<rect x="324.23" y="591.57" width="2.4" height="1.2" fill="#532673" opacity="0.8"/>
<rect x="326.27" y="587.21" width="2.4" height="1.2" fill="#532673" opacity="0.8"/>
<rect x="326.25" y="579.45" width="2.2" height="1.1" fill="#9b7bb3"/>
<rect x="325.40" y="582.45" width="2.2" height="1.1" fill="#9b7bb3"/>
<text x="222.20" y="629.80" font-size="6.5" text-anchor="end" transform="rotate(-90 222.20 629.80)">CD4N</text>
<text x="229.87" y="629.80" font-size="6.5" text-anchor="end" transform="rotate(-90 229.87 629.80)">CD4M</text>
<text x="237.54" y="629.80" font-size="6.5" text-anchor="end" transform="rotate(-90 237.54 629.80)">CD8N</text>
<text x="245.21" y="629.80" font-size="6.5" text-anchor="end" transform="rotate(-90 245.21 629.80)">CD8M</text>
<text x="252.88" y="629.80" font-size="6.5" text-anchor="end" transform="rotate(-90 252.88 629.80)">Treg</text>
<text x="260.55" y="629.80" font-size="6.5" text-anchor="end" transform="rotate(-90 260.55 629.80)">CD4N</text>
<text x="268.22" y="629.80" font-size="6.5" text-anchor="end" transform="rotate(-90 268.22 629.80)">CD4M</text>
<text x="275.89" y="629.80" font-size="6.5" text-anchor="end" transform="rotate(-90 275.89 629.80)">CD8N</text>
<text x="283.56" y="629.80" font-size="6.5" text-anchor="end" transform="rotate(-90 283.56 629.80)">CD8M</text>
<text x="291.23" y="629.80" font-size="6.5" text-anchor="end" transform="rotate(-90 291.23 629.80)">Treg</text>
<text x="298.90" y="629.80" font-size="6.5" text-anchor="end" transform="rotate(-90 298.90 629.80)">CD4N</text>
<text x="306.57" y="629.80" font-size="6.5" text-anchor="end" transform="rotate(-90 306.57 629.80)">CD4M</text>
<text x="314.24" y="629.80" font-size="6.5" text-anchor="end" transform="rotate(-90 314.24 629.80)">CD8N</text>
<text x="321.91" y="629.80" font-size="6.5" text-anchor="end" transform="rotate(-90 321.91 629.80)">CD8M</text>
<text x="329.58" y="629.80" font-size="6.5" text-anchor="end" transform="rotate(-90 329.58 629.80)">Treg</text>
<text x="234.60" y="544.20" font-size="6.5" text-anchor="middle" textLength="19.4" lengthAdjust="spacingAndGlyphs">Pre GT</text>
<text x="273.50" y="544.20" font-size="6.5" text-anchor="middle" textLength="35.5" lengthAdjust="spacingAndGlyphs">Post GT (1Y)</text>
<text x="311.80" y="544.20" font-size="6.5" text-anchor="middle" textLength="9" lengthAdjust="spacingAndGlyphs">HC</text>
<text x="278.50" y="530.30" font-size="8.4" text-anchor="middle" textLength="33.4" lengthAdjust="spacingAndGlyphs">Patient 2</text>
<text x="187.50" y="587.00" font-size="7.4" text-anchor="middle" transform="rotate(-90 187.50 587.00)" textLength="37.8" lengthAdjust="spacingAndGlyphs">% Repertoire</text>
<line x1="387.50" y1="549.30" x2="387.50" y2="626.80" stroke="#222" stroke-width="1.2"/>
<line x1="384.10" y1="626.30" x2="387.50" y2="626.30" stroke="#222" stroke-width="1.0"/>
<text x="381.90" y="628.50" font-size="6.2" text-anchor="end">0.001</text>
<line x1="385.70" y1="621.75" x2="387.50" y2="621.75" stroke="#222" stroke-width="0.6"/>
<line x1="385.70" y1="619.10" x2="387.50" y2="619.10" stroke="#222" stroke-width="0.6"/>
<line x1="385.70" y1="617.21" x2="387.50" y2="617.21" stroke="#222" stroke-width="0.6"/>
<line x1="385.70" y1="615.75" x2="387.50" y2="615.75" stroke="#222" stroke-width="0.6"/>
<line x1="385.70" y1="614.55" x2="387.50" y2="614.55" stroke="#222" stroke-width="0.6"/>
<line x1="385.70" y1="613.54" x2="387.50" y2="613.54" stroke="#222" stroke-width="0.6"/>
<line x1="385.70" y1="612.66" x2="387.50" y2="612.66" stroke="#222" stroke-width="0.6"/>
<line x1="385.70" y1="611.89" x2="387.50" y2="611.89" stroke="#222" stroke-width="0.6"/>
<line x1="384.10" y1="611.20" x2="387.50" y2="611.20" stroke="#222" stroke-width="1.0"/>
<text x="381.90" y="613.40" font-size="6.2" text-anchor="end">0.01</text>
<line x1="385.70" y1="606.65" x2="387.50" y2="606.65" stroke="#222" stroke-width="0.6"/>
<line x1="385.70" y1="604.00" x2="387.50" y2="604.00" stroke="#222" stroke-width="0.6"/>
<line x1="385.70" y1="602.11" x2="387.50" y2="602.11" stroke="#222" stroke-width="0.6"/>
<line x1="385.70" y1="600.65" x2="387.50" y2="600.65" stroke="#222" stroke-width="0.6"/>
<line x1="385.70" y1="599.45" x2="387.50" y2="599.45" stroke="#222" stroke-width="0.6"/>
<line x1="385.70" y1="598.44" x2="387.50" y2="598.44" stroke="#222" stroke-width="0.6"/>
<line x1="385.70" y1="597.56" x2="387.50" y2="597.56" stroke="#222" stroke-width="0.6"/>
<line x1="385.70" y1="596.79" x2="387.50" y2="596.79" stroke="#222" stroke-width="0.6"/>
<line x1="384.10" y1="596.10" x2="387.50" y2="596.10" stroke="#222" stroke-width="1.0"/>
<text x="381.90" y="598.30" font-size="6.2" text-anchor="end">0.1</text>
<line x1="385.70" y1="591.55" x2="387.50" y2="591.55" stroke="#222" stroke-width="0.6"/>
<line x1="385.70" y1="588.90" x2="387.50" y2="588.90" stroke="#222" stroke-width="0.6"/>
<line x1="385.70" y1="587.01" x2="387.50" y2="587.01" stroke="#222" stroke-width="0.6"/>
<line x1="385.70" y1="585.55" x2="387.50" y2="585.55" stroke="#222" stroke-width="0.6"/>
<line x1="385.70" y1="584.35" x2="387.50" y2="584.35" stroke="#222" stroke-width="0.6"/>
<line x1="385.70" y1="583.34" x2="387.50" y2="583.34" stroke="#222" stroke-width="0.6"/>
<line x1="385.70" y1="582.46" x2="387.50" y2="582.46" stroke="#222" stroke-width="0.6"/>
<line x1="385.70" y1="581.69" x2="387.50" y2="581.69" stroke="#222" stroke-width="0.6"/>
<line x1="384.10" y1="581.00" x2="387.50" y2="581.00" stroke="#222" stroke-width="1.0"/>
<text x="381.90" y="583.20" font-size="6.2" text-anchor="end">1</text>
<line x1="385.70" y1="576.45" x2="387.50" y2="576.45" stroke="#222" stroke-width="0.6"/>
<line x1="385.70" y1="573.80" x2="387.50" y2="573.80" stroke="#222" stroke-width="0.6"/>
<line x1="385.70" y1="571.91" x2="387.50" y2="571.91" stroke="#222" stroke-width="0.6"/>
<line x1="385.70" y1="570.45" x2="387.50" y2="570.45" stroke="#222" stroke-width="0.6"/>
<line x1="385.70" y1="569.25" x2="387.50" y2="569.25" stroke="#222" stroke-width="0.6"/>
<line x1="385.70" y1="568.24" x2="387.50" y2="568.24" stroke="#222" stroke-width="0.6"/>
<line x1="385.70" y1="567.36" x2="387.50" y2="567.36" stroke="#222" stroke-width="0.6"/>
<line x1="385.70" y1="566.59" x2="387.50" y2="566.59" stroke="#222" stroke-width="0.6"/>
<line x1="384.10" y1="565.90" x2="387.50" y2="565.90" stroke="#222" stroke-width="1.0"/>
<text x="381.90" y="568.10" font-size="6.2" text-anchor="end">10</text>
<line x1="385.70" y1="561.35" x2="387.50" y2="561.35" stroke="#222" stroke-width="0.6"/>
<line x1="385.70" y1="558.70" x2="387.50" y2="558.70" stroke="#222" stroke-width="0.6"/>
<line x1="385.70" y1="556.81" x2="387.50" y2="556.81" stroke="#222" stroke-width="0.6"/>
<line x1="385.70" y1="555.35" x2="387.50" y2="555.35" stroke="#222" stroke-width="0.6"/>
<line x1="385.70" y1="554.15" x2="387.50" y2="554.15" stroke="#222" stroke-width="0.6"/>
<line x1="385.70" y1="553.14" x2="387.50" y2="553.14" stroke="#222" stroke-width="0.6"/>
<line x1="385.70" y1="552.26" x2="387.50" y2="552.26" stroke="#222" stroke-width="0.6"/>
<line x1="385.70" y1="551.49" x2="387.50" y2="551.49" stroke="#222" stroke-width="0.6"/>
<line x1="384.10" y1="550.80" x2="387.50" y2="550.80" stroke="#222" stroke-width="1.0"/>
<text x="381.90" y="553.00" font-size="6.2" text-anchor="end">100</text>
<line x1="387.00" y1="626.30" x2="513.80" y2="626.30" stroke="#222" stroke-width="1.2"/>
<line x1="426.80" y1="548.30" x2="426.80" y2="626.30" stroke="#222233" stroke-width="1.25" stroke-dasharray="1.2,1.45"/>
<line x1="465.60" y1="548.30" x2="465.60" y2="626.30" stroke="#222233" stroke-width="1.25" stroke-dasharray="1.2,1.45"/>
<rect x="389.81" y="611.56" width="2.4" height="1.2" fill="#b01040" opacity="0.8"/>
<rect x="388.80" y="610.43" width="2.4" height="1.2" fill="#b01040" opacity="0.8"/>
<rect x="388.84" y="610.67" width="2.4" height="1.2" fill="#b01040" opacity="0.8"/>
<rect x="390.64" y="608.75" width="2.4" height="1.2" fill="#b01040" opacity="0.8"/>
<rect x="391.81" y="609.58" width="2.4" height="1.2" fill="#b01040" opacity="0.8"/>
<rect x="390.24" y="609.39" width="2.4" height="1.2" fill="#b01040" opacity="0.8"/>
<rect x="389.75" y="608.62" width="2.4" height="1.2" fill="#b01040" opacity="0.8"/>
<rect x="390.88" y="610.21" width="2.4" height="1.2" fill="#b01040" opacity="0.8"/>
<rect x="392.28" y="610.24" width="2.4" height="1.2" fill="#b01040" opacity="0.8"/>
<rect x="391.77" y="608.82" width="2.4" height="1.2" fill="#b01040" opacity="0.8"/>
<rect x="392.32" y="609.02" width="2.4" height="1.2" fill="#b01040" opacity="0.8"/>
<rect x="390.15" y="610.50" width="2.4" height="1.2" fill="#b01040" opacity="0.8"/>
<rect x="392.30" y="610.85" width="2.4" height="1.2" fill="#b01040" opacity="0.8"/>
<rect x="390.35" y="612.26" width="2.4" height="1.2" fill="#b01040" opacity="0.8"/>
<rect x="389.66" y="608.44" width="2.4" height="1.2" fill="#b01040" opacity="0.8"/>
<rect x="391.49" y="611.67" width="2.4" height="1.2" fill="#b01040" opacity="0.8"/>
<rect x="389.11" y="611.25" width="2.4" height="1.2" fill="#b01040" opacity="0.8"/>
<rect x="388.34" y="610.52" width="2.4" height="1.2" fill="#b01040" opacity="0.8"/>
<rect x="397.49" y="602.51" width="2.4" height="1.2" fill="#ee9a18" opacity="0.8"/>
<rect x="398.75" y="607.21" width="2.4" height="1.2" fill="#ee9a18" opacity="0.8"/>
<rect x="396.35" y="606.56" width="2.4" height="1.2" fill="#ee9a18" opacity="0.8"/>
<rect x="395.95" y="604.19" width="2.4" height="1.2" fill="#ee9a18" opacity="0.8"/>
<rect x="396.36" y="603.33" width="2.4" height="1.2" fill="#ee9a18" opacity="0.8"/>
<rect x="397.63" y="606.95" width="2.4" height="1.2" fill="#ee9a18" opacity="0.8"/>
<rect x="399.13" y="604.59" width="2.4" height="1.2" fill="#ee9a18" opacity="0.8"/>
<rect x="400.04" y="606.78" width="2.4" height="1.2" fill="#ee9a18" opacity="0.8"/>
<rect x="398.28" y="605.02" width="2.4" height="1.2" fill="#ee9a18" opacity="0.8"/>
<rect x="397.87" y="606.87" width="2.4" height="1.2" fill="#ee9a18" opacity="0.8"/>
<rect x="399.49" y="603.55" width="2.4" height="1.2" fill="#ee9a18" opacity="0.8"/>
<rect x="397.62" y="603.32" width="2.4" height="1.2" fill="#ee9a18" opacity="0.8"/>
<rect x="398.14" y="604.26" width="2.4" height="1.2" fill="#ee9a18" opacity="0.8"/>
<rect x="397.90" y="603.87" width="2.4" height="1.2" fill="#ee9a18" opacity="0.8"/>
<rect x="395.76" y="604.38" width="2.4" height="1.2" fill="#ee9a18" opacity="0.8"/>
<rect x="396.37" y="606.50" width="2.4" height="1.2" fill="#ee9a18" opacity="0.8"/>
<rect x="398.54" y="604.80" width="2.4" height="1.2" fill="#ee9a18" opacity="0.8"/>
<rect x="396.75" y="604.10" width="2.4" height="1.2" fill="#ee9a18" opacity="0.8"/>
<rect x="397.78" y="602.45" width="2.4" height="1.2" fill="#ee9a18" opacity="0.8"/>
<rect x="398.19" y="603.63" width="2.4" height="1.2" fill="#ee9a18" opacity="0.8"/>
<rect x="399.45" y="603.17" width="2.4" height="1.2" fill="#ee9a18" opacity="0.8"/>
<rect x="395.52" y="604.58" width="2.4" height="1.2" fill="#ee9a18" opacity="0.8"/>
<rect x="400.83" y="604.14" width="2.4" height="1.2" fill="#ee9a18" opacity="0.8"/>
<rect x="398.56" y="601.94" width="2.4" height="1.2" fill="#ee9a18" opacity="0.8"/>
<rect x="397.89" y="600.47" width="2.2" height="1.1" fill="#f5c270" opacity="0.9"/>
<rect x="397.90" y="591.40" width="2.2" height="1.1" fill="#f5c270" opacity="0.9"/>
<rect x="398.76" y="583.98" width="2.2" height="1.1" fill="#f5c270" opacity="0.9"/>
<rect x="397.70" y="591.19" width="2.2" height="1.1" fill="#f5c270" opacity="0.9"/>
<rect x="398.43" y="588.89" width="2.2" height="1.1" fill="#f5c270" opacity="0.9"/>
<rect x="396.76" y="595.29" width="2.2" height="1.1" fill="#f5c270" opacity="0.9"/>
<rect x="397.48" y="578.77" width="2.2" height="1.1" fill="#f5c270" opacity="0.9"/>
<rect x="399.43" y="583.20" width="2.2" height="1.1" fill="#f5c270" opacity="0.9"/>
<rect x="399.67" y="587.09" width="2.2" height="1.1" fill="#f5c270" opacity="0.9"/>
<rect x="397.60" y="586.51" width="2.2" height="1.1" fill="#f5c270" opacity="0.9"/>
<rect x="403.94" y="608.12" width="2.4" height="1.2" fill="#2e9c40" opacity="0.8"/>
<rect x="406.93" y="609.34" width="2.4" height="1.2" fill="#2e9c40" opacity="0.8"/>
<rect x="405.05" y="606.71" width="2.4" height="1.2" fill="#2e9c40" opacity="0.8"/>
<rect x="407.13" y="608.68" width="2.4" height="1.2" fill="#2e9c40" opacity="0.8"/>
<rect x="403.74" y="607.97" width="2.4" height="1.2" fill="#2e9c40" opacity="0.8"/>
<rect x="403.93" y="608.45" width="2.4" height="1.2" fill="#2e9c40" opacity="0.8"/>
<rect x="406.20" y="607.90" width="2.4" height="1.2" fill="#2e9c40" opacity="0.8"/>
<rect x="406.41" y="609.11" width="2.4" height="1.2" fill="#2e9c40" opacity="0.8"/>
<rect x="407.25" y="605.49" width="2.4" height="1.2" fill="#2e9c40" opacity="0.8"/>
<rect x="406.30" y="608.41" width="2.4" height="1.2" fill="#2e9c40" opacity="0.8"/>
<rect x="406.63" y="605.42" width="2.4" height="1.2" fill="#2e9c40" opacity="0.8"/>
<rect x="406.86" y="607.07" width="2.4" height="1.2" fill="#2e9c40" opacity="0.8"/>
<rect x="407.18" y="609.33" width="2.4" height="1.2" fill="#2e9c40" opacity="0.8"/>
<rect x="406.90" y="605.70" width="2.4" height="1.2" fill="#2e9c40" opacity="0.8"/>
<rect x="407.24" y="607.16" width="2.4" height="1.2" fill="#2e9c40" opacity="0.8"/>
<rect x="405.68" y="606.91" width="2.4" height="1.2" fill="#2e9c40" opacity="0.8"/>
<rect x="403.97" y="607.15" width="2.4" height="1.2" fill="#2e9c40" opacity="0.8"/>
<rect x="407.07" y="606.68" width="2.4" height="1.2" fill="#2e9c40" opacity="0.8"/>
<rect x="404.81" y="585.02" width="2.2" height="1.1" fill="#86c98e" opacity="0.9"/>
<rect x="406.57" y="601.80" width="2.2" height="1.1" fill="#86c98e" opacity="0.9"/>
<rect x="404.80" y="595.51" width="2.2" height="1.1" fill="#86c98e" opacity="0.9"/>
<rect x="405.43" y="586.05" width="2.2" height="1.1" fill="#86c98e" opacity="0.9"/>
<rect x="406.23" y="604.43" width="2.2" height="1.1" fill="#86c98e" opacity="0.9"/>
<rect x="405.12" y="603.74" width="2.2" height="1.1" fill="#86c98e" opacity="0.9"/>
<rect x="406.16" y="592.58" width="2.2" height="1.1" fill="#86c98e" opacity="0.9"/>
<rect x="404.83" y="601.91" width="2.2" height="1.1" fill="#86c98e" opacity="0.9"/>
<rect x="413.50" y="605.07" width="2.4" height="1.2" fill="#3a76b5" opacity="0.8"/>
<rect x="413.38" y="592.85" width="2.4" height="1.2" fill="#3a76b5" opacity="0.8"/>
<rect x="414.55" y="597.87" width="2.4" height="1.2" fill="#3a76b5" opacity="0.8"/>
<rect x="413.59" y="605.86" width="2.4" height="1.2" fill="#3a76b5" opacity="0.8"/>
<rect x="413.03" y="602.40" width="2.4" height="1.2" fill="#3a76b5" opacity="0.8"/>
<rect x="411.76" y="603.69" width="2.4" height="1.2" fill="#3a76b5" opacity="0.8"/>
<rect x="411.97" y="603.16" width="2.4" height="1.2" fill="#3a76b5" opacity="0.8"/>
<rect x="411.97" y="600.89" width="2.4" height="1.2" fill="#3a76b5" opacity="0.8"/>
<rect x="411.82" y="597.42" width="2.4" height="1.2" fill="#3a76b5" opacity="0.8"/>
<rect x="414.10" y="597.47" width="2.4" height="1.2" fill="#3a76b5" opacity="0.8"/>
<rect x="412.99" y="599.94" width="2.4" height="1.2" fill="#3a76b5" opacity="0.8"/>
<rect x="415.50" y="600.73" width="2.4" height="1.2" fill="#3a76b5" opacity="0.8"/>
<rect x="414.06" y="597.59" width="2.4" height="1.2" fill="#3a76b5" opacity="0.8"/>
<rect x="416.30" y="599.37" width="2.4" height="1.2" fill="#3a76b5" opacity="0.8"/>
<rect x="414.64" y="597.16" width="2.4" height="1.2" fill="#3a76b5" opacity="0.8"/>
<rect x="412.47" y="595.79" width="2.4" height="1.2" fill="#3a76b5" opacity="0.8"/>
<rect x="413.98" y="602.99" width="2.4" height="1.2" fill="#3a76b5" opacity="0.8"/>
<rect x="411.47" y="596.13" width="2.4" height="1.2" fill="#3a76b5" opacity="0.8"/>
<rect x="413.07" y="604.36" width="2.4" height="1.2" fill="#3a76b5" opacity="0.8"/>
<rect x="413.27" y="602.79" width="2.4" height="1.2" fill="#3a76b5" opacity="0.8"/>
<rect x="413.93" y="601.36" width="2.4" height="1.2" fill="#3a76b5" opacity="0.8"/>
<rect x="414.95" y="606.55" width="2.4" height="1.2" fill="#3a76b5" opacity="0.8"/>
<rect x="413.54" y="599.01" width="2.4" height="1.2" fill="#3a76b5" opacity="0.8"/>
<rect x="414.81" y="595.75" width="2.4" height="1.2" fill="#3a76b5" opacity="0.8"/>
<rect x="412.86" y="593.88" width="2.4" height="1.2" fill="#3a76b5" opacity="0.8"/>
<rect x="411.64" y="604.69" width="2.4" height="1.2" fill="#3a76b5" opacity="0.8"/>
<rect x="413.96" y="602.53" width="2.4" height="1.2" fill="#3a76b5" opacity="0.8"/>
<rect x="412.68" y="600.40" width="2.4" height="1.2" fill="#3a76b5" opacity="0.8"/>
<rect x="415.52" y="594.60" width="2.4" height="1.2" fill="#3a76b5" opacity="0.8"/>
<rect x="415.07" y="603.49" width="2.4" height="1.2" fill="#3a76b5" opacity="0.8"/>
<rect x="414.70" y="593.82" width="2.4" height="1.2" fill="#3a76b5" opacity="0.8"/>
<rect x="412.20" y="595.57" width="2.4" height="1.2" fill="#3a76b5" opacity="0.8"/>
<rect x="414.22" y="600.16" width="2.4" height="1.2" fill="#3a76b5" opacity="0.8"/>
<rect x="414.67" y="594.15" width="2.4" height="1.2" fill="#3a76b5" opacity="0.8"/>
<rect x="415.81" y="600.85" width="2.4" height="1.2" fill="#3a76b5" opacity="0.8"/>
<rect x="414.31" y="605.80" width="2.4" height="1.2" fill="#3a76b5" opacity="0.8"/>
<rect x="416.03" y="597.68" width="2.4" height="1.2" fill="#3a76b5" opacity="0.8"/>
<rect x="412.56" y="602.82" width="2.4" height="1.2" fill="#3a76b5" opacity="0.8"/>
<rect x="414.56" y="604.84" width="2.4" height="1.2" fill="#3a76b5" opacity="0.8"/>
<rect x="412.37" y="596.24" width="2.4" height="1.2" fill="#3a76b5" opacity="0.8"/>
<rect x="413.73" y="592.69" width="2.4" height="1.2" fill="#3a76b5" opacity="0.8"/>
<rect x="412.60" y="596.08" width="2.4" height="1.2" fill="#3a76b5" opacity="0.8"/>
<rect x="411.81" y="596.07" width="2.4" height="1.2" fill="#3a76b5" opacity="0.8"/>
<rect x="412.34" y="599.43" width="2.4" height="1.2" fill="#3a76b5" opacity="0.8"/>
<rect x="412.49" y="596.53" width="2.4" height="1.2" fill="#3a76b5" opacity="0.8"/>
<rect x="415.06" y="576.25" width="2.2" height="1.1" fill="#8fb3d8" opacity="0.9"/>
<rect x="415.00" y="564.73" width="2.2" height="1.1" fill="#8fb3d8" opacity="0.9"/>
<rect x="414.10" y="587.66" width="2.2" height="1.1" fill="#8fb3d8" opacity="0.9"/>
<rect x="414.55" y="577.40" width="2.2" height="1.1" fill="#8fb3d8" opacity="0.9"/>
<rect x="414.29" y="577.09" width="2.2" height="1.1" fill="#8fb3d8" opacity="0.9"/>
<rect x="414.70" y="589.79" width="2.2" height="1.1" fill="#8fb3d8" opacity="0.9"/>
<rect x="412.11" y="568.03" width="2.2" height="1.1" fill="#8fb3d8" opacity="0.9"/>
<rect x="413.22" y="590.36" width="2.2" height="1.1" fill="#8fb3d8" opacity="0.9"/>
<rect x="412.75" y="585.43" width="2.2" height="1.1" fill="#8fb3d8" opacity="0.9"/>
<rect x="413.24" y="574.39" width="2.2" height="1.1" fill="#8fb3d8" opacity="0.9"/>
<rect x="415.31" y="583.51" width="2.2" height="1.1" fill="#8fb3d8" opacity="0.9"/>
<rect x="413.95" y="576.14" width="2.2" height="1.1" fill="#8fb3d8" opacity="0.9"/>
<rect x="412.75" y="570.96" width="2.2" height="1.1" fill="#8fb3d8" opacity="0.9"/>
<rect x="412.31" y="590.80" width="2.2" height="1.1" fill="#8fb3d8" opacity="0.9"/>
<rect x="414.28" y="590.49" width="2.2" height="1.1" fill="#8fb3d8" opacity="0.9"/>
<rect x="415.16" y="561.82" width="2.2" height="1.1" fill="#8fb3d8" opacity="0.9"/>
<rect x="421.52" y="598.28" width="2.4" height="1.2" fill="#532673" opacity="0.8"/>
<rect x="423.10" y="598.38" width="2.4" height="1.2" fill="#532673" opacity="0.8"/>
<rect x="423.06" y="599.46" width="2.4" height="1.2" fill="#532673" opacity="0.8"/>
<rect x="421.83" y="598.05" width="2.4" height="1.2" fill="#532673" opacity="0.8"/>
<rect x="419.70" y="598.09" width="2.4" height="1.2" fill="#532673" opacity="0.8"/>
<rect x="423.76" y="600.95" width="2.4" height="1.2" fill="#532673" opacity="0.8"/>
<rect x="422.99" y="601.61" width="2.4" height="1.2" fill="#532673" opacity="0.8"/>
<rect x="421.37" y="602.17" width="2.4" height="1.2" fill="#532673" opacity="0.8"/>
<rect x="421.37" y="598.14" width="2.4" height="1.2" fill="#532673" opacity="0.8"/>
<rect x="421.39" y="598.75" width="2.4" height="1.2" fill="#532673" opacity="0.8"/>
<rect x="421.28" y="599.72" width="2.4" height="1.2" fill="#532673" opacity="0.8"/>
<rect x="422.15" y="598.83" width="2.4" height="1.2" fill="#532673" opacity="0.8"/>
<rect x="421.21" y="600.08" width="2.4" height="1.2" fill="#532673" opacity="0.8"/>
<rect x="421.24" y="598.15" width="2.4" height="1.2" fill="#532673" opacity="0.8"/>
<rect x="423.72" y="600.88" width="2.4" height="1.2" fill="#532673" opacity="0.8"/>
<rect x="419.40" y="600.90" width="2.4" height="1.2" fill="#532673" opacity="0.8"/>
<rect x="420.50" y="599.41" width="2.4" height="1.2" fill="#532673" opacity="0.8"/>
<rect x="423.36" y="601.70" width="2.4" height="1.2" fill="#532673" opacity="0.8"/>
<rect x="422.65" y="603.26" width="2.4" height="1.2" fill="#532673" opacity="0.8"/>
<rect x="422.50" y="602.97" width="2.4" height="1.2" fill="#532673" opacity="0.8"/>
<rect x="419.68" y="603.03" width="2.4" height="1.2" fill="#532673" opacity="0.8"/>
<rect x="421.75" y="600.49" width="2.4" height="1.2" fill="#532673" opacity="0.8"/>
<rect x="421.57" y="594.85" width="2.2" height="1.1" fill="#9b7bb3"/>
<rect x="429.48" y="611.54" width="2.4" height="1.2" fill="#b01040" opacity="0.8"/>
<rect x="427.67" y="612.67" width="2.4" height="1.2" fill="#b01040" opacity="0.8"/>
<rect x="431.15" y="611.22" width="2.4" height="1.2" fill="#b01040" opacity="0.8"/>
<rect x="427.84" y="609.51" width="2.4" height="1.2" fill="#b01040" opacity="0.8"/>
<rect x="430.55" y="612.44" width="2.4" height="1.2" fill="#b01040" opacity="0.8"/>
<rect x="427.64" y="609.48" width="2.4" height="1.2" fill="#b01040" opacity="0.8"/>
<rect x="429.66" y="612.30" width="2.4" height="1.2" fill="#b01040" opacity="0.8"/>
<rect x="429.33" y="611.22" width="2.4" height="1.2" fill="#b01040" opacity="0.8"/>
<rect x="430.22" y="612.05" width="2.4" height="1.2" fill="#b01040" opacity="0.8"/>
<rect x="427.81" y="609.40" width="2.4" height="1.2" fill="#b01040" opacity="0.8"/>
<rect x="430.82" y="612.18" width="2.4" height="1.2" fill="#b01040" opacity="0.8"/>
<rect x="428.61" y="612.32" width="2.4" height="1.2" fill="#b01040" opacity="0.8"/>
<rect x="428.26" y="610.57" width="2.4" height="1.2" fill="#b01040" opacity="0.8"/>
<rect x="429.69" y="609.45" width="2.4" height="1.2" fill="#b01040" opacity="0.8"/>
<rect x="429.31" y="610.32" width="2.4" height="1.2" fill="#b01040" opacity="0.8"/>
<rect x="428.16" y="611.24" width="2.4" height="1.2" fill="#b01040" opacity="0.8"/>
<rect x="429.22" y="605.95" width="2.2" height="1.1" fill="#d8507a"/>
<rect x="435.14" y="599.62" width="2.4" height="1.2" fill="#ee9a18" opacity="0.8"/>
<rect x="435.32" y="604.15" width="2.4" height="1.2" fill="#ee9a18" opacity="0.8"/>
<rect x="435.58" y="596.39" width="2.4" height="1.2" fill="#ee9a18" opacity="0.8"/>
<rect x="438.21" y="599.88" width="2.4" height="1.2" fill="#ee9a18" opacity="0.8"/>
<rect x="435.24" y="598.33" width="2.4" height="1.2" fill="#ee9a18" opacity="0.8"/>
<rect x="435.35" y="601.74" width="2.4" height="1.2" fill="#ee9a18" opacity="0.8"/>
<rect x="435.25" y="600.34" width="2.4" height="1.2" fill="#ee9a18" opacity="0.8"/>
<rect x="435.35" y="604.10" width="2.4" height="1.2" fill="#ee9a18" opacity="0.8"/>
<rect x="435.68" y="597.26" width="2.4" height="1.2" fill="#ee9a18" opacity="0.8"/>
<rect x="437.81" y="598.29" width="2.4" height="1.2" fill="#ee9a18" opacity="0.8"/>
<rect x="438.14" y="601.95" width="2.4" height="1.2" fill="#ee9a18" opacity="0.8"/>
<rect x="434.27" y="600.52" width="2.4" height="1.2" fill="#ee9a18" opacity="0.8"/>
<rect x="435.40" y="602.89" width="2.4" height="1.2" fill="#ee9a18" opacity="0.8"/>
<rect x="436.22" y="597.11" width="2.4" height="1.2" fill="#ee9a18" opacity="0.8"/>
<rect x="436.21" y="605.29" width="2.4" height="1.2" fill="#ee9a18" opacity="0.8"/>
<rect x="438.82" y="598.58" width="2.4" height="1.2" fill="#ee9a18" opacity="0.8"/>
<rect x="436.26" y="605.30" width="2.4" height="1.2" fill="#ee9a18" opacity="0.8"/>
<rect x="437.81" y="596.24" width="2.4" height="1.2" fill="#ee9a18" opacity="0.8"/>
<rect x="435.86" y="603.09" width="2.4" height="1.2" fill="#ee9a18" opacity="0.8"/>
<rect x="436.06" y="603.18" width="2.4" height="1.2" fill="#ee9a18" opacity="0.8"/>
<rect x="437.09" y="597.84" width="2.4" height="1.2" fill="#ee9a18" opacity="0.8"/>
<rect x="436.50" y="602.66" width="2.4" height="1.2" fill="#ee9a18" opacity="0.8"/>
<rect x="434.46" y="603.47" width="2.4" height="1.2" fill="#ee9a18" opacity="0.8"/>
<rect x="435.95" y="600.09" width="2.4" height="1.2" fill="#ee9a18" opacity="0.8"/>
<rect x="438.11" y="595.49" width="2.4" height="1.2" fill="#ee9a18" opacity="0.8"/>
<rect x="435.39" y="596.32" width="2.4" height="1.2" fill="#ee9a18" opacity="0.8"/>
<rect x="438.47" y="604.11" width="2.4" height="1.2" fill="#ee9a18" opacity="0.8"/>
<rect x="436.05" y="604.67" width="2.4" height="1.2" fill="#ee9a18" opacity="0.8"/>
<rect x="435.32" y="604.67" width="2.4" height="1.2" fill="#ee9a18" opacity="0.8"/>
<rect x="438.87" y="602.37" width="2.4" height="1.2" fill="#ee9a18" opacity="0.8"/>
<rect x="434.98" y="596.84" width="2.4" height="1.2" fill="#ee9a18" opacity="0.8"/>
<rect x="438.61" y="601.99" width="2.4" height="1.2" fill="#ee9a18" opacity="0.8"/>
<rect x="438.86" y="602.50" width="2.4" height="1.2" fill="#ee9a18" opacity="0.8"/>
<rect x="435.91" y="599.61" width="2.4" height="1.2" fill="#ee9a18" opacity="0.8"/>
<rect x="435.71" y="596.07" width="2.4" height="1.2" fill="#ee9a18" opacity="0.8"/>
<rect x="437.42" y="590.45" width="2.2" height="1.1" fill="#f5c270"/>
<rect x="436.03" y="571.45" width="2.2" height="1.1" fill="#f5c270"/>
<rect x="443.66" y="602.42" width="2.4" height="1.2" fill="#2e9c40" opacity="0.8"/>
<rect x="443.67" y="601.67" width="2.4" height="1.2" fill="#2e9c40" opacity="0.8"/>
<rect x="442.73" y="602.41" width="2.4" height="1.2" fill="#2e9c40" opacity="0.8"/>
<rect x="444.50" y="604.30" width="2.4" height="1.2" fill="#2e9c40" opacity="0.8"/>
<rect x="445.64" y="604.52" width="2.4" height="1.2" fill="#2e9c40" opacity="0.8"/>
<rect x="446.61" y="604.30" width="2.4" height="1.2" fill="#2e9c40" opacity="0.8"/>
<rect x="443.33" y="601.85" width="2.4" height="1.2" fill="#2e9c40" opacity="0.8"/>
<rect x="443.64" y="601.82" width="2.4" height="1.2" fill="#2e9c40" opacity="0.8"/>
<rect x="446.18" y="605.58" width="2.4" height="1.2" fill="#2e9c40" opacity="0.8"/>
<rect x="442.52" y="604.17" width="2.4" height="1.2" fill="#2e9c40" opacity="0.8"/>
<rect x="444.62" y="603.22" width="2.4" height="1.2" fill="#2e9c40" opacity="0.8"/>
<rect x="445.67" y="603.02" width="2.4" height="1.2" fill="#2e9c40" opacity="0.8"/>
<rect x="444.17" y="606.75" width="2.4" height="1.2" fill="#2e9c40" opacity="0.8"/>
<rect x="446.05" y="604.72" width="2.4" height="1.2" fill="#2e9c40" opacity="0.8"/>
<rect x="442.69" y="603.96" width="2.4" height="1.2" fill="#2e9c40" opacity="0.8"/>
<rect x="445.85" y="606.59" width="2.4" height="1.2" fill="#2e9c40" opacity="0.8"/>
<rect x="445.09" y="601.53" width="2.4" height="1.2" fill="#2e9c40" opacity="0.8"/>
<rect x="442.01" y="603.60" width="2.4" height="1.2" fill="#2e9c40" opacity="0.8"/>
<rect x="442.98" y="602.30" width="2.4" height="1.2" fill="#2e9c40" opacity="0.8"/>
<rect x="442.97" y="605.45" width="2.4" height="1.2" fill="#2e9c40" opacity="0.8"/>
<rect x="443.91" y="595.45" width="2.2" height="1.1" fill="#86c98e"/>
<rect x="453.36" y="589.64" width="2.4" height="1.2" fill="#3a76b5" opacity="0.8"/>
<rect x="452.82" y="595.28" width="2.4" height="1.2" fill="#3a76b5" opacity="0.8"/>
<rect x="450.19" y="594.59" width="2.4" height="1.2" fill="#3a76b5" opacity="0.8"/>
<rect x="451.33" y="585.51" width="2.4" height="1.2" fill="#3a76b5" opacity="0.8"/>
<rect x="451.14" y="586.04" width="2.4" height="1.2" fill="#3a76b5" opacity="0.8"/>
<rect x="451.25" y="597.70" width="2.4" height="1.2" fill="#3a76b5" opacity="0.8"/>
<rect x="452.65" y="594.75" width="2.4" height="1.2" fill="#3a76b5" opacity="0.8"/>
<rect x="451.21" y="591.61" width="2.4" height="1.2" fill="#3a76b5" opacity="0.8"/>
<rect x="452.28" y="603.05" width="2.4" height="1.2" fill="#3a76b5" opacity="0.8"/>
<rect x="452.18" y="593.62" width="2.4" height="1.2" fill="#3a76b5" opacity="0.8"/>
<rect x="451.02" y="594.50" width="2.4" height="1.2" fill="#3a76b5" opacity="0.8"/>
<rect x="450.96" y="603.66" width="2.4" height="1.2" fill="#3a76b5" opacity="0.8"/>
<rect x="453.23" y="604.10" width="2.4" height="1.2" fill="#3a76b5" opacity="0.8"/>
<rect x="450.61" y="603.02" width="2.4" height="1.2" fill="#3a76b5" opacity="0.8"/>
<rect x="454.67" y="595.48" width="2.4" height="1.2" fill="#3a76b5" opacity="0.8"/>
<rect x="450.29" y="591.03" width="2.4" height="1.2" fill="#3a76b5" opacity="0.8"/>
<rect x="450.63" y="599.81" width="2.4" height="1.2" fill="#3a76b5" opacity="0.8"/>
<rect x="450.07" y="596.99" width="2.4" height="1.2" fill="#3a76b5" opacity="0.8"/>
<rect x="451.21" y="604.34" width="2.4" height="1.2" fill="#3a76b5" opacity="0.8"/>
<rect x="452.68" y="587.16" width="2.4" height="1.2" fill="#3a76b5" opacity="0.8"/>
<rect x="452.28" y="592.21" width="2.4" height="1.2" fill="#3a76b5" opacity="0.8"/>
<rect x="454.33" y="595.24" width="2.4" height="1.2" fill="#3a76b5" opacity="0.8"/>
<rect x="451.28" y="595.59" width="2.4" height="1.2" fill="#3a76b5" opacity="0.8"/>
<rect x="451.95" y="585.23" width="2.4" height="1.2" fill="#3a76b5" opacity="0.8"/>
<rect x="452.33" y="590.64" width="2.4" height="1.2" fill="#3a76b5" opacity="0.8"/>
<rect x="451.76" y="597.96" width="2.4" height="1.2" fill="#3a76b5" opacity="0.8"/>
<rect x="451.95" y="587.02" width="2.4" height="1.2" fill="#3a76b5" opacity="0.8"/>
<rect x="452.75" y="594.93" width="2.4" height="1.2" fill="#3a76b5" opacity="0.8"/>
<rect x="451.23" y="604.80" width="2.4" height="1.2" fill="#3a76b5" opacity="0.8"/>
<rect x="449.65" y="594.14" width="2.4" height="1.2" fill="#3a76b5" opacity="0.8"/>
<rect x="450.75" y="601.36" width="2.4" height="1.2" fill="#3a76b5" opacity="0.8"/>
<rect x="453.26" y="601.95" width="2.4" height="1.2" fill="#3a76b5" opacity="0.8"/>
<rect x="453.93" y="590.34" width="2.4" height="1.2" fill="#3a76b5" opacity="0.8"/>
<rect x="451.55" y="595.38" width="2.4" height="1.2" fill="#3a76b5" opacity="0.8"/>
<rect x="454.44" y="596.41" width="2.4" height="1.2" fill="#3a76b5" opacity="0.8"/>
<rect x="451.86" y="595.10" width="2.4" height="1.2" fill="#3a76b5" opacity="0.8"/>
<rect x="453.69" y="591.07" width="2.4" height="1.2" fill="#3a76b5" opacity="0.8"/>
<rect x="451.08" y="595.36" width="2.4" height="1.2" fill="#3a76b5" opacity="0.8"/>
<rect x="450.67" y="589.17" width="2.4" height="1.2" fill="#3a76b5" opacity="0.8"/>
<rect x="453.28" y="602.05" width="2.4" height="1.2" fill="#3a76b5" opacity="0.8"/>
<rect x="453.32" y="604.97" width="2.4" height="1.2" fill="#3a76b5" opacity="0.8"/>
<rect x="453.50" y="599.04" width="2.4" height="1.2" fill="#3a76b5" opacity="0.8"/>
<rect x="453.53" y="599.58" width="2.4" height="1.2" fill="#3a76b5" opacity="0.8"/>
<rect x="450.49" y="601.39" width="2.4" height="1.2" fill="#3a76b5" opacity="0.8"/>
<rect x="451.08" y="601.66" width="2.4" height="1.2" fill="#3a76b5" opacity="0.8"/>
<rect x="453.99" y="590.13" width="2.4" height="1.2" fill="#3a76b5" opacity="0.8"/>
<rect x="452.00" y="585.66" width="2.4" height="1.2" fill="#3a76b5" opacity="0.8"/>
<rect x="453.51" y="592.13" width="2.4" height="1.2" fill="#3a76b5" opacity="0.8"/>
<rect x="454.20" y="597.53" width="2.4" height="1.2" fill="#3a76b5" opacity="0.8"/>
<rect x="452.48" y="604.04" width="2.4" height="1.2" fill="#3a76b5" opacity="0.8"/>
<rect x="452.56" y="586.50" width="2.4" height="1.2" fill="#3a76b5" opacity="0.8"/>
<rect x="453.85" y="587.41" width="2.4" height="1.2" fill="#3a76b5" opacity="0.8"/>
<rect x="451.19" y="602.80" width="2.4" height="1.2" fill="#3a76b5" opacity="0.8"/>
<rect x="452.83" y="588.96" width="2.4" height="1.2" fill="#3a76b5" opacity="0.8"/>
<rect x="454.30" y="600.51" width="2.4" height="1.2" fill="#3a76b5" opacity="0.8"/>
<rect x="450.86" y="575.65" width="2.2" height="1.1" fill="#8fb3d8" opacity="0.9"/>
<rect x="450.65" y="578.34" width="2.2" height="1.1" fill="#8fb3d8" opacity="0.9"/>
<rect x="452.92" y="582.01" width="2.2" height="1.1" fill="#8fb3d8" opacity="0.9"/>
<rect x="453.26" y="579.87" width="2.2" height="1.1" fill="#8fb3d8" opacity="0.9"/>
<rect x="453.48" y="574.25" width="2.2" height="1.1" fill="#8fb3d8" opacity="0.9"/>
<rect x="452.03" y="576.07" width="2.2" height="1.1" fill="#8fb3d8" opacity="0.9"/>
<rect x="451.59" y="569.45" width="2.2" height="1.1" fill="#8fb3d8" opacity="0.9"/>
<rect x="450.98" y="560.05" width="2.2" height="1.1" fill="#8fb3d8" opacity="0.9"/>
<rect x="451.19" y="580.14" width="2.2" height="1.1" fill="#8fb3d8" opacity="0.9"/>
<rect x="452.94" y="576.44" width="2.2" height="1.1" fill="#8fb3d8" opacity="0.9"/>
<rect x="452.11" y="577.51" width="2.2" height="1.1" fill="#8fb3d8" opacity="0.9"/>
<rect x="451.33" y="567.67" width="2.2" height="1.1" fill="#8fb3d8" opacity="0.9"/>
<rect x="452.53" y="564.32" width="2.2" height="1.1" fill="#8fb3d8" opacity="0.9"/>
<rect x="453.48" y="577.29" width="2.2" height="1.1" fill="#8fb3d8" opacity="0.9"/>
<rect x="461.10" y="578.75" width="2.2" height="1.1" fill="#9b7bb3" opacity="0.9"/>
<rect x="459.06" y="586.30" width="2.2" height="1.1" fill="#9b7bb3" opacity="0.9"/>
<rect x="460.11" y="586.83" width="2.2" height="1.1" fill="#9b7bb3" opacity="0.9"/>
<rect x="460.61" y="586.96" width="2.2" height="1.1" fill="#9b7bb3" opacity="0.9"/>
<rect x="459.02" y="578.78" width="2.2" height="1.1" fill="#9b7bb3" opacity="0.9"/>
<rect x="459.69" y="581.24" width="2.2" height="1.1" fill="#9b7bb3" opacity="0.9"/>
<rect x="460.89" y="574.91" width="2.2" height="1.1" fill="#9b7bb3" opacity="0.9"/>
<rect x="459.64" y="581.41" width="2.2" height="1.1" fill="#9b7bb3" opacity="0.9"/>
<rect x="458.93" y="584.13" width="2.2" height="1.1" fill="#9b7bb3" opacity="0.9"/>
<rect x="459.99" y="577.04" width="2.2" height="1.1" fill="#9b7bb3" opacity="0.9"/>
<line x1="457.83" y1="580.50" x2="463.83" y2="580.50" stroke="#8a6aa3" stroke-width="1.0"/>
<rect x="466.59" y="609.50" width="2.4" height="1.2" fill="#b01040" opacity="0.8"/>
<rect x="465.91" y="609.07" width="2.4" height="1.2" fill="#b01040" opacity="0.8"/>
<rect x="467.42" y="609.79" width="2.4" height="1.2" fill="#b01040" opacity="0.8"/>
<rect x="467.72" y="611.27" width="2.4" height="1.2" fill="#b01040" opacity="0.8"/>
<rect x="466.86" y="609.94" width="2.4" height="1.2" fill="#b01040" opacity="0.8"/>
<rect x="467.19" y="609.49" width="2.4" height="1.2" fill="#b01040" opacity="0.8"/>
<rect x="466.20" y="611.30" width="2.4" height="1.2" fill="#b01040" opacity="0.8"/>
<rect x="468.18" y="609.98" width="2.4" height="1.2" fill="#b01040" opacity="0.8"/>
<rect x="467.53" y="610.81" width="2.4" height="1.2" fill="#b01040" opacity="0.8"/>
<rect x="469.31" y="610.50" width="2.4" height="1.2" fill="#b01040" opacity="0.8"/>
<rect x="466.48" y="611.16" width="2.4" height="1.2" fill="#b01040" opacity="0.8"/>
<rect x="469.68" y="610.25" width="2.4" height="1.2" fill="#b01040" opacity="0.8"/>
<rect x="465.81" y="610.22" width="2.4" height="1.2" fill="#b01040" opacity="0.8"/>
<rect x="465.49" y="610.82" width="2.4" height="1.2" fill="#b01040" opacity="0.8"/>
<rect x="475.19" y="598.45" width="2.4" height="1.2" fill="#ee9a18" opacity="0.8"/>
<rect x="476.06" y="599.31" width="2.4" height="1.2" fill="#ee9a18" opacity="0.8"/>
<rect x="474.07" y="602.49" width="2.4" height="1.2" fill="#ee9a18" opacity="0.8"/>
<rect x="475.67" y="602.77" width="2.4" height="1.2" fill="#ee9a18" opacity="0.8"/>
<rect x="474.75" y="602.34" width="2.4" height="1.2" fill="#ee9a18" opacity="0.8"/>
<rect x="472.79" y="600.43" width="2.4" height="1.2" fill="#ee9a18" opacity="0.8"/>
<rect x="477.51" y="600.72" width="2.4" height="1.2" fill="#ee9a18" opacity="0.8"/>
<rect x="473.22" y="603.62" width="2.4" height="1.2" fill="#ee9a18" opacity="0.8"/>
<rect x="474.13" y="597.90" width="2.4" height="1.2" fill="#ee9a18" opacity="0.8"/>
<rect x="474.65" y="602.26" width="2.4" height="1.2" fill="#ee9a18" opacity="0.8"/>
<rect x="474.67" y="598.29" width="2.4" height="1.2" fill="#ee9a18" opacity="0.8"/>
<rect x="476.32" y="601.41" width="2.4" height="1.2" fill="#ee9a18" opacity="0.8"/>
<rect x="475.79" y="600.22" width="2.4" height="1.2" fill="#ee9a18" opacity="0.8"/>
<rect x="475.57" y="602.17" width="2.4" height="1.2" fill="#ee9a18" opacity="0.8"/>
<rect x="475.70" y="597.72" width="2.4" height="1.2" fill="#ee9a18" opacity="0.8"/>
<rect x="473.16" y="598.30" width="2.4" height="1.2" fill="#ee9a18" opacity="0.8"/>
<rect x="472.27" y="600.72" width="2.4" height="1.2" fill="#ee9a18" opacity="0.8"/>
<rect x="474.57" y="597.91" width="2.4" height="1.2" fill="#ee9a18" opacity="0.8"/>
<rect x="472.77" y="600.68" width="2.4" height="1.2" fill="#ee9a18" opacity="0.8"/>
<rect x="476.18" y="604.08" width="2.4" height="1.2" fill="#ee9a18" opacity="0.8"/>
<rect x="475.46" y="600.81" width="2.4" height="1.2" fill="#ee9a18" opacity="0.8"/>
<rect x="477.48" y="599.61" width="2.4" height="1.2" fill="#ee9a18" opacity="0.8"/>
<rect x="474.19" y="598.24" width="2.4" height="1.2" fill="#ee9a18" opacity="0.8"/>
<rect x="476.69" y="598.95" width="2.4" height="1.2" fill="#ee9a18" opacity="0.8"/>
<rect x="474.47" y="600.96" width="2.4" height="1.2" fill="#ee9a18" opacity="0.8"/>
<rect x="477.09" y="600.19" width="2.4" height="1.2" fill="#ee9a18" opacity="0.8"/>
<rect x="476.40" y="599.20" width="2.4" height="1.2" fill="#ee9a18" opacity="0.8"/>
<rect x="474.71" y="602.36" width="2.4" height="1.2" fill="#ee9a18" opacity="0.8"/>
<rect x="474.63" y="599.96" width="2.4" height="1.2" fill="#ee9a18" opacity="0.8"/>
<rect x="473.94" y="600.57" width="2.4" height="1.2" fill="#ee9a18" opacity="0.8"/>
<rect x="474.75" y="595.38" width="2.2" height="1.1" fill="#f5c270" opacity="0.9"/>
<rect x="476.05" y="593.62" width="2.2" height="1.1" fill="#f5c270" opacity="0.9"/>
<rect x="474.97" y="594.45" width="2.2" height="1.1" fill="#f5c270" opacity="0.9"/>
<rect x="474.91" y="596.79" width="2.2" height="1.1" fill="#f5c270" opacity="0.9"/>
<rect x="476.50" y="594.02" width="2.2" height="1.1" fill="#f5c270" opacity="0.9"/>
<rect x="476.10" y="597.32" width="2.2" height="1.1" fill="#f5c270" opacity="0.9"/>
<rect x="483.51" y="605.40" width="2.4" height="1.2" fill="#2e9c40" opacity="0.8"/>
<rect x="481.71" y="606.25" width="2.4" height="1.2" fill="#2e9c40" opacity="0.8"/>
<rect x="484.73" y="606.21" width="2.4" height="1.2" fill="#2e9c40" opacity="0.8"/>
<rect x="483.47" y="606.04" width="2.4" height="1.2" fill="#2e9c40" opacity="0.8"/>
<rect x="483.43" y="605.49" width="2.4" height="1.2" fill="#2e9c40" opacity="0.8"/>
<rect x="483.83" y="604.96" width="2.4" height="1.2" fill="#2e9c40" opacity="0.8"/>
<rect x="485.13" y="605.75" width="2.4" height="1.2" fill="#2e9c40" opacity="0.8"/>
<rect x="483.68" y="605.25" width="2.4" height="1.2" fill="#2e9c40" opacity="0.8"/>
<rect x="482.39" y="604.44" width="2.4" height="1.2" fill="#2e9c40" opacity="0.8"/>
<rect x="481.58" y="606.32" width="2.4" height="1.2" fill="#2e9c40" opacity="0.8"/>
<rect x="481.23" y="605.93" width="2.4" height="1.2" fill="#2e9c40" opacity="0.8"/>
<rect x="485.15" y="605.40" width="2.4" height="1.2" fill="#2e9c40" opacity="0.8"/>
<rect x="484.38" y="604.89" width="2.4" height="1.2" fill="#2e9c40" opacity="0.8"/>
<rect x="482.91" y="604.55" width="2.4" height="1.2" fill="#2e9c40" opacity="0.8"/>
<rect x="484.03" y="606.45" width="2.4" height="1.2" fill="#2e9c40" opacity="0.8"/>
<rect x="483.10" y="605.38" width="2.4" height="1.2" fill="#2e9c40" opacity="0.8"/>
<rect x="482.95" y="601.45" width="2.2" height="1.1" fill="#86c98e"/>
<rect x="491.49" y="595.92" width="2.4" height="1.2" fill="#3a76b5" opacity="0.8"/>
<rect x="488.94" y="593.64" width="2.4" height="1.2" fill="#3a76b5" opacity="0.8"/>
<rect x="490.62" y="595.22" width="2.4" height="1.2" fill="#3a76b5" opacity="0.8"/>
<rect x="493.03" y="593.20" width="2.4" height="1.2" fill="#3a76b5" opacity="0.8"/>
<rect x="491.47" y="588.11" width="2.4" height="1.2" fill="#3a76b5" opacity="0.8"/>
<rect x="491.49" y="590.46" width="2.4" height="1.2" fill="#3a76b5" opacity="0.8"/>
<rect x="489.53" y="598.28" width="2.4" height="1.2" fill="#3a76b5" opacity="0.8"/>
<rect x="490.47" y="593.49" width="2.4" height="1.2" fill="#3a76b5" opacity="0.8"/>
<rect x="488.45" y="592.59" width="2.4" height="1.2" fill="#3a76b5" opacity="0.8"/>
<rect x="492.44" y="594.22" width="2.4" height="1.2" fill="#3a76b5" opacity="0.8"/>
<rect x="489.20" y="594.69" width="2.4" height="1.2" fill="#3a76b5" opacity="0.8"/>
<rect x="489.95" y="596.48" width="2.4" height="1.2" fill="#3a76b5" opacity="0.8"/>
<rect x="490.75" y="588.22" width="2.4" height="1.2" fill="#3a76b5" opacity="0.8"/>
<rect x="490.48" y="592.15" width="2.4" height="1.2" fill="#3a76b5" opacity="0.8"/>
<rect x="490.53" y="598.79" width="2.4" height="1.2" fill="#3a76b5" opacity="0.8"/>
<rect x="489.80" y="598.32" width="2.4" height="1.2" fill="#3a76b5" opacity="0.8"/>
<rect x="488.27" y="595.89" width="2.4" height="1.2" fill="#3a76b5" opacity="0.8"/>
<rect x="491.29" y="590.15" width="2.4" height="1.2" fill="#3a76b5" opacity="0.8"/>
<rect x="492.01" y="595.03" width="2.4" height="1.2" fill="#3a76b5" opacity="0.8"/>
<rect x="489.08" y="591.15" width="2.4" height="1.2" fill="#3a76b5" opacity="0.8"/>
<rect x="490.51" y="590.88" width="2.4" height="1.2" fill="#3a76b5" opacity="0.8"/>
<rect x="489.90" y="586.70" width="2.4" height="1.2" fill="#3a76b5" opacity="0.8"/>
<rect x="488.45" y="594.62" width="2.4" height="1.2" fill="#3a76b5" opacity="0.8"/>
<rect x="492.24" y="590.29" width="2.4" height="1.2" fill="#3a76b5" opacity="0.8"/>
<rect x="489.41" y="598.07" width="2.4" height="1.2" fill="#3a76b5" opacity="0.8"/>
<rect x="488.62" y="588.62" width="2.4" height="1.2" fill="#3a76b5" opacity="0.8"/>
<rect x="491.41" y="587.47" width="2.4" height="1.2" fill="#3a76b5" opacity="0.8"/>
<rect x="489.15" y="595.64" width="2.4" height="1.2" fill="#3a76b5" opacity="0.8"/>
<rect x="491.40" y="592.51" width="2.4" height="1.2" fill="#3a76b5" opacity="0.8"/>
<rect x="491.36" y="586.75" width="2.4" height="1.2" fill="#3a76b5" opacity="0.8"/>
<rect x="489.11" y="597.14" width="2.4" height="1.2" fill="#3a76b5" opacity="0.8"/>
<rect x="491.33" y="595.19" width="2.4" height="1.2" fill="#3a76b5" opacity="0.8"/>
<rect x="492.31" y="590.61" width="2.4" height="1.2" fill="#3a76b5" opacity="0.8"/>
<rect x="490.19" y="589.13" width="2.4" height="1.2" fill="#3a76b5" opacity="0.8"/>
<rect x="490.01" y="590.32" width="2.4" height="1.2" fill="#3a76b5" opacity="0.8"/>
<rect x="490.62" y="596.55" width="2.4" height="1.2" fill="#3a76b5" opacity="0.8"/>
<rect x="492.97" y="594.02" width="2.4" height="1.2" fill="#3a76b5" opacity="0.8"/>
<rect x="489.00" y="589.19" width="2.4" height="1.2" fill="#3a76b5" opacity="0.8"/>
<rect x="488.41" y="594.15" width="2.4" height="1.2" fill="#3a76b5" opacity="0.8"/>
<rect x="489.78" y="598.45" width="2.4" height="1.2" fill="#3a76b5" opacity="0.8"/>
<rect x="490.19" y="580.85" width="2.2" height="1.1" fill="#8fb3d8" opacity="0.9"/>
<rect x="491.74" y="584.73" width="2.2" height="1.1" fill="#8fb3d8" opacity="0.9"/>
<rect x="489.36" y="583.22" width="2.2" height="1.1" fill="#8fb3d8" opacity="0.9"/>
<rect x="491.07" y="580.00" width="2.2" height="1.1" fill="#8fb3d8" opacity="0.9"/>
<rect x="491.63" y="578.61" width="2.2" height="1.1" fill="#8fb3d8" opacity="0.9"/>
<rect x="489.53" y="585.17" width="2.2" height="1.1" fill="#8fb3d8" opacity="0.9"/>
<rect x="489.54" y="580.09" width="2.2" height="1.1" fill="#8fb3d8" opacity="0.9"/>
<rect x="488.96" y="583.64" width="2.2" height="1.1" fill="#8fb3d8" opacity="0.9"/>
<rect x="495.73" y="590.52" width="2.4" height="1.2" fill="#532673" opacity="0.8"/>
<rect x="498.17" y="591.80" width="2.4" height="1.2" fill="#532673" opacity="0.8"/>
<rect x="495.75" y="589.53" width="2.4" height="1.2" fill="#532673" opacity="0.8"/>
<rect x="497.48" y="584.79" width="2.4" height="1.2" fill="#532673" opacity="0.8"/>
<rect x="498.30" y="593.07" width="2.4" height="1.2" fill="#532673" opacity="0.8"/>
<rect x="496.17" y="591.99" width="2.4" height="1.2" fill="#532673" opacity="0.8"/>
<rect x="496.12" y="585.30" width="2.4" height="1.2" fill="#532673" opacity="0.8"/>
<rect x="496.32" y="590.53" width="2.4" height="1.2" fill="#532673" opacity="0.8"/>
<rect x="498.81" y="586.80" width="2.4" height="1.2" fill="#532673" opacity="0.8"/>
<rect x="497.07" y="590.52" width="2.4" height="1.2" fill="#532673" opacity="0.8"/>
<rect x="496.80" y="588.51" width="2.4" height="1.2" fill="#532673" opacity="0.8"/>
<rect x="497.18" y="589.34" width="2.4" height="1.2" fill="#532673" opacity="0.8"/>
<rect x="496.63" y="587.57" width="2.4" height="1.2" fill="#532673" opacity="0.8"/>
<rect x="496.77" y="586.97" width="2.4" height="1.2" fill="#532673" opacity="0.8"/>
<rect x="497.37" y="584.54" width="2.4" height="1.2" fill="#532673" opacity="0.8"/>
<rect x="496.71" y="589.61" width="2.4" height="1.2" fill="#532673" opacity="0.8"/>
<rect x="499.35" y="585.39" width="2.4" height="1.2" fill="#532673" opacity="0.8"/>
<rect x="498.05" y="588.53" width="2.4" height="1.2" fill="#532673" opacity="0.8"/>
<rect x="499.98" y="587.14" width="2.4" height="1.2" fill="#532673" opacity="0.8"/>
<rect x="498.57" y="591.04" width="2.4" height="1.2" fill="#532673" opacity="0.8"/>
<rect x="499.00" y="590.20" width="2.4" height="1.2" fill="#532673" opacity="0.8"/>
<rect x="497.49" y="588.80" width="2.4" height="1.2" fill="#532673" opacity="0.8"/>
<rect x="498.00" y="587.83" width="2.4" height="1.2" fill="#532673" opacity="0.8"/>
<rect x="498.14" y="588.52" width="2.4" height="1.2" fill="#532673" opacity="0.8"/>
<rect x="499.59" y="589.09" width="2.4" height="1.2" fill="#532673" opacity="0.8"/>
<rect x="496.90" y="592.25" width="2.4" height="1.2" fill="#532673" opacity="0.8"/>
<rect x="497.33" y="584.60" width="2.4" height="1.2" fill="#532673" opacity="0.8"/>
<rect x="498.97" y="584.68" width="2.4" height="1.2" fill="#532673" opacity="0.8"/>
<rect x="496.82" y="589.86" width="2.4" height="1.2" fill="#532673" opacity="0.8"/>
<rect x="499.64" y="586.08" width="2.4" height="1.2" fill="#532673" opacity="0.8"/>
<rect x="498.77" y="591.76" width="2.4" height="1.2" fill="#532673" opacity="0.8"/>
<rect x="499.24" y="590.49" width="2.4" height="1.2" fill="#532673" opacity="0.8"/>
<rect x="497.99" y="579.05" width="2.2" height="1.1" fill="#9b7bb3"/>
<rect x="497.87" y="581.95" width="2.2" height="1.1" fill="#9b7bb3"/>
<text x="394.10" y="629.80" font-size="6.5" text-anchor="end" transform="rotate(-90 394.10 629.80)">CD4N</text>
<text x="401.77" y="629.80" font-size="6.5" text-anchor="end" transform="rotate(-90 401.77 629.80)">CD4M</text>
<text x="409.44" y="629.80" font-size="6.5" text-anchor="end" transform="rotate(-90 409.44 629.80)">CD8N</text>
<text x="417.11" y="629.80" font-size="6.5" text-anchor="end" transform="rotate(-90 417.11 629.80)">CD8M</text>
<text x="424.78" y="629.80" font-size="6.5" text-anchor="end" transform="rotate(-90 424.78 629.80)">Treg</text>
<text x="432.45" y="629.80" font-size="6.5" text-anchor="end" transform="rotate(-90 432.45 629.80)">CD4N</text>
<text x="440.12" y="629.80" font-size="6.5" text-anchor="end" transform="rotate(-90 440.12 629.80)">CD4M</text>
<text x="447.79" y="629.80" font-size="6.5" text-anchor="end" transform="rotate(-90 447.79 629.80)">CD8N</text>
<text x="455.46" y="629.80" font-size="6.5" text-anchor="end" transform="rotate(-90 455.46 629.80)">CD8M</text>
<text x="463.13" y="629.80" font-size="6.5" text-anchor="end" transform="rotate(-90 463.13 629.80)">Treg</text>
<text x="470.80" y="629.80" font-size="6.5" text-anchor="end" transform="rotate(-90 470.80 629.80)">CD4N</text>
<text x="478.47" y="629.80" font-size="6.5" text-anchor="end" transform="rotate(-90 478.47 629.80)">CD4M</text>
<text x="486.14" y="629.80" font-size="6.5" text-anchor="end" transform="rotate(-90 486.14 629.80)">CD8N</text>
<text x="493.81" y="629.80" font-size="6.5" text-anchor="end" transform="rotate(-90 493.81 629.80)">CD8M</text>
<text x="501.48" y="629.80" font-size="6.5" text-anchor="end" transform="rotate(-90 501.48 629.80)">Treg</text>
<text x="406.90" y="544.20" font-size="6.5" text-anchor="middle" textLength="19.4" lengthAdjust="spacingAndGlyphs">Pre GT</text>
<text x="445.50" y="544.20" font-size="6.5" text-anchor="middle" textLength="35.5" lengthAdjust="spacingAndGlyphs">Post GT (1Y)</text>
<text x="484.00" y="544.20" font-size="6.5" text-anchor="middle" textLength="9" lengthAdjust="spacingAndGlyphs">HC</text>
<text x="450.50" y="530.30" font-size="8.4" text-anchor="middle" textLength="33.4" lengthAdjust="spacingAndGlyphs">Patient 3</text>
<text x="358.80" y="587.00" font-size="7.4" text-anchor="middle" transform="rotate(-90 358.80 587.00)" textLength="37.8" lengthAdjust="spacingAndGlyphs">% Repertoire</text>
<rect x="0.5" y="0.5" width="519" height="654" fill="none" stroke="#4a4a4a" stroke-width="1"/>
</svg>
</body></html>
